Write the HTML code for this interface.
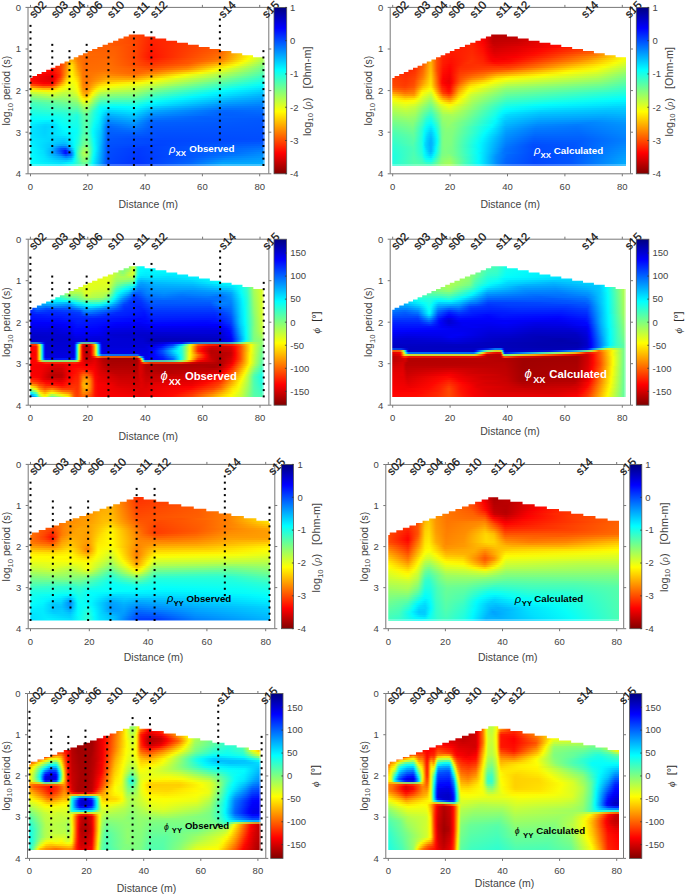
<!DOCTYPE html>
<html><head><meta charset="utf-8"><style>
html,body{margin:0;padding:0;background:#fff;}
body{width:685px;height:895px;position:relative;overflow:hidden;}
i{position:absolute;display:block;}
svg{position:absolute;left:0;top:0;}
.tl{font:9.5px "Liberation Sans",sans-serif;fill:#444;}
.al{font:10.5px "Liberation Sans",sans-serif;fill:#444;}
.cl{font:10.8px "Liberation Sans",sans-serif;fill:#444;}
.st{font:11.6px "Liberation Sans",sans-serif;fill:#111;stroke:#111;stroke-width:0.25px;}
.an{font:bold 10px "Liberation Sans",sans-serif;}
</style></head><body>
<i style="left:129px;top:30px;width:16px;height:2px;background:linear-gradient(90deg,#ff7c40 0px,#ff6840 14px,#ffb39f 15px)"></i>
<i style="left:123px;top:32px;width:33px;height:2px;background:linear-gradient(90deg,#ffbf9f 0px,#ff7f40 1px,#ff7c40 5px,#ff5000 6px,#ff3500 20px,#ff6440 22px,#ff5b40 31px,#ffad9f 32px)"></i>
<i style="left:118px;top:34px;width:48px;height:2px;background:linear-gradient(90deg,#ffc19f 0px,#ff8240 1px,#ff8040 4px,#ff5400 6px,#ff3c00 22px,#ff2400 35px,#ff2500 36px,#ff5c40 38px,#ff5e40 47px)"></i>
<i style="left:113px;top:36px;width:64px;height:2px;background:linear-gradient(90deg,#ff8540 0px,#ff8340 4px,#ff5800 6px,#ff4100 25px,#ff2400 40px,#ff2800 52px,#ff5e40 53px,#ff6040 63px)"></i>
<i style="left:108px;top:38px;width:80px;height:2px;background:linear-gradient(90deg,#ff8840 0px,#ff8640 4px,#ff5d00 5px,#ff4300 29px,#ff2200 45px,#ff2b00 68px,#ff6040 69px,#ff6440 79px)"></i>
<i style="left:102px;top:40px;width:97px;height:2px;background:linear-gradient(90deg,#ffc49f 0px,#ff8840 1px,#ff8840 5px,#ff6100 6px,#ff4200 35px,#ff2000 50px,#ff3100 85px,#ff6540 86px,#ff6e40 96px)"></i>
<i style="left:97px;top:42px;width:113px;height:2px;background:linear-gradient(90deg,#ffd7bf 0px,#ffb080 1px,#ffb080 4px,#ff6100 6px,#ff4500 39px,#ff1e00 55px,#ff3d00 100px,#ff3e00 101px,#ff9f80 102px,#ffa480 111px,#ffd2bf 112px)"></i>
<i style="left:92px;top:44px;width:129px;height:2px;background:linear-gradient(90deg,#ffb080 0px,#ffb080 4px,#ff6100 6px,#ff4c00 41px,#ff1c00 60px,#ff4a00 115px,#ff4b00 116px,#ffa680 118px,#ffab80 127px,#ffd6bf 128px)"></i>
<i style="left:87px;top:46px;width:145px;height:2px;background:linear-gradient(90deg,#ffd7bf 0px,#ffb080 1px,#ffb080 4px,#ff6100 5px,#ff5a00 31px,#ff4100 50px,#ff1b00 65px,#ff5800 132px,#ffb080 134px,#ffc880 143px,#ffe4bf 144px)"></i>
<i style="left:83px;top:48px;width:159px;height:2px;background:linear-gradient(90deg,#ffb080 0px,#ffb080 3px,#ff6100 5px,#ff5d00 33px,#ff4400 53px,#ff1900 69px,#ff5d00 137px,#ff9100 147px,#ffce80 149px,#ffe580 158px)"></i>
<i style="left:78px;top:50px;width:175px;height:2px;background:linear-gradient(90deg,#ffdabf 0px,#ffb480 1px,#ffb180 4px,#ff6200 5px,#ff6000 36px,#ff4300 58px,#ff1700 74px,#ff6100 142px,#ffcd00 163px,#ffe980 164px,#fbff83 174px)"></i>
<i style="left:73px;top:52px;width:191px;height:2px;background:linear-gradient(90deg,#ffe3bf 0px,#ffc480 1px,#ffb780 4px,#ff6800 6px,#ff6000 42px,#ff4300 63px,#ff1500 78px,#ff6600 147px,#fcff03 178px,#f7ff08 179px,#f8ff86 180px,#dfff9f 190px)"></i>
<i style="left:69px;top:54px;width:196px;height:2px;background:linear-gradient(90deg,#ffc380 0px,#ffcc80 3px,#ff8900 5px,#ff6b00 9px,#ff6600 26px,#ff6100 46px,#ff4300 67px,#ff1300 82px,#ff6c00 151px,#faff05 182px,#c0ff3f 194px,#efffd0 195px)"></i>
<i style="left:64px;top:56px;width:201px;height:2px;background:linear-gradient(90deg,#ffebdf 0px,#ffd8bf 1px,#ffdfbf 4px,#ff8900 5px,#ff9b00 8px,#ff6d00 15px,#ff6500 27px,#ff6400 49px,#ff4300 72px,#ff1200 87px,#ff7100 156px,#fcff03 186px,#beff41 199px,#ddffa1 200px)"></i>
<i style="left:60px;top:58px;width:205px;height:2px;background:linear-gradient(90deg,#ffcdbf 0px,#ffd4bf 3px,#ff6400 5px,#ffa700 11px,#ffa100 13px,#ff7600 18px,#ff6600 26px,#ff6700 52px,#ff4500 76px,#ff1900 91px,#ff7700 160px,#fcfe03 188px,#b3ff4c 203px,#d8ffa6 204px)"></i>
<i style="left:55px;top:60px;width:210px;height:2px;background:linear-gradient(90deg,#ffe4df 0px,#ffcabf 1px,#ffccbf 4px,#ff3900 5px,#ff7d00 12px,#ffb800 16px,#ffb100 18px,#ff7c00 23px,#ff6700 30px,#ff6a00 56px,#ff4600 82px,#ff2400 97px,#ff6500 147px,#ff8b00 166px,#fbfe04 190px,#a5ff5a 208px,#d1ffae 209px)"></i>
<i style="left:51px;top:62px;width:214px;height:2px;background:linear-gradient(90deg,#ffc6bf 0px,#ffc8bf 3px,#ff2900 5px,#ff4100 10px,#ff7400 15px,#ffca00 20px,#ffcc00 21px,#ff8300 27px,#ff6800 33px,#ff6b00 60px,#ff4600 88px,#ff2e00 101px,#ff5700 138px,#ffac00 171px,#f9fe06 190px,#96ff69 212px,#c9ffb5 213px)"></i>
<i style="left:46px;top:64px;width:219px;height:2px;background:linear-gradient(90deg,#ffc6bf 0px,#ffc6bf 4px,#ff1a00 5px,#ff4200 15px,#ff7900 20px,#ffdb00 25px,#ffde00 26px,#ff8900 32px,#ff6900 38px,#ff6d00 65px,#ff4000 99px,#ff3a00 108px,#ff6400 142px,#ffd200 178px,#f8fe07 190px,#87ff78 217px,#c2ffbd 218px)"></i>
<i style="left:41px;top:66px;width:224px;height:2px;background:linear-gradient(90deg,#ffe2df 0px,#ffc6bf 1px,#ffc5bf 4px,#ff1900 5px,#ff2100 13px,#ff4000 20px,#ff7e00 25px,#ffe300 30px,#ffe700 31px,#ff8f00 37px,#ff6a00 43px,#ff6f00 70px,#ff4500 112px,#ff7900 147px,#fafc05 187px,#79ff86 222px,#bbffc3 223px)"></i>
<i style="left:41px;top:68px;width:224px;height:2px;background:linear-gradient(90deg,#ff8c80 0px,#ff1900 1px,#ff1600 12px,#ff3300 19px,#ff8300 25px,#ffe700 30px,#ffea00 31px,#ff9600 37px,#ff6b00 43px,#ff7100 69px,#ff5300 110px,#ff8b00 146px,#fafd05 178px,#6dff92 222px,#b5ffc9 223px)"></i>
<i style="left:37px;top:70px;width:228px;height:2px;background:linear-gradient(90deg,#ff1500 0px,#ff0700 15px,#ff2f00 23px,#ff9b00 30px,#ffeb00 34px,#ffee00 35px,#ff8b00 43px,#ff6d00 47px,#ff7600 69px,#ff5f00 101px,#ff6f00 119px,#ffb600 152px,#f9fd06 175px,#60ff9f 226px,#afffcf 227px)"></i>
<i style="left:32px;top:72px;width:233px;height:2px;background:linear-gradient(90deg,#ff8a80 0px,#ff1500 1px,#f90000 20px,#ff2c00 28px,#ffa000 35px,#ffee00 39px,#fff300 40px,#ff7200 51px,#ff7500 62px,#ff8000 72px,#ff6400 104px,#ff8700 124px,#fafb05 168px,#54ffab 231px,#a9ffd6 232px)"></i>
<i style="left:30px;top:74px;width:235px;height:2px;background:linear-gradient(90deg,#ff8980 0px,#ff1200 1px,#f60000 15px,#ed0000 22px,#ff0900 26px,#ff2800 30px,#fff300 41px,#fff700 42px,#ff9b00 50px,#ff7500 53px,#ff7500 61px,#ff8b00 75px,#ff7300 105px,#ffac00 128px,#f8fd07 155px,#92ff6d 203px,#47ffb8 233px,#a2ffdc 234px)"></i>
<i style="left:30px;top:76px;width:235px;height:2px;background:linear-gradient(90deg,#ff8480 0px,#ff0900 1px,#e30000 19px,#e10000 22px,#ff0700 26px,#ff3000 30px,#ffba00 37px,#fff800 41px,#fff500 43px,#ffc200 48px,#ff7800 53px,#ff7400 59px,#ff9a00 77px,#ff8e00 105px,#f8fe07 146px,#abff54 183px,#38ffc7 233px,#9bffe3 234px)"></i>
<i style="left:30px;top:78px;width:235px;height:2px;background:linear-gradient(90deg,#ff8480 0px,#ff0600 1px,#db0000 22px,#fd0200 25px,#ff5500 31px,#ffbc00 36px,#fefd01 41px,#fff400 44px,#ffcd00 48px,#ff7b00 53px,#ff7400 58px,#ffa900 78px,#ffa600 104px,#fef601 130px,#cfff30 152px,#2affd5 233px,#94ffeb 234px)"></i>
<i style="left:30px;top:80px;width:235px;height:2px;background:linear-gradient(90deg,#ff8780 0px,#ff0e00 1px,#f20000 11px,#e60000 22px,#fd0300 24px,#ff6800 31px,#ffcf00 36px,#fefc01 40px,#f5ff0a 42px,#fff000 46px,#ffc600 49px,#ff7e00 53px,#ff7500 58px,#ffbb00 77px,#ffcb00 105px,#f9fd06 121px,#1bffe4 233px,#8dfff2 234px)"></i>
<i style="left:30px;top:82px;width:235px;height:2px;background:linear-gradient(90deg,#ff8f80 0px,#ff1d00 1px,#fa0000 14px,#f60000 22px,#ff1500 24px,#ffad00 33px,#ffed00 37px,#f7ff08 40px,#eeff11 42px,#fffa00 46px,#ffe300 48px,#ff8000 53px,#ff7500 57px,#ffc900 73px,#ffe000 87px,#f6fe09 112px,#68ff97 182px,#0dfff2 233px,#86fff9 234px)"></i>
<i style="left:30px;top:84px;width:235px;height:2px;background:linear-gradient(90deg,#ffa880 0px,#ff4f00 1px,#ff1f00 13px,#ff1e00 22px,#ffc300 32px,#fefc01 37px,#e7ff18 42px,#fffa00 47px,#ff8300 53px,#ff7700 57px,#ffdb00 71px,#fff700 83px,#e9ff16 106px,#4cffb3 185px,#01fcfe 233px,#80fdff 234px)"></i>
<i style="left:30px;top:86px;width:235px;height:2px;background:linear-gradient(90deg,#ffcb80 0px,#ff9400 1px,#ff6600 13px,#ff6800 22px,#ffe300 31px,#f4ff0b 36px,#e0ff1f 42px,#fcfe03 47px,#ffc600 50px,#ff8900 53px,#ff7c00 57px,#ffef00 70px,#f1ff0e 80px,#d1ff2e 107px,#85ff7a 142px,#12ffed 209px,#00f1ff 231px,#00efff 233px,#80f7ff 234px)"></i>
<i style="left:30px;top:88px;width:235px;height:2px;background:linear-gradient(90deg,#fff280 0px,#ffe300 1px,#ffb500 13px,#ffb200 22px,#fcfa03 30px,#d9ff26 40px,#e8ff17 45px,#fff900 48px,#ff9400 53px,#ff8600 57px,#ffef00 67px,#f0ff0f 71px,#d6ff29 82px,#beff41 106px,#86ff79 128px,#09fff6 201px,#00e0ff 233px,#80efff 234px)"></i>
<i style="left:30px;top:90px;width:235px;height:2px;background:linear-gradient(90deg,#f3ff8c 0px,#e8ff17 1px,#fdf202 19px,#f0ff0f 27px,#ceff31 37px,#d6ff29 43px,#edff12 47px,#fbfe04 48px,#ffa000 53px,#ff9000 57px,#fff500 65px,#d9ff26 70px,#beff41 81px,#acff53 105px,#72ff8d 126px,#01fcfe 193px,#00d1ff 233px,#80e8ff 234px)"></i>
<i style="left:30px;top:92px;width:235px;height:2px;background:linear-gradient(90deg,#e0ff9f 0px,#c2ff3d 1px,#e4ff1b 22px,#c1ff3e 33px,#c4ff3b 42px,#e2ff1d 47px,#fef901 49px,#ffac00 53px,#ff9b00 57px,#fef801 63px,#b6ff49 71px,#a4ff5b 83px,#98ff67 105px,#5fffa0 125px,#00f8ff 185px,#00c3ff 233px,#80e1ff 234px)"></i>
<i style="left:30px;top:94px;width:235px;height:2px;background:linear-gradient(90deg,#ceffb0 0px,#9fff60 1px,#c7ff38 23px,#afff50 33px,#bbff44 43px,#d0ff2f 47px,#f3ff0c 49px,#ffe200 51px,#ffbc00 53px,#ffab00 57px,#f9fd06 62px,#9eff61 70px,#8cff73 82px,#84ff7b 105px,#4affb5 125px,#00f9ff 174px,#00b5ff 233px,#80daff 234px)"></i>
<i style="left:30px;top:96px;width:235px;height:2px;background:linear-gradient(90deg,#c2ffbc 0px,#87ff78 1px,#adff52 23px,#9dff62 34px,#b7ff48 46px,#caff35 48px,#fdf902 51px,#ffd000 54px,#ffc900 57px,#fdf802 60px,#acff53 66px,#7eff81 71px,#74ff8b 88px,#6fff90 105px,#35ffca 125px,#00f8ff 162px,#00c0ff 209px,#00aaff 233px,#80d4ff 234px)"></i>
<i style="left:30px;top:98px;width:235px;height:2px;background:linear-gradient(90deg,#b7ffc7 0px,#71ff8e 1px,#90ff6f 24px,#8dff72 36px,#a9ff56 47px,#f9fd06 52px,#ffe700 56px,#f7fe08 59px,#a8ff57 64px,#65ff9a 71px,#5cffa3 86px,#59ffa6 105px,#20ffdf 125px,#00f5ff 152px,#00b7ff 203px,#00a0ff 233px,#80cfff 234px)"></i>
<i style="left:30px;top:100px;width:235px;height:2px;background:linear-gradient(90deg,#acffd2 0px,#5affa5 1px,#75ff8a 28px,#8bff74 41px,#96ff69 47px,#ecff13 53px,#f6fe09 57px,#87ff78 65px,#4effb1 71px,#44ffbb 84px,#43ffbc 105px,#0bfff4 125px,#00e5ff 151px,#00aaff 201px,#0095ff 233px,#80caff 234px)"></i>
<i style="left:30px;top:102px;width:235px;height:2px;background:linear-gradient(90deg,#a2ffdc 0px,#46ffb9 1px,#70ff8f 37px,#80ff7f 45px,#8cff73 48px,#cfff30 53px,#d9ff26 57px,#50ffaf 68px,#36ffc9 71px,#2cffd3 83px,#2dffd2 105px,#01fafe 122px,#009eff 198px,#008bff 233px,#80c5ff 234px)"></i>
<i style="left:30px;top:104px;width:235px;height:2px;background:linear-gradient(90deg,#9dffe2 0px,#3bffc4 1px,#60ff9f 36px,#72ff8d 44px,#79ff86 48px,#b4ff4b 53px,#bdff42 57px,#23ffdc 70px,#13ffec 81px,#18ffe7 105px,#00f3ff 117px,#0092ff 192px,#0081ff 233px,#80c0ff 234px)"></i>
<i style="left:30px;top:106px;width:235px;height:2px;background:linear-gradient(90deg,#99ffe6 0px,#33ffcc 1px,#53ffac 36px,#64ff9b 43px,#62ff9d 47px,#a5ff5a 54px,#a8ff57 57px,#0efff1 70px,#01fbfe 82px,#02fdfd 106px,#00cfff 125px,#0081ff 196px,#0077ff 233px,#80bbff 234px)"></i>
<i style="left:30px;top:108px;width:235px;height:2px;background:linear-gradient(90deg,#95ffea 0px,#2bffd4 1px,#46ffb9 36px,#56ffa9 43px,#51ffae 47px,#93ff6c 54px,#97ff68 57px,#2affd5 66px,#00feff 71px,#00e9ff 80px,#00f6ff 104px,#00beff 123px,#0073ff 195px,#0071ff 233px,#80b8ff 234px)"></i>
<i style="left:30px;top:110px;width:235px;height:2px;background:linear-gradient(90deg,#91ffee 0px,#22ffdd 1px,#38ffc7 36px,#48ffb7 43px,#41ffbe 47px,#81ff7e 54px,#85ff7a 57px,#2cffd3 64px,#01fefe 70px,#00d5ff 79px,#00e8ff 104px,#00aaff 123px,#0066ff 194px,#006cff 233px,#80b6ff 234px)"></i>
<i style="left:30px;top:112px;width:235px;height:2px;background:linear-gradient(90deg,#8cfff2 0px,#1affe5 1px,#2affd5 35px,#3affc5 43px,#31ffce 47px,#70ff8f 54px,#73ff8c 57px,#24ffdb 64px,#00faff 70px,#00c3ff 78px,#00dbff 104px,#009cff 122px,#0061ff 195px,#0067ff 233px,#80b3ff 234px)"></i>
<i style="left:30px;top:114px;width:235px;height:2px;background:linear-gradient(90deg,#88fff6 0px,#12ffed 1px,#1affe5 28px,#26ffd9 38px,#2dffd2 43px,#22ffdd 47px,#5fffa0 54px,#63ff9c 57px,#18ffe7 65px,#00f5ff 70px,#00b1ff 78px,#00cdff 104px,#008eff 122px,#005fff 195px,#0062ff 233px,#80b1ff 234px)"></i>
<i style="left:30px;top:116px;width:235px;height:2px;background:linear-gradient(90deg,#85fffa 0px,#0afff5 1px,#0dfff2 25px,#22ffdd 39px,#26ffd9 43px,#1bffe4 47px,#58ffa7 54px,#5dffa2 57px,#0dfff2 66px,#00f8ff 69px,#00a2ff 78px,#00c0ff 104px,#0080ff 122px,#0062ff 171px,#005dff 233px,#80aeff 234px)"></i>
<i style="left:30px;top:118px;width:235px;height:2px;background:linear-gradient(90deg,#81fffd 0px,#03fffc 1px,#06fff9 26px,#21ffde 43px,#18ffe7 47px,#57ffa8 54px,#5bffa4 57px,#0ffff0 65px,#00f4ff 69px,#0096ff 78px,#00b3ff 104px,#0073ff 122px,#005dff 176px,#0059ff 233px,#80acff 234px)"></i>
<i style="left:30px;top:120px;width:235px;height:2px;background:linear-gradient(90deg,#80feff 0px,#00fbff 1px,#00eeff 21px,#0bfff4 30px,#1dffe2 43px,#15ffea 47px,#56ffa9 54px,#5affa5 57px,#0afff5 65px,#00efff 69px,#0089ff 78px,#00a5ff 104px,#0066ff 122px,#0056ff 233px,#80abff 234px)"></i>
<i style="left:30px;top:122px;width:235px;height:2px;background:linear-gradient(90deg,#80faff 0px,#00f4ff 1px,#00e3ff 17px,#00ecff 24px,#06fff9 30px,#19ffe6 43px,#13ffec 47px,#55ffaa 54px,#58ffa7 57px,#0cfff3 64px,#00f2ff 68px,#00cbff 72px,#007dff 78px,#0099ff 104px,#005fff 122px,#0055ff 233px,#80aaff 234px)"></i>
<i style="left:30px;top:124px;width:235px;height:2px;background:linear-gradient(90deg,#80f7ff 0px,#00edff 1px,#00d7ff 15px,#00ddff 23px,#03fffc 31px,#13ffec 44px,#17ffe8 48px,#53ffac 54px,#57ffa8 57px,#07fff8 64px,#00dfff 70px,#0070ff 78px,#008eff 104px,#005cff 122px,#0054ff 233px,#80aaff 234px)"></i>
<i style="left:30px;top:126px;width:235px;height:2px;background:linear-gradient(90deg,#80f4ff 0px,#00e7ff 1px,#00d2ff 15px,#00d9ff 23px,#00feff 32px,#0ffff0 44px,#15ffea 48px,#4dffb2 53px,#56ffa9 57px,#02fffd 64px,#00dbff 70px,#0066ff 78px,#0084ff 104px,#0058ff 123px,#0053ff 233px,#80a9ff 234px)"></i>
<i style="left:30px;top:128px;width:235px;height:2px;background:linear-gradient(90deg,#80f2ff 0px,#00e4ff 1px,#00d2ff 15px,#00deff 24px,#00fcff 33px,#0bfff4 47px,#51ffae 54px,#54ffab 57px,#05fffa 63px,#00d7ff 70px,#0062ff 78px,#0077ff 105px,#0055ff 123px,#0052ff 233px,#80a9ff 234px)"></i>
<i style="left:30px;top:130px;width:235px;height:2px;background:linear-gradient(90deg,#80f2ff 0px,#00e4ff 1px,#00d3ff 15px,#00e1ff 25px,#01fffe 38px,#08fff7 47px,#50ffaf 54px,#53ffac 57px,#02fefd 63px,#00c7ff 71px,#0060ff 78px,#006bff 106px,#0052ff 124px,#0051ff 233px,#80a8ff 234px)"></i>
<i style="left:30px;top:132px;width:235px;height:2px;background:linear-gradient(90deg,#80f2ff 0px,#00e4ff 1px,#00d3ff 15px,#00f4ff 35px,#08fff7 47px,#51ffae 54px,#55ffaa 57px,#01fdfe 63px,#00c3ff 71px,#005dff 78px,#0061ff 107px,#004fff 126px,#0050ff 233px,#80a8ff 234px)"></i>
<i style="left:30px;top:134px;width:235px;height:2px;background:linear-gradient(90deg,#80f2ff 0px,#00e4ff 1px,#00d5ff 15px,#00f2ff 38px,#06fff9 45px,#13ffec 48px,#51ffae 53px,#5bffa4 57px,#03fffc 63px,#00c0ff 71px,#005bff 78px,#0058ff 109px,#004dff 129px,#004fff 233px,#80a7ff 234px)"></i>
<i style="left:30px;top:136px;width:235px;height:2px;background:linear-gradient(90deg,#80f3ff 0px,#00e5ff 1px,#00d7ff 15px,#00e0ff 36px,#03fffc 44px,#17ffe8 48px,#56ffa9 53px,#61ff9e 57px,#06fff9 63px,#00beff 71px,#0059ff 78px,#0050ff 112px,#004bff 135px,#004eff 233px,#80a7ff 234px)"></i>
<i style="left:30px;top:138px;width:235px;height:2px;background:linear-gradient(90deg,#80f4ff 0px,#00e8ff 1px,#00d8ff 17px,#00d2ff 35px,#02fffd 44px,#1affe5 48px,#5bffa4 53px,#67ff98 57px,#01fdfe 64px,#00bbff 71px,#0056ff 78px,#0048ff 117px,#004dff 233px,#80a6ff 234px)"></i>
<i style="left:30px;top:140px;width:235px;height:2px;background:linear-gradient(90deg,#80f6ff 0px,#00ebff 1px,#00c7ff 34px,#00d8ff 38px,#01fffe 44px,#1effe1 48px,#60ff9f 53px,#6eff91 57px,#02fffd 64px,#00b8ff 71px,#0054ff 78px,#0045ff 131px,#0050ff 233px,#80a7ff 234px)"></i>
<i style="left:30px;top:142px;width:235px;height:2px;background:linear-gradient(90deg,#80f7ff 0px,#00efff 1px,#00c7ff 26px,#00bcff 34px,#00c6ff 37px,#01fefe 44px,#21ffde 48px,#65ff9a 53px,#74ff8b 57px,#05fffa 64px,#00b5ff 71px,#0052ff 78px,#0045ff 131px,#0059ff 233px,#80acff 234px)"></i>
<i style="left:30px;top:144px;width:235px;height:2px;background:linear-gradient(90deg,#80f9ff 0px,#00f2ff 1px,#00c4ff 24px,#00a6ff 32px,#00aaff 36px,#01fefe 44px,#35ffca 49px,#74ff8b 54px,#7cff83 57px,#07fff8 64px,#00ccff 69px,#0050ff 78px,#0042ff 125px,#0062ff 233px,#80b1ff 234px)"></i>
<i style="left:30px;top:146px;width:235px;height:2px;background:linear-gradient(90deg,#80fbff 0px,#00f5ff 1px,#00c8ff 21px,#0079ff 31px,#007aff 36px,#00f0ff 43px,#0bfff4 45px,#7cff83 53px,#8aff75 57px,#0afff5 64px,#00f0ff 66px,#004fff 78px,#003fff 113px,#006cff 233px,#80b6ff 234px)"></i>
<i style="left:30px;top:148px;width:235px;height:2px;background:linear-gradient(90deg,#80fcff 0px,#00f8ff 1px,#00d7ff 15px,#00b8ff 22px,#0051ff 31px,#0041ff 35px,#0045ff 36px,#05fefa 45px,#80ff7f 52px,#98ff67 55px,#98ff67 57px,#0bfff4 64px,#00f0ff 66px,#004dff 78px,#003bff 109px,#0073ff 228px,#0076ff 233px,#80baff 234px)"></i>
<i style="left:30px;top:150px;width:235px;height:2px;background:linear-gradient(90deg,#80fdff 0px,#00faff 1px,#00e1ff 13px,#00b2ff 22px,#002fff 33px,#0014ff 35px,#0013ff 36px,#00a4ff 42px,#02fafd 45px,#4cffb3 48px,#9eff61 53px,#a6ff59 57px,#18ffe7 63px,#00f9ff 65px,#004cff 78px,#0039ff 109px,#0071ff 214px,#007fff 233px,#80bfff 234px)"></i>
<i style="left:30px;top:152px;width:235px;height:2px;background:linear-gradient(90deg,#80fdff 0px,#00fbff 1px,#00deff 14px,#00adff 23px,#0056ff 31px,#0013ff 35px,#000eff 36px,#006aff 41px,#00cfff 44px,#00f4ff 45px,#3dffc2 47px,#9cff63 52px,#b0ff4f 54px,#b0ff4f 57px,#48ffb7 61px,#14ffeb 63px,#04fffb 64px,#004bff 78px,#0038ff 108px,#006dff 201px,#0089ff 233px,#80c4ff 234px)"></i>
<i style="left:30px;top:154px;width:235px;height:2px;background:linear-gradient(90deg,#80feff 0px,#00fcff 1px,#00e2ff 14px,#00a4ff 26px,#007cff 31px,#0043ff 36px,#0074ff 41px,#00adff 43px,#00f4ff 45px,#3bffc4 47px,#95ff6a 52px,#a8ff57 54px,#a6ff59 57px,#0ffff0 63px,#01fdfe 64px,#004aff 78px,#0037ff 108px,#005cff 171px,#0090ff 233px,#80c8ff 234px)"></i>
<i style="left:30px;top:156px;width:235px;height:2px;background:linear-gradient(90deg,#80ffff 0px,#00feff 1px,#00e5ff 14px,#00a4ff 31px,#007cff 36px,#009bff 41px,#00c7ff 43px,#04fcfb 45px,#4dffb2 48px,#96ff69 53px,#98ff67 57px,#0afff5 63px,#00ecff 65px,#0049ff 78px,#0035ff 108px,#0058ff 163px,#0083ff 202px,#0096ff 233px,#80cbff 234px)"></i>
<i style="left:30px;top:158px;width:235px;height:2px;background:linear-gradient(90deg,#80ffff 0px,#00ffff 1px,#00e6ff 15px,#00b2ff 33px,#00aaff 37px,#00c0ff 41px,#00f6ff 44px,#22ffdd 46px,#72ff8d 51px,#8eff71 54px,#8aff75 57px,#05fffa 63px,#0048ff 78px,#0034ff 108px,#005bff 161px,#008bff 196px,#009dff 233px,#80ceff 234px)"></i>
<i style="left:30px;top:160px;width:235px;height:2px;background:linear-gradient(90deg,#80fffe 0px,#01fffe 1px,#00e3ff 18px,#00cbff 36px,#00e6ff 42px,#06fff9 44px,#74ff8b 52px,#81ff7e 55px,#7cff83 57px,#02fcfd 63px,#0047ff 78px,#0033ff 108px,#0060ff 160px,#0096ff 193px,#00a4ff 233px,#80d1ff 234px)"></i>
<i style="left:30px;top:162px;width:235px;height:2px;background:linear-gradient(90deg,#81fffd 0px,#03fffc 1px,#00dfff 31px,#02fbfd 42px,#6cff93 53px,#6aff95 57px,#0cfff3 62px,#00ebff 64px,#0046ff 78px,#0032ff 108px,#0066ff 160px,#00a3ff 192px,#00aaff 233px,#80d5ff 234px)"></i>
<i style="left:30px;top:164px;width:235px;height:2px;background:linear-gradient(90deg,#a1fffd 0px,#42fffc 1px,#40f1ff 31px,#4afff5 41px,#87ffb8 54px,#83ffbc 57px,#44fffb 62px,#4074ff 78px,#4066ff 110px,#4093ff 162px,#40c2ff 193px,#40c4ff 233px,#9fe1ff 234px)"></i>
<i style="left:491px;top:30px;width:16px;height:2px;background:linear-gradient(90deg,#ce4040 0px,#c64040 8px,#c74040 15px)"></i>
<i style="left:486px;top:32px;width:32px;height:2px;background:linear-gradient(90deg,#e94040 0px,#d44040 4px,#be0000 5px,#b30000 9px,#b50000 20px,#c84040 21px,#d14040 31px)"></i>
<i style="left:480px;top:34px;width:49px;height:2px;background:linear-gradient(90deg,#ffa29f 0px,#ff4340 1px,#ef4040 5px,#e20000 6px,#b50000 13px,#bb0000 31px,#c20000 37px,#d24040 38px,#da4040 47px,#ed9f9f 48px)"></i>
<i style="left:475px;top:36px;width:65px;height:2px;background:linear-gradient(90deg,#ffa79f 0px,#ff4e40 1px,#ff4840 4px,#ff0500 6px,#b70000 19px,#bd0000 37px,#ce0000 52px,#dc4040 54px,#e74040 63px,#f49f9f 64px)"></i>
<i style="left:470px;top:38px;width:81px;height:2px;background:linear-gradient(90deg,#ff5a40 0px,#ff5240 4px,#ff1300 6px,#f90000 13px,#bc0000 23px,#c10000 43px,#df0000 68px,#ea4040 70px,#f64040 79px,#fb9f9f 80px)"></i>
<i style="left:465px;top:40px;width:97px;height:2px;background:linear-gradient(90deg,#ff5740 0px,#ff5a40 4px,#ff2300 5px,#fc0000 18px,#c00000 28px,#c70000 51px,#eb0000 79px,#f40000 84px,#f94040 86px,#ff4640 95px,#ffa39f 96px)"></i>
<i style="left:459px;top:42px;width:113px;height:2px;background:linear-gradient(90deg,#ffc6bf 0px,#ff8d80 1px,#ff8f80 5px,#ff2000 6px,#ff1b00 15px,#fa0000 25px,#c40000 34px,#ce0000 58px,#ff0600 99px,#ff0900 101px,#ff8580 103px,#ff8e80 112px)"></i>
<i style="left:454px;top:44px;width:129px;height:2px;background:linear-gradient(90deg,#ffc6bf 0px,#ff8c80 1px,#ff8c80 4px,#ff1b00 6px,#ff2100 18px,#ff0400 29px,#c80000 40px,#d70000 66px,#ff0700 104px,#ff1d00 117px,#ff8f80 118px,#ff9a80 128px)"></i>
<i style="left:450px;top:46px;width:144px;height:2px;background:linear-gradient(90deg,#ff8c80 0px,#ff8c80 3px,#ff1a00 5px,#ff2300 22px,#ff0800 33px,#d70000 41px,#ce0000 47px,#ee0000 85px,#ff0b00 109px,#ff3600 132px,#ff9c80 133px,#ffa680 143px)"></i>
<i style="left:445px;top:48px;width:160px;height:2px;background:linear-gradient(90deg,#ff9080 0px,#ff8d80 4px,#ff1a00 5px,#ff2300 28px,#ff0c00 38px,#f40000 42px,#d40000 49px,#e20000 72px,#ff0800 103px,#ff4d00 148px,#ffa880 149px,#ffc480 159px)"></i>
<i style="left:440px;top:50px;width:176px;height:2px;background:linear-gradient(90deg,#ffccbf 0px,#ff9680 1px,#ff9080 4px,#ff2000 5px,#ff1e00 20px,#ff2700 32px,#ff0f00 43px,#f30000 48px,#da0000 54px,#e70000 76px,#ff0800 101px,#ff5400 154px,#ff8b00 164px,#ffc880 165px,#ffe180 174px,#fff1bf 175px)"></i>
<i style="left:436px;top:52px;width:190px;height:2px;background:linear-gradient(90deg,#ffac80 0px,#ff9d80 3px,#ff2e00 5px,#ff1700 14px,#ff2800 36px,#ff1300 47px,#f80000 52px,#e00000 58px,#ed0000 79px,#ff0900 100px,#ff6400 158px,#ffc800 178px,#ffe980 180px,#fffe80 189px)"></i>
<i style="left:431px;top:54px;width:195px;height:2px;background:linear-gradient(90deg,#ffeabf 0px,#ffcf80 1px,#ffb580 4px,#ff5900 5px,#ff2600 11px,#ff1700 21px,#ff2a00 41px,#ff1700 52px,#f80000 58px,#e60000 64px,#f30000 84px,#ff0e00 103px,#ff7b00 164px,#fffe00 194px)"></i>
<i style="left:427px;top:56px;width:199px;height:2px;background:linear-gradient(90deg,#ffe1bf 0px,#ffe9bf 3px,#ffa000 5px,#ff4b00 10px,#ff2000 16px,#ff1500 25px,#ff2c00 45px,#ff1b00 56px,#f90000 63px,#ec0000 69px,#fc0000 89px,#ff2f00 120px,#ff9200 169px,#feff01 198px)"></i>
<i style="left:422px;top:58px;width:204px;height:2px;background:linear-gradient(90deg,#ffd2bf 0px,#ffdfbf 4px,#ff8900 5px,#ffad00 9px,#ff4b00 15px,#ff1e00 21px,#ff1100 29px,#ff2e00 50px,#ff1e00 61px,#fa0000 69px,#f30000 82px,#ff1000 100px,#ff8f00 166px,#faff05 201px,#f4ff0b 203px)"></i>
<i style="left:417px;top:60px;width:209px;height:2px;background:linear-gradient(90deg,#ffe6df 0px,#ffcdbf 1px,#ffd1bf 4px,#ff4c00 5px,#ffad00 13px,#ffb000 14px,#ff4b00 20px,#ff1c00 26px,#ff0f00 34px,#ff3100 54px,#ff2200 66px,#fa0000 76px,#ff0800 94px,#ff8a00 161px,#ffd500 188px,#f7ff08 203px,#e8ff17 208px)"></i>
<i style="left:413px;top:62px;width:213px;height:2px;background:linear-gradient(90deg,#ffc8bf 0px,#ffcbbf 3px,#ff3800 5px,#ff5700 10px,#ffb000 17px,#ffb300 18px,#ff4b00 24px,#ff1b00 30px,#ff0d00 38px,#ff3100 55px,#ff2700 70px,#ff0a00 82px,#ff1300 96px,#ffc100 180px,#f9ff06 202px,#dbff24 212px)"></i>
<i style="left:408px;top:64px;width:218px;height:2px;background:linear-gradient(90deg,#ffe4df 0px,#ffc8bf 1px,#ffc8bf 4px,#ff2400 5px,#ff5000 14px,#ffb300 22px,#ffb600 23px,#ff4b00 29px,#ff1900 35px,#ff0800 42px,#ff2c00 56px,#ff3100 70px,#ff1d00 91px,#ff3300 108px,#ffee00 194px,#f0ff0f 205px,#ceff31 217px)"></i>
<i style="left:404px;top:66px;width:222px;height:2px;background:linear-gradient(90deg,#ffc8bf 0px,#ffc8bf 3px,#ff2400 5px,#ff2b00 11px,#ff6000 19px,#ffb600 26px,#ffb900 27px,#ff4b00 33px,#ff1600 39px,#ff0500 46px,#ff2b00 57px,#ff3400 73px,#ff3700 104px,#ff7400 135px,#ffc600 169px,#f8ff07 200px,#c0ff3f 221px)"></i>
<i style="left:404px;top:68px;width:222px;height:2px;background:linear-gradient(90deg,#ff2400 0px,#ff2e00 11px,#ff6500 19px,#ffba00 26px,#ffbd00 27px,#ff4b00 33px,#ff1200 39px,#ff0200 46px,#ff2e00 56px,#ff4f00 105px,#ffa800 144px,#ffdd00 168px,#f8ff07 193px,#b1ff4e 221px)"></i>
<i style="left:399px;top:70px;width:227px;height:2px;background:linear-gradient(90deg,#ff2c00 0px,#ff2800 10px,#ff3300 16px,#ff6a00 24px,#ffbe00 31px,#ffc100 32px,#ff4d00 38px,#ff0f00 44px,#fe0000 51px,#ff3300 61px,#ff5000 87px,#ff6300 101px,#ffb500 141px,#fff400 171px,#ebff14 196px,#a3ff5c 226px)"></i>
<i style="left:394px;top:72px;width:232px;height:2px;background:linear-gradient(90deg,#ff9a80 0px,#ff3400 1px,#ff2900 13px,#ff3700 21px,#ff6f00 29px,#ffc200 36px,#ffc600 37px,#ff4400 44px,#ff0b00 49px,#fb0000 56px,#ff3a00 66px,#ff5400 82px,#ff6500 91px,#ff8600 104px,#f9ff06 171px,#d4ff2b 204px,#94ff6b 231px)"></i>
<i style="left:392px;top:74px;width:234px;height:2px;background:linear-gradient(90deg,#ff9b80 0px,#ff3700 1px,#ff2c00 15px,#ff3c00 23px,#ff7500 31px,#ffc800 38px,#ffcb00 39px,#ff4700 46px,#ff0700 51px,#f70000 58px,#ff2000 63px,#ff4000 68px,#ff6300 82px,#ff7800 92px,#ffa800 105px,#fef801 152px,#c4ff3b 206px,#87ff78 233px)"></i>
<i style="left:392px;top:76px;width:234px;height:2px;background:linear-gradient(90deg,#ff9c80 0px,#ff3900 1px,#ff2e00 14px,#ff4100 23px,#ff7c00 31px,#ffcd00 38px,#ffd000 39px,#ff3a00 47px,#ff0400 51px,#f40000 58px,#ff1000 61px,#ff4700 68px,#ff7200 81px,#ff8900 91px,#ffc800 104px,#ffea00 118px,#f2ff0d 146px,#b5ff4a 206px,#7cff83 233px)"></i>
<i style="left:392px;top:78px;width:234px;height:2px;background:linear-gradient(90deg,#ff9e80 0px,#ff3d00 1px,#ff3100 14px,#ff4600 23px,#ff8500 31px,#ffd300 38px,#ffd500 39px,#ff2a00 48px,#fe0100 51px,#f10000 58px,#ff0f00 61px,#ff4e00 68px,#ff8600 80px,#ffa500 91px,#ffe800 104px,#f9fe06 114px,#a3ff5c 207px,#70ff8f 233px)"></i>
<i style="left:392px;top:80px;width:234px;height:2px;background:linear-gradient(90deg,#ffa080 0px,#ff4100 1px,#ff3400 14px,#ff4400 22px,#ffa900 33px,#ffd900 38px,#ffda00 39px,#ff0700 50px,#eb0000 57px,#ff0400 60px,#ff5600 68px,#ffa000 79px,#ffd100 93px,#fdfc02 103px,#e0ff1f 118px,#94ff6b 207px,#65ff9a 233px)"></i>
<i style="left:392px;top:82px;width:234px;height:2px;background:linear-gradient(90deg,#ffa280 0px,#ff4400 1px,#ff3700 14px,#ff4900 22px,#ffde00 38px,#ffdf00 39px,#ff0900 50px,#f70000 53px,#ef0000 58px,#ff0700 60px,#ff6400 68px,#ffbc00 79px,#f8fe07 99px,#cdff32 115px,#83ff7c 208px,#5affa5 233px)"></i>
<i style="left:392px;top:84px;width:234px;height:2px;background:linear-gradient(90deg,#ffa480 0px,#ff4800 1px,#ff3900 13px,#ff4e00 22px,#ffbe00 33px,#ffe400 38px,#ffe400 39px,#ff1400 50px,#fd0000 54px,#f80000 58px,#ff2000 61px,#ff7800 68px,#ffd700 79px,#fafe05 91px,#b7ff48 115px,#72ff8d 209px,#4fffb0 233px)"></i>
<i style="left:392px;top:86px;width:234px;height:2px;background:linear-gradient(90deg,#ffa980 0px,#ff5100 1px,#ff4000 13px,#ff5600 22px,#ffbf00 31px,#ffef00 38px,#ffee00 39px,#ff2000 50px,#fe0100 56px,#fe0200 58px,#ff8200 67px,#ffea00 78px,#f3ff0c 88px,#a2ff5d 115px,#62ff9d 210px,#43ffbc 233px)"></i>
<i style="left:392px;top:88px;width:234px;height:2px;background:linear-gradient(90deg,#ffb280 0px,#ff6400 1px,#ff4f00 13px,#ff6500 22px,#ffd600 31px,#fbfe04 38px,#fff300 40px,#ff2c00 50px,#ff0800 56px,#ff0a00 58px,#ff9600 67px,#fefb01 78px,#90ff6f 114px,#52ffad 211px,#38ffc7 233px)"></i>
<i style="left:392px;top:90px;width:234px;height:2px;background:linear-gradient(90deg,#ffbf80 0px,#ff7c00 1px,#ff6000 13px,#ff7400 22px,#ffe800 30px,#f6ff09 36px,#e9ff16 39px,#fff400 41px,#ff3900 50px,#ff1600 55px,#ff0d00 57px,#ff2200 59px,#ffa900 67px,#fefc01 76px,#82ff7d 113px,#3fffc0 215px,#2dffd2 233px)"></i>
<i style="left:392px;top:92px;width:234px;height:2px;background:linear-gradient(90deg,#ffd180 0px,#ffa100 1px,#ff7400 13px,#ff8300 22px,#fdfc02 30px,#e3ff1c 36px,#d5ff2a 39px,#fef701 42px,#ff7900 48px,#ff3f00 51px,#ff1d00 57px,#ff3200 59px,#ffbd00 67px,#f8ff07 75px,#daff25 80px,#73ff8c 114px,#24ffdb 230px,#22ffdd 233px)"></i>
<i style="left:392px;top:94px;width:234px;height:2px;background:linear-gradient(90deg,#ffe480 0px,#ffc500 1px,#ff9200 13px,#ff9800 22px,#fcfd03 29px,#e6ff19 32px,#c2ff3d 39px,#fefa01 43px,#ff6300 51px,#ff3e00 57px,#ff5100 59px,#ffd000 67px,#f9ff06 73px,#cdff32 79px,#64ff9b 115px,#17ffe8 233px)"></i>
<i style="left:392px;top:96px;width:234px;height:2px;background:linear-gradient(90deg,#fff380 0px,#ffe400 1px,#ffb500 13px,#ffbd00 22px,#f8fe07 28px,#dbff24 31px,#b3ff4c 39px,#fcfc03 44px,#ff8a00 51px,#ff6200 57px,#ff7200 59px,#ffe300 67px,#fbfe04 71px,#c2ff3d 79px,#56ffa9 115px,#0bfff4 233px)"></i>
<i style="left:392px;top:98px;width:234px;height:2px;background:linear-gradient(90deg,#fdfe81 0px,#fcfc03 1px,#ffd600 13px,#ffe300 22px,#f6fe09 26px,#c8ff37 32px,#a3ff5c 39px,#f8fe07 45px,#ffaf00 51px,#ff8700 57px,#ff9400 59px,#fff600 67px,#ddff22 73px,#b6ff49 80px,#48ffb7 115px,#0efff1 206px,#01fefe 233px)"></i>
<i style="left:392px;top:100px;width:234px;height:2px;background:linear-gradient(90deg,#f5ff89 0px,#edff12 1px,#fff300 13px,#f8ff07 23px,#9bff64 37px,#94ff6b 39px,#fafd05 47px,#ffc500 53px,#ffae00 58px,#fcfd03 66px,#acff53 80px,#3affc5 115px,#19ffe6 163px,#00f8ff 223px,#00f4ff 233px)"></i>
<i style="left:392px;top:102px;width:234px;height:2px;background:linear-gradient(90deg,#eeff91 0px,#deff21 1px,#f4ff0b 14px,#edff12 22px,#86ff79 38px,#8eff71 40px,#f8fe07 49px,#ffd400 58px,#fbfd04 64px,#a2ff5d 80px,#2dffd2 114px,#0cfff3 159px,#00ecff 222px,#00e9ff 233px)"></i>
<i style="left:392px;top:104px;width:234px;height:2px;background:linear-gradient(90deg,#e6ff98 0px,#cfff30 1px,#e5ff1a 14px,#d4ff2b 23px,#77ff88 38px,#7eff81 40px,#d5ff2a 48px,#f9fd06 54px,#fdf902 59px,#91ff6e 82px,#1fffe0 114px,#02fdfd 151px,#00deff 233px)"></i>
<i style="left:392px;top:106px;width:234px;height:2px;background:linear-gradient(90deg,#dfff9f 0px,#c1ff3e 1px,#d8ff27 13px,#c4ff3b 23px,#8dff72 32px,#68ff97 39px,#ccff33 49px,#f1ff0e 57px,#b3ff4c 72px,#7aff85 86px,#12ffed 114px,#00f5ff 142px,#00d4ff 224px,#00d3ff 233px)"></i>
<i style="left:392px;top:108px;width:234px;height:2px;background:linear-gradient(90deg,#daffa5 0px,#b6ff49 1px,#caff35 14px,#b9ff46 23px,#80ff7f 32px,#5affa5 39px,#cdff32 51px,#e0ff1f 58px,#49ffb6 97px,#05fffa 114px,#00deff 161px,#00caff 217px,#00cbff 233px)"></i>
<i style="left:392px;top:110px;width:234px;height:2px;background:linear-gradient(90deg,#d5ffaa 0px,#acff53 1px,#beff41 14px,#b0ff4f 23px,#74ff8b 32px,#4dffb2 39px,#beff41 51px,#ccff33 59px,#1effe1 105px,#00faff 112px,#00d5ff 148px,#00c0ff 214px,#00c3ff 233px)"></i>
<i style="left:392px;top:112px;width:234px;height:2px;background:linear-gradient(90deg,#d0ffaf 0px,#a2ff5d 1px,#b3ff4c 15px,#a7ff58 23px,#67ff98 32px,#41ffbe 38px,#46ffb9 40px,#b0ff4f 51px,#bcff43 59px,#91ff6e 73px,#1affe5 104px,#00f8ff 110px,#00e3ff 119px,#00c7ff 148px,#00b8ff 214px,#00bcff 233px)"></i>
<i style="left:392px;top:114px;width:234px;height:2px;background:linear-gradient(90deg,#cbffb3 0px,#98ff67 1px,#aaff55 15px,#9fff60 23px,#5bffa4 32px,#34ffcb 38px,#39ffc6 40px,#a3ff5c 51px,#aaff55 61px,#91ff6e 71px,#18ffe7 103px,#00f8ff 108px,#00ddff 114px,#00bcff 148px,#00aeff 213px,#00b4ff 233px)"></i>
<i style="left:392px;top:116px;width:234px;height:2px;background:linear-gradient(90deg,#c6ffb8 0px,#8eff71 1px,#a0ff5f 16px,#96ff69 23px,#5bffa4 31px,#36ffc9 35px,#25ffda 39px,#8bff74 49px,#9eff61 52px,#a1ff5e 62px,#86ff79 72px,#10ffef 103px,#00f6ff 107px,#00d4ff 114px,#00b2ff 148px,#00a5ff 211px,#00adff 233px)"></i>
<i style="left:392px;top:118px;width:234px;height:2px;background:linear-gradient(90deg,#c1ffbd 0px,#85ff7a 1px,#97ff68 17px,#8eff71 23px,#51ffae 31px,#2fffd0 34px,#18ffe7 39px,#6bff94 47px,#98ff67 51px,#9eff61 60px,#7eff81 72px,#08fff7 103px,#00dcff 110px,#00c8ff 117px,#00a7ff 148px,#009bff 209px,#00a5ff 233px)"></i>
<i style="left:392px;top:120px;width:234px;height:2px;background:linear-gradient(90deg,#bdffc2 0px,#7cff83 1px,#8fff70 19px,#86ff79 23px,#47ffb8 31px,#24ffdb 34px,#0cfff3 39px,#55ffaa 46px,#94ff6b 51px,#99ff66 60px,#5cffa3 79px,#00faff 104px,#00c6ff 113px,#009eff 146px,#008fff 203px,#009eff 233px)"></i>
<i style="left:392px;top:122px;width:234px;height:2px;background:linear-gradient(90deg,#b9ffc6 0px,#73ff8c 1px,#88ff77 21px,#3dffc2 31px,#19ffe6 34px,#02fefd 39px,#3cffc3 45px,#88ff77 50px,#99ff66 57px,#59ffa6 78px,#00f9ff 103px,#00bfff 113px,#0094ff 146px,#0084ff 198px,#0097ff 233px)"></i>
<i style="left:392px;top:124px;width:234px;height:2px;background:linear-gradient(90deg,#b5ffca 0px,#6bff94 1px,#82ff7d 21px,#3fffc0 30px,#0ffff0 34px,#00f5ff 39px,#10ffef 42px,#41ffbe 46px,#84ff7b 50px,#95ff6a 56px,#70ff8f 70px,#03fffc 100px,#00b6ff 114px,#008aff 145px,#007cff 186px,#0092ff 233px)"></i>
<i style="left:392px;top:126px;width:234px;height:2px;background:linear-gradient(90deg,#b1ffce 0px,#63ff9c 1px,#7bff84 21px,#35ffca 30px,#05fffa 34px,#00e9ff 39px,#05fffa 42px,#38ffc7 46px,#7fff80 50px,#90ff6f 55px,#87ff78 62px,#27ffd8 87px,#00faff 100px,#00b0ff 113px,#0082ff 144px,#0076ff 184px,#008fff 233px)"></i>
<i style="left:392px;top:128px;width:234px;height:2px;background:linear-gradient(90deg,#adffd2 0px,#5bffa4 1px,#75ff8a 21px,#2effd1 30px,#05fffa 33px,#00deff 39px,#05fffa 43px,#30ffcf 46px,#7bff84 50px,#8aff75 54px,#86ff79 61px,#2fffd0 84px,#00fdff 97px,#00d0ff 106px,#00a7ff 114px,#007bff 143px,#0072ff 185px,#008dff 233px)"></i>
<i style="left:392px;top:130px;width:234px;height:2px;background:linear-gradient(90deg,#a8ffd6 0px,#53ffac 1px,#6eff91 20px,#65ff9a 23px,#1dffe2 31px,#00fbff 33px,#00d3ff 39px,#00fbff 43px,#2affd5 46px,#77ff88 50px,#87ff78 54px,#83ff7c 61px,#30ffcf 83px,#00fdff 95px,#00d5ff 104px,#009fff 114px,#0075ff 143px,#006eff 186px,#008aff 233px)"></i>
<i style="left:392px;top:132px;width:234px;height:2px;background:linear-gradient(90deg,#a5ffd9 0px,#4cffb3 1px,#69ff96 21px,#27ffd8 30px,#06fff9 32px,#00cbff 38px,#00d1ff 40px,#03fefc 44px,#75ff8a 50px,#83ff7c 53px,#83ff7c 60px,#3affc5 80px,#01fefe 93px,#00ceff 104px,#0099ff 114px,#006fff 143px,#006aff 187px,#0088ff 233px)"></i>
<i style="left:392px;top:134px;width:234px;height:2px;background:linear-gradient(90deg,#a3ffdc 0px,#47ffb8 1px,#63ff9c 22px,#24ffdb 30px,#03fdfc 32px,#00d3ff 36px,#00c2ff 39px,#00faff 44px,#1fffe0 46px,#74ff8b 50px,#83ff7c 53px,#81ff7e 60px,#2cffd3 82px,#00fcff 92px,#00c1ff 105px,#0094ff 114px,#0069ff 143px,#0067ff 189px,#0085ff 233px)"></i>
<i style="left:392px;top:136px;width:234px;height:2px;background:linear-gradient(90deg,#a0ffde 0px,#42ffbd 1px,#5fffa0 22px,#20ffdf 30px,#01fbfe 32px,#00d5ff 35px,#00bbff 39px,#05fffa 45px,#74ff8b 50px,#81ff7e 52px,#83ff7c 59px,#27ffd8 82px,#00fbff 91px,#00b0ff 107px,#008fff 114px,#0063ff 142px,#0063ff 190px,#0083ff 233px)"></i>
<i style="left:392px;top:138px;width:234px;height:2px;background:linear-gradient(90deg,#9effe1 0px,#3dffc2 1px,#5bffa4 22px,#1dffe2 30px,#00f8ff 32px,#00d0ff 35px,#00b4ff 39px,#02fcfd 45px,#73ff8c 50px,#81ff7e 52px,#82ff7d 59px,#19ffe6 84px,#00faff 90px,#008aff 114px,#005dff 142px,#0060ff 191px,#0080ff 233px)"></i>
<i style="left:392px;top:140px;width:234px;height:2px;background:linear-gradient(90deg,#9bffe3 0px,#39ffc6 1px,#58ffa7 22px,#1bffe4 30px,#00f5ff 32px,#00cbff 35px,#00afff 39px,#01fbfe 45px,#73ff8c 50px,#81ff7e 52px,#80ff7f 59px,#0ffff0 85px,#00f5ff 90px,#0085ff 114px,#0057ff 142px,#005cff 189px,#0080ff 233px)"></i>
<i style="left:392px;top:142px;width:234px;height:2px;background:linear-gradient(90deg,#99ffe6 0px,#34ffcb 1px,#56ffa9 21px,#1cffe3 30px,#0bfff4 31px,#00ddff 33px,#00b0ff 38px,#00b7ff 40px,#03fdfc 45px,#73ff8c 50px,#81ff7e 52px,#7fff80 59px,#0bfff4 85px,#00f0ff 90px,#0080ff 114px,#0052ff 141px,#0058ff 184px,#0083ff 233px)"></i>
<i style="left:392px;top:144px;width:234px;height:2px;background:linear-gradient(90deg,#97ffe8 0px,#2fffd0 1px,#52ffad 21px,#1dffe2 30px,#0bfff4 31px,#00dbff 33px,#00b0ff 38px,#00b8ff 40px,#07fff8 45px,#74ff8b 50px,#80ff7f 52px,#7eff81 59px,#00fcff 87px,#007bff 114px,#004dff 141px,#0055ff 182px,#0087ff 233px)"></i>
<i style="left:392px;top:146px;width:234px;height:2px;background:linear-gradient(90deg,#95ffea 0px,#2cffd3 1px,#4dffb2 22px,#1effe1 30px,#00f6ff 32px,#00d2ff 34px,#00afff 39px,#00faff 44px,#4cffb3 48px,#74ff8b 50px,#81ff7e 53px,#79ff86 60px,#00fbff 87px,#0076ff 114px,#004bff 141px,#0054ff 181px,#008bff 233px)"></i>
<i style="left:392px;top:148px;width:234px;height:2px;background:linear-gradient(90deg,#93ffeb 0px,#29ffd6 1px,#4bffb4 22px,#20ffdf 30px,#00faff 32px,#00ceff 35px,#00b0ff 39px,#03fdfc 44px,#75ff8a 50px,#80ff7f 53px,#79ff86 60px,#12ffed 83px,#00f6ff 88px,#0074ff 113px,#004bff 142px,#0055ff 181px,#008fff 233px)"></i>
<i style="left:392px;top:150px;width:234px;height:2px;background:linear-gradient(90deg,#92ffed 0px,#25ffda 1px,#4bffb4 22px,#22ffdd 30px,#02fcfd 32px,#00bfff 37px,#00b3ff 39px,#07fff8 44px,#76ff89 50px,#80ff7f 53px,#75ff8a 61px,#17ffe8 82px,#00fbff 87px,#0071ff 113px,#004aff 142px,#0055ff 181px,#0093ff 233px)"></i>
<i style="left:392px;top:152px;width:234px;height:2px;background:linear-gradient(90deg,#90ffef 0px,#22ffdd 1px,#4dffb2 22px,#25ffda 30px,#05fffa 32px,#00c2ff 38px,#00c0ff 39px,#02fcfd 43px,#77ff88 50px,#81ff7e 54px,#73ff8c 62px,#07fff8 85px,#00deff 92px,#0076ff 111px,#0049ff 141px,#0055ff 180px,#0097ff 233px)"></i>
<i style="left:392px;top:154px;width:234px;height:2px;background:linear-gradient(90deg,#8efff0 0px,#1fffe0 1px,#4effb1 22px,#2bffd4 30px,#00f9ff 33px,#00d1ff 38px,#00dcff 40px,#01fbfe 42px,#7cff83 50px,#87ff78 57px,#36ffc9 76px,#00fbff 87px,#008fff 105px,#0069ff 115px,#0048ff 142px,#0055ff 180px,#009bff 233px)"></i>
<i style="left:392px;top:156px;width:234px;height:2px;background:linear-gradient(90deg,#8dfff1 0px,#1dffe2 1px,#50ffaf 22px,#33ffcc 30px,#03fefc 33px,#00e1ff 39px,#02fbfd 41px,#82ff7d 50px,#8dff72 58px,#00fbff 87px,#0090ff 104px,#0067ff 115px,#0047ff 142px,#0055ff 180px,#009fff 233px)"></i>
<i style="left:392px;top:158px;width:234px;height:2px;background:linear-gradient(90deg,#8efff1 0px,#1effe1 1px,#51ffae 22px,#3bffc4 30px,#0afff5 34px,#01f8fe 39px,#23ffdc 42px,#88ff77 50px,#95ff6a 58px,#00fbff 87px,#008fff 104px,#0066ff 114px,#0046ff 142px,#0055ff 179px,#00a3ff 233px)"></i>
<i style="left:392px;top:160px;width:234px;height:2px;background:linear-gradient(90deg,#8ffff0 0px,#21ffde 1px,#53ffac 22px,#44ffbb 30px,#1fffe0 34px,#15ffea 39px,#85ff7a 49px,#98ff67 53px,#9dff62 58px,#02fffd 86px,#0089ff 105px,#0064ff 114px,#0045ff 142px,#0055ff 179px,#00a7ff 233px)"></i>
<i style="left:392px;top:162px;width:234px;height:2px;background:linear-gradient(90deg,#90ffee 0px,#23ffdc 1px,#54ffab 23px,#47ffb8 31px,#31ffce 35px,#2fffd0 39px,#85ff7a 48px,#9eff61 53px,#a4ff5b 58px,#4cffb3 72px,#00fbff 87px,#0088ff 105px,#0062ff 114px,#0045ff 142px,#0055ff 179px,#00abff 233px)"></i>
<i style="left:392px;top:164px;width:234px;height:2px;background:linear-gradient(90deg,#adfff2 0px,#5bffe3 1px,#80ffbf 25px,#73ffcb 39px,#b3ff8c 50px,#c0ff7f 58px,#79ffc6 72px,#40f8ff 88px,#4095ff 109px,#4082ff 120px,#4073ff 146px,#4083ff 182px,#40c3ff 233px)"></i>
<i style="left:129px;top:262px;width:16px;height:2px;background:linear-gradient(90deg,#86ff79 0px,#d4ff2b 4px,#c9ff36 5px,#48ffb7 8px,#2affd5 9px,#04fffb 12px,#00feff 14px,#80feff 15px)"></i>
<i style="left:123px;top:264px;width:33px;height:2px;background:linear-gradient(90deg,#c0ffbf 0px,#80ff7f 1px,#86ff79 6px,#d4ff2b 10px,#c9ff36 11px,#48ffb7 14px,#2affd5 15px,#04fffb 18px,#02fffd 31px,#80fffe 32px)"></i>
<i style="left:118px;top:266px;width:49px;height:2px;background:linear-gradient(90deg,#d1ffae 0px,#9dff62 1px,#80ff7f 6px,#87ff78 11px,#d4ff2b 15px,#c9ff36 16px,#47ffb8 19px,#28ffd7 20px,#03fffc 23px,#00f7ff 47px,#80fbff 48px)"></i>
<i style="left:113px;top:268px;width:64px;height:2px;background:linear-gradient(90deg,#c6ff39 0px,#81ff7e 11px,#90ff6f 16px,#d6ff29 20px,#c8ff37 21px,#43ffbc 24px,#23ffdc 25px,#05fffa 27px,#00fbff 34px,#00f5ff 54px,#00f0ff 63px)"></i>
<i style="left:108px;top:270px;width:80px;height:2px;background:linear-gradient(90deg,#ebff54 0px,#d9ff66 4px,#c6ff39 5px,#83ff7c 15px,#a7ff58 21px,#d9ff26 25px,#c8ff37 26px,#3effc1 29px,#1effe1 30px,#01fdfe 32px,#00f5ff 38px,#00fbff 50px,#00f0ff 68px,#40f4ff 69px,#40f4ff 79px)"></i>
<i style="left:102px;top:272px;width:97px;height:2px;background:linear-gradient(90deg,#f5ffa9 0px,#ecff53 1px,#ecff53 5px,#e4ff1b 6px,#89ff76 21px,#daff25 31px,#c6ff39 32px,#3affc5 35px,#19ffe6 36px,#00f8ff 38px,#00f0ff 44px,#00f5ff 55px,#00f0ff 85px,#40f4ff 86px,#40f4ff 96px)"></i>
<i style="left:97px;top:274px;width:113px;height:2px;background:linear-gradient(90deg,#f5ffa9 0px,#ecff53 1px,#ecff53 4px,#e6ff19 6px,#dfff20 12px,#9eff61 24px,#9cff63 27px,#caff35 33px,#cfff30 36px,#b8ff47 37px,#2effd1 40px,#0efff1 41px,#00f1ff 43px,#00ebff 49px,#00eeff 58px,#00eaff 77px,#00f0ff 101px,#40f4ff 102px,#40faff 112px)"></i>
<i style="left:92px;top:276px;width:129px;height:2px;background:linear-gradient(90deg,#ecff53 0px,#ecff53 4px,#e5ff1a 6px,#deff21 17px,#aeff51 25px,#aaff55 34px,#bbff44 41px,#a4ff5b 42px,#16ffe9 45px,#01f6fe 46px,#00e0ff 49px,#00e6ff 62px,#00deff 77px,#00f9ff 117px,#40fbff 118px,#43fffc 127px,#a1fffd 128px)"></i>
<i style="left:87px;top:278px;width:145px;height:2px;background:linear-gradient(90deg,#f5ffa9 0px,#ecff53 1px,#ecff53 4px,#e6ff19 5px,#e3ff1c 21px,#a6ff59 29px,#a2ff5d 38px,#9aff65 43px,#a2ff5d 46px,#8bff74 47px,#04f7fb 50px,#00deff 51px,#00caff 54px,#00d7ff 67px,#00d6ff 89px,#04fffb 132px,#41fffd 134px,#40f5ff 143px,#9ffaff 144px)"></i>
<i style="left:83px;top:280px;width:160px;height:2px;background:linear-gradient(90deg,#ebff54 0px,#ecff53 3px,#e5ff1a 5px,#e3ff1c 25px,#96ff69 34px,#7dff82 48px,#7bff84 50px,#65ff9a 51px,#0efef1 53px,#00e1ff 54px,#00c6ff 55px,#00b4ff 58px,#00c8ff 71px,#00d3ff 107px,#04fffb 137px,#00f1ff 147px,#40f6ff 149px,#4afff4 158px,#a6fff8 159px)"></i>
<i style="left:78px;top:282px;width:176px;height:2px;background:linear-gradient(90deg,#f4ffcb 0px,#e8ff96 1px,#f0ff8f 4px,#e5ff1a 5px,#e0ff1f 30px,#87ff78 39px,#59ffa6 52px,#52ffad 55px,#3effc1 56px,#19ffe6 57px,#01f0fe 58px,#00cbff 59px,#00b3ff 60px,#00a0ff 63px,#00baff 77px,#00c8ff 115px,#00fcff 143px,#00f5ff 155px,#09fff6 162px,#0efff1 163px,#8cfff2 165px,#a3ffdc 170px,#c5ffba 174px,#e5ffd9 175px)"></i>
<i style="left:73px;top:284px;width:191px;height:2px;background:linear-gradient(90deg,#f0ffce 0px,#e2ff9c 1px,#e7ff97 4px,#d1ff2e 6px,#e5ff1a 12px,#dbff24 35px,#75ff8a 44px,#45ffba 52px,#27ffd8 60px,#02f3fd 62px,#00b5ff 64px,#0099ff 66px,#0096ff 70px,#00b0ff 82px,#00b9ff 120px,#00e9ff 152px,#00faff 163px,#14ffeb 169px,#36ffc9 174px,#8aff75 179px,#d4ffab 181px,#edff92 189px,#f7ffc7 190px)"></i>
<i style="left:69px;top:286px;width:195px;height:2px;background:linear-gradient(90deg,#d8ffa7 0px,#deffa0 3px,#c5ff3a 5px,#e0ff1f 13px,#dfff20 27px,#d6ff29 39px,#5cffa3 48px,#26ffd9 56px,#04f7fb 63px,#00e1ff 65px,#009eff 68px,#008bff 70px,#0091ff 75px,#00a8ff 87px,#00acff 124px,#00e0ff 163px,#08fff7 171px,#36ffc9 178px,#a8ff57 185px,#daff25 193px,#efff90 194px)"></i>
<i style="left:64px;top:288px;width:200px;height:2px;background:linear-gradient(90deg,#dcffe2 0px,#beffc1 1px,#d2ffac 4px,#b0ff4f 5px,#cfff30 14px,#e3ff1c 23px,#d4ff2b 41px,#d1ff2e 44px,#4cffb3 52px,#0cfff3 60px,#00f3ff 65px,#0080ff 74px,#0081ff 78px,#009eff 90px,#009fff 105px,#00a1ff 131px,#00c4ff 165px,#00f5ff 174px,#16ffe9 179px,#34ffcb 183px,#a7ff58 190px,#daff25 198px,#efff90 199px)"></i>
<i style="left:60px;top:290px;width:204px;height:2px;background:linear-gradient(90deg,#a0ffde 0px,#b0ffce 3px,#7dff82 5px,#b0ff4f 9px,#c3ff3c 17px,#c3ff3c 21px,#e2ff1d 26px,#cfff30 34px,#c8ff37 48px,#33ffcc 56px,#02fafd 62px,#00d2ff 69px,#0088ff 74px,#006eff 79px,#0093ff 91px,#0098ff 106px,#0090ff 130px,#00a2ff 155px,#00abff 166px,#00bdff 172px,#04fffb 181px,#31ffce 187px,#a5ff5a 194px,#daff25 202px,#efff90 203px)"></i>
<i style="left:55px;top:292px;width:209px;height:2px;background:linear-gradient(90deg,#c7fff8 0px,#91ffed 1px,#9cffe2 4px,#41ffbe 5px,#98ff67 12px,#afff50 14px,#b0ff4f 26px,#e0ff1f 31px,#c7ff38 37px,#b9ff46 52px,#a3ff5c 54px,#1effe1 61px,#02fbfd 64px,#00b1ff 74px,#0064ff 79px,#0062ff 85px,#0084ff 92px,#0091ff 109px,#0084ff 127px,#0092ff 159px,#0090ff 167px,#00a4ff 176px,#01fefe 186px,#2effd1 192px,#a3ff5c 199px,#d9ff26 207px,#efff90 208px)"></i>
<i style="left:50px;top:294px;width:214px;height:2px;background:linear-gradient(90deg,#c0fffe 0px,#81fffd 1px,#8afff5 4px,#23ffdc 6px,#69ff96 14px,#9cff63 19px,#91ff6e 26px,#a4ff5b 32px,#daff25 36px,#bdff42 42px,#b5ff4a 53px,#99ff66 58px,#0afff5 66px,#00ddff 70px,#00a4ff 77px,#0083ff 80px,#004cff 83px,#0045ff 85px,#0061ff 92px,#0079ff 97px,#0086ff 114px,#0078ff 132px,#0087ff 159px,#007cff 171px,#009aff 181px,#02fffd 192px,#2bffd4 197px,#a0ff5f 204px,#d9ff26 212px,#eeff90 213px)"></i>
<i style="left:46px;top:296px;width:218px;height:2px;background:linear-gradient(90deg,#bffeff 0px,#bfffff 3px,#04fffb 5px,#69ff96 22px,#7eff81 32px,#9aff65 37px,#bdff42 40px,#b0ff4f 50px,#acff53 56px,#7fff80 62px,#06fef9 69px,#0095ff 79px,#0069ff 84px,#0037ff 88px,#004eff 95px,#006eff 101px,#007bff 117px,#006dff 136px,#0078ff 161px,#0071ff 169px,#006dff 175px,#0093ff 185px,#00fcff 196px,#28ffd7 201px,#9eff61 208px,#d9ff26 216px,#eeff90 217px)"></i>
<i style="left:41px;top:298px;width:223px;height:2px;background:linear-gradient(90deg,#dffcff 0px,#bffaff 1px,#bffdff 4px,#00faff 5px,#11ffee 15px,#54ffab 34px,#97ff68 46px,#86ff79 61px,#5affa5 67px,#02f8fd 73px,#008cff 82px,#0032ff 93px,#0042ff 100px,#0066ff 107px,#006eff 123px,#0064ff 149px,#0073ff 181px,#008cff 190px,#01fefe 202px,#25ffda 206px,#9cff63 213px,#d8ff27 221px,#eeff90 222px)"></i>
<i style="left:37px;top:300px;width:227px;height:2px;background:linear-gradient(90deg,#bfedff 0px,#bff5ff 3px,#00e4ff 5px,#01f2fe 20px,#0efcf1 34px,#5fffa0 48px,#61ff9e 62px,#31ffce 71px,#02f7fd 75px,#0088ff 84px,#003cff 93px,#002fff 99px,#0036ff 104px,#005eff 112px,#005eff 133px,#0063ff 173px,#007dff 188px,#0085ff 194px,#00fbff 206px,#23ffdc 210px,#9aff65 217px,#d8ff27 225px,#eeff91 226px)"></i>
<i style="left:32px;top:302px;width:232px;height:2px;background:linear-gradient(90deg,#dfeaff 0px,#bfd8ff 1px,#bfe8ff 4px,#00b2ff 5px,#00c5ff 10px,#00c1ff 15px,#00cdff 22px,#00b8ff 37px,#03f4fc 43px,#27ffd8 53px,#39ffc6 61px,#2fffd0 68px,#03f5fc 77px,#0053ff 92px,#002fff 99px,#002eff 109px,#005aff 119px,#0059ff 178px,#0083ff 188px,#007fff 199px,#00f9ff 211px,#21ffde 215px,#97ff68 222px,#d7ff28 230px,#eeff91 231px)"></i>
<i style="left:30px;top:304px;width:234px;height:2px;background:linear-gradient(90deg,#dfe5ff 0px,#bfcdff 1px,#005dff 3px,#0093ff 6px,#00a0ff 9px,#009bff 14px,#00a0ff 19px,#00a4ff 25px,#008dff 39px,#00d4ff 47px,#0afdf5 59px,#04f5fb 70px,#00beff 80px,#003eff 94px,#0027ff 105px,#002cff 112px,#0051ff 122px,#0052ff 181px,#007aff 190px,#0079ff 201px,#00f7ff 213px,#13ffec 216px,#95ff6a 224px,#d7ff28 232px,#eeff91 233px)"></i>
<i style="left:30px;top:306px;width:234px;height:2px;background:linear-gradient(90deg,#8095ff 0px,#0033ff 1px,#007aff 6px,#0080ff 12px,#0070ff 16px,#007cff 24px,#006eff 39px,#00a9ff 48px,#00dcff 60px,#00c1ff 70px,#0075ff 85px,#0033ff 94px,#0021ff 110px,#0049ff 123px,#0047ff 181px,#0069ff 192px,#0073ff 201px,#00edff 212px,#09fff6 215px,#40ffbf 219px,#93ff6c 224px,#d6ff29 232px,#eeff91 233px)"></i>
<i style="left:30px;top:308px;width:234px;height:2px;background:linear-gradient(90deg,#8092ff 0px,#002cff 1px,#0064ff 7px,#0058ff 13px,#0049ff 16px,#0051ff 36px,#0056ff 40px,#007aff 48px,#008aff 51px,#00abff 56px,#00a9ff 62px,#007fff 75px,#0068ff 82px,#002bff 95px,#001eff 112px,#0040ff 123px,#003fff 182px,#006dff 201px,#00ebff 212px,#07fff8 215px,#3fffc0 219px,#91ff6e 224px,#d6ff29 232px,#edff91 233px)"></i>
<i style="left:30px;top:310px;width:234px;height:2px;background:linear-gradient(90deg,#808fff 0px,#0025ff 1px,#0048ff 7px,#0030ff 21px,#003dff 34px,#003fff 41px,#0053ff 50px,#0082ff 54px,#008cff 59px,#005fff 76px,#0027ff 94px,#0019ff 114px,#0037ff 122px,#0038ff 184px,#0067ff 201px,#00e1ff 211px,#06fff9 215px,#3dffc2 219px,#8eff71 224px,#d6ff29 232px,#edff91 233px)"></i>
<i style="left:30px;top:312px;width:234px;height:2px;background:linear-gradient(90deg,#808dff 0px,#001dff 1px,#002fff 7px,#0027ff 26px,#003bff 50px,#0067ff 54px,#006cff 61px,#0028ff 87px,#0013ff 114px,#0030ff 122px,#002eff 185px,#004fff 197px,#0061ff 201px,#00dfff 211px,#05fffa 215px,#3cffc3 219px,#8cff73 224px,#d5ff2a 232px,#edff91 233px)"></i>
<i style="left:30px;top:314px;width:234px;height:2px;background:linear-gradient(90deg,#808aff 0px,#0017ff 1px,#0020ff 18px,#0024ff 38px,#0033ff 50px,#004fff 55px,#0046ff 66px,#002aff 77px,#0010ff 115px,#002aff 122px,#0026ff 185px,#0047ff 197px,#0059ff 201px,#00ddff 211px,#04fffb 215px,#4bffb4 220px,#94ff6b 225px,#d4ff2b 232px,#ecff92 233px)"></i>
<i style="left:30px;top:316px;width:234px;height:2px;background:linear-gradient(90deg,#8088ff 0px,#0012ff 1px,#0018ff 18px,#0019ff 31px,#0026ff 43px,#0032ff 63px,#001dff 80px,#000bff 115px,#0023ff 122px,#001fff 185px,#003fff 197px,#0051ff 201px,#00dbff 211px,#03fffc 215px,#49ffb6 220px,#91ff6e 225px,#d1ff2e 232px,#ebff93 233px)"></i>
<i style="left:30px;top:318px;width:234px;height:2px;background:linear-gradient(90deg,#8085ff 0px,#000cff 1px,#0010ff 18px,#000fff 28px,#001dff 42px,#0023ff 52px,#001bff 67px,#0004ff 110px,#000dff 117px,#001cff 123px,#0017ff 185px,#0037ff 197px,#004aff 201px,#00cfff 210px,#02fffd 215px,#47ffb8 220px,#8fff70 225px,#cfff30 232px,#eaff95 233px)"></i>
<i style="left:30px;top:320px;width:234px;height:2px;background:linear-gradient(90deg,#8081ff 0px,#0004ff 1px,#0008ff 18px,#0007ff 27px,#0012ff 41px,#001fff 48px,#0016ff 67px,#0008ff 101px,#0003ff 116px,#0014ff 123px,#000cff 178px,#001aff 191px,#0042ff 201px,#00cdff 210px,#01fefe 215px,#46ffb9 220px,#8cff73 225px,#ccff33 232px,#e9ff96 233px)"></i>
<i style="left:30px;top:322px;width:234px;height:2px;background:linear-gradient(90deg,#8080fd 0px,#0000fb 1px,#0000fa 20px,#0007ff 40px,#001aff 47px,#0011ff 67px,#0002ff 86px,#0000f9 110px,#0009ff 120px,#0005ff 176px,#000dff 190px,#003aff 201px,#00caff 210px,#01fdfe 215px,#45ffba 220px,#8bff74 225px,#caff35 232px,#e8ff97 233px)"></i>
<i style="left:30px;top:324px;width:234px;height:2px;background:linear-gradient(90deg,#8080f9 0px,#0000f3 1px,#0000f6 18px,#0000f0 24px,#0000fc 35px,#0009ff 42px,#0014ff 48px,#000cff 67px,#0000f9 86px,#0000f2 110px,#0000f6 117px,#0002ff 129px,#0000fc 188px,#0028ff 200px,#0050ff 203px,#00c4ff 210px,#00fbff 215px,#34ffcb 219px,#8aff75 225px,#c8ff37 232px,#e6ff98 233px)"></i>
<i style="left:30px;top:326px;width:234px;height:2px;background:linear-gradient(90deg,#8080f5 0px,#0000eb 1px,#0000f0 17px,#0000e7 24px,#0000f5 34px,#0000f6 40px,#000fff 47px,#0007ff 67px,#0000f6 76px,#0000e9 112px,#0000f3 119px,#0000f0 176px,#0000f4 190px,#0011ff 197px,#0026ff 201px,#00beff 210px,#06fff9 216px,#80ff7f 224px,#c6ff39 232px,#e5ff99 233px)"></i>
<i style="left:30px;top:328px;width:234px;height:2px;background:linear-gradient(90deg,#8080f1 0px,#0000e3 1px,#0000e7 17px,#0000db 23px,#0000ed 34px,#0000ef 40px,#0006ff 44px,#0002ff 67px,#0000f3 75px,#0000e8 84px,#0000e2 112px,#0000ea 119px,#0000e6 176px,#0000e8 190px,#0006ff 197px,#001dff 201px,#00c5ff 211px,#05fffa 216px,#80ff7f 224px,#c4ff3b 232px,#e4ff9a 233px)"></i>
<i style="left:30px;top:330px;width:234px;height:2px;background:linear-gradient(90deg,#8080ee 0px,#0000dc 1px,#0000de 17px,#0000d6 24px,#0000e5 34px,#0000e7 40px,#0003ff 45px,#0000f8 71px,#0000e0 80px,#0000d9 113px,#0000e3 132px,#0000db 178px,#0000dd 190px,#0006ff 199px,#0013ff 201px,#00bfff 211px,#03fffc 216px,#80ff7f 224px,#bfff40 232px,#e2ff9d 233px)"></i>
<i style="left:30px;top:332px;width:234px;height:2px;background:linear-gradient(90deg,#8080ea 0px,#0000d5 1px,#0000d3 19px,#0000d9 28px,#0000df 40px,#0000f9 45px,#0000f2 68px,#0000e4 75px,#0000d8 82px,#0000d1 113px,#0000d8 170px,#0000d7 190px,#0003ff 200px,#002eff 203px,#00baff 211px,#02fefd 216px,#80ff7f 224px,#b6ff49 232px,#ddffa2 233px)"></i>
<i style="left:30px;top:334px;width:234px;height:2px;background:linear-gradient(90deg,#8080e6 0px,#0000cd 1px,#0000d2 28px,#0000d8 40px,#0000f1 45px,#0000e9 72px,#0000d2 80px,#0000cc 113px,#0000ce 189px,#0004ff 201px,#00c3ff 212px,#02fdfd 216px,#7fff80 224px,#adff52 232px,#d8ffa7 233px)"></i>
<i style="left:30px;top:336px;width:234px;height:2px;background:linear-gradient(90deg,#8080e3 0px,#0000c8 1px,#0000d2 39px,#0000e8 46px,#0000de 74px,#0000d3 84px,#0000cd 113px,#0000c4 127px,#0000c8 189px,#0000fb 201px,#01fcfe 216px,#7fff80 224px,#a3ff5c 232px,#d2ffac 233px)"></i>
<i style="left:30px;top:338px;width:234px;height:2px;background:linear-gradient(90deg,#8080e3 0px,#0000c7 1px,#0000cd 14px,#0000cf 37px,#0000df 47px,#0000d0 113px,#0000bb 123px,#0000c0 187px,#0000ea 200px,#0004fe 202px,#00fbff 216px,#7eff81 224px,#99ff66 232px,#cdffb1 233px)"></i>
<i style="left:30px;top:340px;width:234px;height:2px;background:linear-gradient(90deg,#8080e3 0px,#0000c8 1px,#0000d2 10px,#0000d7 13px,#0000ca 18px,#0000d4 41px,#0000e3 60px,#0000d7 84px,#0000d2 113px,#0000b7 122px,#0000be 151px,#0000c5 188px,#0002f6 201px,#001cff 203px,#01dffe 213px,#20fedf 216px,#88ff77 224px,#91ff6e 232px,#c8ffb6 233px)"></i>
<i style="left:30px;top:342px;width:234px;height:2px;background:linear-gradient(90deg,#97c0e4 0px,#2f82c9 1px,#277cd1 7px,#0364f5 10px,#001cf5 13px,#0005ec 14px,#0000cd 16px,#0000d8 44px,#0004ee 45px,#004ffe 47px,#027efd 48px,#15a0ea 49px,#50beaf 51px,#69b996 53px,#64bb9b 61px,#47bab8 64px,#18a4e7 66px,#058afa 67px,#001af9 70px,#0002ec 71px,#0000d8 72px,#0000d4 113px,#0000c7 122px,#0000e6 136px,#000ff5 146px,#001ef3 152px,#0569f3 159px,#2b85cf 170px,#3c9cc3 197px,#44afbb 202px,#6af595 210px,#cbfa34 217px,#8eff71 232px,#c5ffb9 233px)"></i>
<i style="left:30px;top:344px;width:234px;height:2px;background:linear-gradient(90deg,#fe9480 0px,#fe2900 1px,#ff3600 6px,#ff5b00 7px,#f3e00c 9px,#b9ff46 10px,#56ffa9 11px,#08e9f7 12px,#0037ff 14px,#0000ec 15px,#0000d1 16px,#0000d4 43px,#0000df 44px,#001aff 45px,#02e0fd 47px,#52ffad 48px,#c4ff3b 49px,#fdce02 50px,#fd2600 52px,#e40a00 53px,#cf0400 56px,#e00900 60px,#f71200 61px,#ff6400 63px,#ff9200 64px,#fdd002 65px,#d2ff2d 66px,#15fbea 68px,#00b7ff 69px,#0012fe 71px,#0000df 72px,#0000d7 74px,#0000d6 113px,#0000dc 123px,#0004fb 133px,#0046ff 143px,#02cbfd 151px,#16e9e9 153px,#63ff9c 156px,#dffe20 160px,#f9cd06 163px,#ff5d00 168px,#f82300 178px,#e61700 191px,#f71d00 202px,#ff4f00 209px,#fbfe04 221px,#c4ff3b 225px,#88ff77 232px,#c1ffbe 233px)"></i>
<i style="left:30px;top:346px;width:234px;height:2px;background:linear-gradient(90deg,#fd8080 0px,#fb0000 1px,#ff0a00 6px,#ff3200 7px,#ffcc00 9px,#d4ff2b 10px,#6bff94 11px,#0ef3f1 12px,#009dff 13px,#003dff 14px,#0000ef 15px,#0000d3 16px,#0000d6 43px,#0000e2 44px,#001eff 45px,#04e8fb 47px,#60ff9f 48px,#d8ff27 49px,#ffb900 50px,#ff5e00 51px,#fc1000 52px,#d50000 53px,#bb0000 55px,#bc0000 58px,#ce0000 60px,#ef0000 61px,#ff1d00 62px,#ff7c00 64px,#ffbe00 65px,#e3ff1c 66px,#1cffe3 68px,#00c0ff 69px,#0016ff 71px,#0000e3 72px,#0000da 74px,#0000d7 114px,#0000f2 124px,#0011ff 131px,#007bff 143px,#04fdfb 150px,#60ff9f 154px,#fcfc03 160px,#ff2e00 168px,#f90000 175px,#d00000 182px,#cd0000 193px,#dd0000 201px,#ff0800 205px,#ff4300 210px,#fcfe03 221px,#c2ff3d 225px,#7eff81 232px,#bbffc3 233px)"></i>
<i style="left:30px;top:348px;width:234px;height:2px;background:linear-gradient(90deg,#fd8080 0px,#fb0000 1px,#ff0a00 6px,#ff3200 7px,#ffcc00 9px,#d4ff2b 10px,#0ef3f1 12px,#009dff 13px,#003eff 14px,#0000f1 15px,#0000d5 16px,#0000d9 43px,#0000e4 44px,#0020ff 45px,#04e8fb 47px,#62ff9d 48px,#dbff24 49px,#ffb500 50px,#fd1000 52px,#d80000 53px,#bd0000 55px,#b70000 57px,#ce0000 60px,#ef0000 61px,#ff1d00 62px,#ff7c00 64px,#ffbe00 65px,#e3ff1c 66px,#1cffe3 68px,#00c0ff 69px,#0019ff 71px,#0000e6 72px,#0000dd 74px,#0000df 117px,#0005ff 125px,#003bff 133px,#00d3ff 146px,#02fcfd 149px,#2cffd3 152px,#fdfa02 160px,#ff2500 168px,#fb0000 173px,#c40000 181px,#ca0000 196px,#d40000 201px,#ff0400 205px,#ff5400 211px,#fbff04 221px,#c0ff3f 225px,#79ff86 232px,#b8ffc6 233px)"></i>
<i style="left:30px;top:350px;width:234px;height:2px;background:linear-gradient(90deg,#fd8080 0px,#fb0000 1px,#ff0900 6px,#ff3100 7px,#ffcb00 9px,#d4ff2b 10px,#0ef3f1 12px,#009eff 13px,#003fff 14px,#0000f2 15px,#0000d7 16px,#0000db 43px,#0000e7 44px,#0022ff 45px,#05e8fa 47px,#63ff9c 48px,#dfff20 49px,#ffb100 50px,#fe1100 52px,#dc0000 53px,#be0000 55px,#b70000 57px,#ce0000 60px,#ef0000 61px,#ff1d00 62px,#ff7c00 64px,#ffbe00 65px,#e3ff1c 66px,#1cffe3 68px,#00c1ff 69px,#001cff 71px,#0000e9 72px,#0000e0 74px,#0000e1 117px,#0008ff 124px,#0052ff 133px,#00e5ff 145px,#0bfff4 149px,#2bffd4 152px,#fef901 160px,#ff2200 168px,#fd0100 172px,#b80000 181px,#cc0000 201px,#fd0100 205px,#ff5500 211px,#f9ff06 221px,#bdff42 225px,#74ff8b 232px,#b6ffc8 233px)"></i>
<i style="left:30px;top:352px;width:234px;height:2px;background:linear-gradient(90deg,#fd8080 0px,#fb0000 1px,#ff0100 5px,#ff0900 6px,#ff3100 7px,#ffcb00 9px,#d4ff2b 10px,#0ef3f1 12px,#009eff 13px,#0041ff 14px,#0001f3 15px,#0000d9 16px,#0000de 43px,#0000e9 44px,#0024ff 45px,#05e8fa 47px,#65ff9a 48px,#e1fe1e 49px,#ffad00 50px,#ff1200 52px,#df0000 53px,#c00000 55px,#b70000 57px,#ce0000 60px,#ef0000 61px,#ff1d00 62px,#ff7c00 64px,#ffbe00 65px,#e3ff1c 66px,#1dffe2 68px,#00c2ff 69px,#001fff 71px,#0000ed 72px,#0000e3 74px,#0000e4 117px,#0008ff 124px,#004aff 133px,#00f8ff 148px,#28ffd7 152px,#eaff15 159px,#fefa01 160px,#ff4400 168px,#fc0400 174px,#b90000 181px,#bb0000 196px,#c50000 201px,#fa0000 205px,#ff4300 210px,#fff600 220px,#e6ff19 222px,#a5ff5a 227px,#70ff8f 232px,#b4ffcb 233px)"></i>
<i style="left:30px;top:354px;width:234px;height:2px;background:linear-gradient(90deg,#fd8080 0px,#fb0000 1px,#ff0000 5px,#ff0800 6px,#ff3000 7px,#ffcb00 9px,#d4ff2b 10px,#0ef3f1 12px,#009fff 13px,#0042ff 14px,#0002f4 15px,#0000db 16px,#0000e0 43px,#0000eb 44px,#0026ff 45px,#05e9fa 47px,#67ff98 48px,#e3fc1c 49px,#ffaa00 50px,#ff5900 51px,#ff1400 52px,#e20000 53px,#c10000 55px,#b70000 57px,#cd0000 60px,#ec0000 61px,#ff1800 62px,#ff7200 64px,#ffaf00 65px,#eff510 66px,#45ffba 68px,#1be7e4 69px,#108bef 71px,#0d70f1 72px,#0c6cf0 107px,#025ff9 108px,#000ff4 110px,#0001ec 111px,#0000e3 116px,#0004ff 124px,#0037ff 133px,#00bdff 145px,#05fffa 150px,#25ffda 152px,#ecff13 159px,#fefb01 160px,#ff5e00 169px,#fc0100 176px,#bf0000 181px,#b50000 192px,#c80000 201px,#fc0000 205px,#ff4300 210px,#fff800 220px,#a2ff5d 227px,#6cff93 232px,#b1ffcd 233px)"></i>
<i style="left:30px;top:356px;width:234px;height:2px;background:linear-gradient(90deg,#fd8080 0px,#fb0000 1px,#ff0700 6px,#ff3000 7px,#ffcb00 9px,#d4ff2b 10px,#0ef3f1 12px,#009fff 13px,#0043ff 14px,#0003f5 15px,#0000dd 16px,#0000e3 43px,#0000ee 44px,#0028ff 45px,#06e9f9 47px,#68ff97 48px,#e4fa1b 49px,#ffa600 50px,#ff5700 51px,#ff1500 52px,#e60000 53px,#b90000 56px,#ca0000 60px,#ee0100 62px,#fc1e00 64px,#ff7400 67px,#f88507 68px,#eb5a04 72px,#e35601 105px,#e65904 107px,#e48317 108px,#aed151 109px,#62d79d 110px,#26b1d9 111px,#068bf9 112px,#0017fa 114px,#0000eb 115px,#0000ed 118px,#000aff 127px,#0023ff 133px,#0090ff 144px,#00f9ff 150px,#21ffde 152px,#eeff11 159px,#fff800 160px,#ff5d00 168px,#fb0100 176px,#c40000 181px,#b10000 190px,#cf0000 201px,#fe0200 205px,#ff4400 210px,#fffa00 220px,#abff54 226px,#67ff98 232px,#afffcf 233px)"></i>
<i style="left:30px;top:358px;width:234px;height:2px;background:linear-gradient(90deg,#fd8080 0px,#fb0000 1px,#ff0700 6px,#ff2f00 7px,#ffc900 9px,#d6ff29 10px,#10f7ef 12px,#00aeff 13px,#005eff 14px,#0022fb 15px,#0015f1 16px,#001efa 44px,#0049ff 45px,#09eff6 47px,#6fff90 48px,#e8f517 49px,#ff9c00 50px,#ff5200 51px,#ff1600 52px,#ea0000 53px,#c20000 56px,#e60000 65px,#b00000 74px,#a20000 82px,#a70000 107px,#c50000 108px,#ed1100 109px,#fd4900 110px,#f8b707 111px,#a2fe5d 112px,#16e9e9 113px,#0063ff 114px,#0006f9 115px,#0000ee 116px,#0008ff 128px,#0015ff 133px,#0066ff 143px,#00f3ff 150px,#09fff6 151px,#98ff67 156px,#f3ff0c 159px,#fff100 160px,#ff3600 168px,#f90000 175px,#c50000 182px,#b00000 190px,#d70000 201px,#ff0500 205px,#ff4500 210px,#fefb01 220px,#a8ff57 226px,#63ff9c 232px,#adffd2 233px)"></i>
<i style="left:30px;top:360px;width:234px;height:2px;background:linear-gradient(90deg,#fd8080 0px,#fb0000 1px,#ff0300 6px,#ff1b00 7px,#fba804 10px,#ddc722 11px,#b6da49 12px,#9ce463 13px,#88e177 16px,#90e76f 45px,#95ec6a 46px,#aaea55 47px,#dad825 48px,#fe9f01 49px,#ff5300 50px,#ff2600 51px,#fd0700 52px,#d60000 55px,#d20000 58px,#e60000 65px,#b80000 73px,#a60000 81px,#a70000 107px,#c80000 109px,#ea0000 110px,#ff4200 111px,#f8bc07 112px,#a8f457 113px,#4fe2b0 114px,#2eb3d1 115px,#36b0c9 117px,#51beae 121px,#52c7ad 135px,#58e2a7 144px,#83fb7c 150px,#adf452 153px,#f1d50e 157px,#ff9d00 160px,#fb1400 167px,#f10200 171px,#af0000 190px,#df0000 201px,#fe0400 204px,#ff6100 211px,#fdfd02 220px,#a5ff5a 226px,#5effa1 232px,#abffd4 233px)"></i>
<i style="left:30px;top:362px;width:234px;height:2px;background:linear-gradient(90deg,#fd8080 0px,#fb0000 1px,#fc0900 11px,#fd2800 16px,#f61d00 31px,#ff2500 45px,#fb0100 51px,#dc0000 57px,#ea0000 65px,#bd0000 73px,#a90000 80px,#ab0000 107px,#c80000 109px,#f20400 111px,#f74d00 114px,#f65900 115px,#e52d00 121px,#e52a00 151px,#d10000 163px,#bd0000 170px,#ba0000 183px,#ae0000 190px,#e70000 201px,#fe0300 203px,#ff8e00 213px,#fcfe03 220px,#a2ff5d 226px,#5affa5 232px,#a8ffd6 233px)"></i>
<i style="left:30px;top:364px;width:234px;height:2px;background:linear-gradient(90deg,#fd8080 0px,#fb0000 1px,#f10000 16px,#dd0000 25px,#e30000 33px,#fd0000 42px,#f80000 52px,#e90000 57px,#f00000 64px,#b90000 75px,#ad0000 82px,#ae0000 107px,#da0000 110px,#d40000 112px,#b50000 116px,#ab0000 129px,#ae0000 190px,#fe0500 202px,#ffc900 216px,#fefa01 219px,#97ff68 226px,#51ffae 232px,#a4ffdb 233px)"></i>
<i style="left:30px;top:366px;width:234px;height:2px;background:linear-gradient(90deg,#fd8080 0px,#fa0000 1px,#f20000 13px,#d60000 24px,#dd0000 33px,#ff0100 42px,#ff0600 51px,#f90000 58px,#f50000 64px,#c20000 74px,#b10000 80px,#b20000 107px,#db0000 110px,#d40000 112px,#b50000 116px,#ad0000 134px,#b20000 172px,#ab0000 184px,#b70000 190px,#fd0300 200px,#ff9000 211px,#fefa01 218px,#92ff6d 225px,#46ffb9 232px,#9fffe0 233px)"></i>
<i style="left:30px;top:368px;width:234px;height:2px;background:linear-gradient(90deg,#fd8080 0px,#fa0000 1px,#f50000 11px,#ce0000 24px,#d20000 32px,#ff0100 41px,#ff1200 49px,#fa0000 64px,#d40000 71px,#b70000 80px,#b50000 107px,#dc0000 110px,#d50000 112px,#b80000 116px,#af0000 131px,#ba0000 174px,#bb0000 185px,#c70000 190px,#ff0600 198px,#ff3700 203px,#fef901 217px,#81ff7e 225px,#3affc5 232px,#99ffe5 233px)"></i>
<i style="left:30px;top:370px;width:234px;height:2px;background:linear-gradient(90deg,#fd8080 0px,#fa0000 1px,#f30000 11px,#c60000 24px,#cb0000 32px,#fe0000 40px,#ff1200 48px,#ff2900 53px,#ff2500 58px,#f80000 65px,#d90000 71px,#be0000 81px,#b90000 107px,#dc0000 110px,#d70000 112px,#bb0000 116px,#b10000 130px,#ba0000 149px,#c30000 178px,#d70000 190px,#ff0800 196px,#ff4a00 203px,#fefa01 216px,#9aff65 222px,#70ff8f 225px,#2fffd0 232px,#94ffeb 233px)"></i>
<i style="left:30px;top:372px;width:234px;height:2px;background:linear-gradient(90deg,#fc8080 0px,#fa0000 1px,#f20000 11px,#bf0000 23px,#c30000 32px,#fe0000 40px,#ff1000 46px,#ff2100 49px,#ff4600 53px,#ff4700 57px,#ff1e00 62px,#fc0000 65px,#e00000 70px,#c00000 85px,#bd0000 107px,#dd0000 110px,#d80000 112px,#bf0000 116px,#b70000 139px,#d80000 185px,#e70000 190px,#ff0900 194px,#ff5100 202px,#fefb01 215px,#adff52 220px,#68ff97 224px,#24ffdb 232px,#8efff0 233px)"></i>
<i style="left:30px;top:374px;width:234px;height:2px;background:linear-gradient(90deg,#fd8080 0px,#fa0000 1px,#f60000 10px,#b70000 23px,#bd0000 32px,#ff0100 40px,#ff1600 45px,#ff1c00 48px,#ff6300 53px,#ff6400 57px,#ff3d00 61px,#fe0200 65px,#e40000 70px,#c40000 89px,#c60000 108px,#de0000 110px,#d10000 113px,#c20000 117px,#c50000 148px,#e70000 185px,#fd0200 191px,#ff6400 202px,#fcfd03 214px,#aeff51 219px,#57ffa8 224px,#19ffe6 232px,#89fff5 233px)"></i>
<i style="left:30px;top:376px;width:234px;height:2px;background:linear-gradient(90deg,#ff8380 0px,#ff0700 1px,#f60000 10px,#c70000 19px,#bb0000 29px,#c00000 32px,#fd0100 39px,#ff1b00 45px,#ff2000 48px,#ff5400 51px,#ff7a00 53px,#ff8700 56px,#ff6300 60px,#ff0400 65px,#e70000 71px,#c90000 90px,#c90000 108px,#de0000 110px,#d30000 113px,#c70000 117px,#cf0000 151px,#e40000 174px,#fe0300 189px,#ff7800 202px,#fcfe03 213px,#b5ff4a 218px,#4dffb2 224px,#14ffeb 232px,#87fff7 233px)"></i>
<i style="left:30px;top:378px;width:234px;height:2px;background:linear-gradient(90deg,#ff8f80 0px,#ff1f00 1px,#ff0d00 8px,#eb0000 13px,#d70000 18px,#d10000 32px,#fe0200 38px,#ff1f00 45px,#ff2400 48px,#ff4200 50px,#ff8900 53px,#ff9d00 56px,#ff7900 60px,#ff0800 65px,#ef0000 69px,#ce0000 90px,#cc0000 108px,#e00000 111px,#cb0000 116px,#dc0000 163px,#ff0600 185px,#ff1900 190px,#ff9700 203px,#fcfe03 212px,#b0ff4f 218px,#4effb1 224px,#18ffe7 232px,#89fff5 233px)"></i>
<i style="left:30px;top:380px;width:234px;height:2px;background:linear-gradient(90deg,#ff9c80 0px,#ff3800 1px,#ff2000 8px,#fa0200 14px,#df0000 30px,#ef0000 34px,#ff0c00 38px,#ff2400 45px,#ff2700 48px,#ff4600 50px,#ff9700 53px,#ffa800 56px,#ff8700 60px,#ff0c00 65px,#f50000 68px,#df0000 82px,#d30000 91px,#cf0000 108px,#e10000 111px,#cf0000 116px,#d70000 138px,#e30000 163px,#ff0700 181px,#ff2900 190px,#ffcb00 206px,#fcff03 211px,#acff53 218px,#4fffb0 224px,#1cffe3 232px,#8bfff3 233px)"></i>
<i style="left:30px;top:382px;width:234px;height:2px;background:linear-gradient(90deg,#ffb280 0px,#ff6200 1px,#ff4400 7px,#ff2a00 10px,#ff2000 13px,#ff0900 16px,#f30000 32px,#ff1100 37px,#ff2800 45px,#ff2a00 48px,#ff4900 50px,#ff8c00 52px,#ffa500 53px,#ffb200 56px,#ff8900 60px,#ff0f00 65px,#f90000 68px,#e90000 81px,#d80000 89px,#d10000 106px,#d90000 109px,#de0000 112px,#d40000 116px,#e00000 126px,#e80000 162px,#ff0800 176px,#ff3a00 190px,#fdfe02 210px,#a7ff58 218px,#50ffaf 224px,#20ffdf 232px,#8efff1 233px)"></i>
<i style="left:30px;top:384px;width:234px;height:2px;background:linear-gradient(90deg,#ffd680 0px,#ffa700 1px,#ff7200 7px,#ff4e00 9px,#ff3a00 13px,#ff2200 16px,#ff1200 26px,#ff0500 32px,#ff2c00 42px,#ff2d00 48px,#ff4c00 50px,#ff9200 52px,#ffab00 53px,#ffbb00 56px,#ff8a00 60px,#ff1100 65px,#fc0000 68px,#f20000 80px,#dd0000 88px,#d80000 105px,#d50000 108px,#e20000 111px,#d80000 116px,#e60000 124px,#ee0000 161px,#ff0d00 173px,#ff3e00 188px,#ff9100 197px,#fefd01 209px,#a3ff5c 218px,#51ffae 224px,#25ffda 232px,#90ffee 233px)"></i>
<i style="left:30px;top:386px;width:234px;height:2px;background:linear-gradient(90deg,#fcf882 0px,#fcec03 1px,#ffb600 6px,#ff7600 9px,#ff3f00 15px,#ff4800 23px,#ff1d00 32px,#ff3300 44px,#ff3000 48px,#ff4d00 50px,#ffa500 53px,#ffbb00 56px,#ff8a00 60px,#ff1100 65px,#fc0000 68px,#f10000 81px,#e20000 90px,#dc0000 105px,#d80000 108px,#e30000 111px,#db0000 116px,#ea0000 124px,#fd0100 162px,#ff3c00 184px,#ff5b00 190px,#ffdb00 203px,#f8ff07 209px,#9eff61 218px,#52ffad 224px,#2cffd3 232px,#94ffea 233px)"></i>
<i style="left:30px;top:388px;width:234px;height:2px;background:linear-gradient(90deg,#d5ffaa 0px,#b5ff4a 1px,#f0f90f 5px,#ffdd00 7px,#ffa100 9px,#ff8700 11px,#ff5d00 15px,#ff8100 22px,#ff4100 32px,#ff3900 44px,#ff2e00 47px,#ff3d00 49px,#ff6800 51px,#ff9a00 53px,#ffab00 56px,#ff8400 60px,#ff1100 65px,#fc0000 68px,#f00000 82px,#e60000 94px,#e10000 105px,#df0000 109px,#e10000 117px,#ed0000 125px,#ff0700 160px,#ff4e00 184px,#ff7900 191px,#ffe400 202px,#f7ff08 208px,#9aff65 218px,#53ffac 224px,#33ffcc 232px,#98ffe7 233px)"></i>
<i style="left:30px;top:390px;width:234px;height:2px;background:linear-gradient(90deg,#a0ffde 0px,#4effb1 1px,#b4ff4b 6px,#f6f509 8px,#ffbd00 10px,#ff8800 15px,#ffc300 22px,#ff7000 32px,#ff5f00 40px,#ff3200 47px,#ff4e00 50px,#ff9000 53px,#ff9800 56px,#ff7700 60px,#ff1000 65px,#fc0000 68px,#ef0000 84px,#e50000 105px,#e00000 109px,#e40000 117px,#f00000 125px,#ff0800 153px,#ff2600 165px,#ff6200 183px,#ff9b00 192px,#fff300 203px,#efff10 208px,#8aff75 219px,#54ffab 224px,#3affc5 232px,#9bffe3 233px)"></i>
<i style="left:30px;top:392px;width:234px;height:2px;background:linear-gradient(90deg,#80f2fe 0px,#05effa 1px,#32ffcd 4px,#5effa1 6px,#83ff7c 7px,#e5fe1a 9px,#faf305 10px,#ffb500 15px,#ffd700 18px,#f5f70a 21px,#f6f409 24px,#ffaf00 33px,#ff9000 39px,#ff4000 45px,#ff3900 48px,#ff6200 51px,#ff8300 53px,#ff8100 57px,#ff5900 61px,#ff1000 65px,#fa0000 69px,#ea0000 105px,#e20000 109px,#e80000 117px,#f40000 125px,#ff0800 147px,#ff2e00 163px,#ff7c00 183px,#fcff03 204px,#c8ff37 212px,#55ffaa 224px,#41ffbe 232px,#9fffdf 233px)"></i>
<i style="left:30px;top:394px;width:234px;height:2px;background:linear-gradient(90deg,#80cdff 0px,#00a7ff 1px,#04ebfb 5px,#0ef7f1 6px,#2effd1 7px,#a2ff5d 9px,#c9ff36 10px,#f3fd0c 12px,#ffe300 15px,#f8f807 17px,#a4ff5b 22px,#cfff30 27px,#f6f509 32px,#ffd200 38px,#ffb200 40px,#ff5300 44px,#ff3900 47px,#ff4e00 50px,#ff7200 53px,#ff6e00 57px,#ff4d00 61px,#ff0f00 65px,#fa0000 69px,#f20000 104px,#e40000 109px,#eb0000 117px,#f70000 125px,#ff0900 143px,#ff3800 162px,#ff9600 183px,#fffc00 201px,#caff35 211px,#56ffa9 224px,#48ffb7 232px,#a3ffdc 233px)"></i>
<i style="left:30px;top:396px;width:234px;height:1px;background:linear-gradient(90deg,#80b4ff 0px,#0074ff 1px,#00c9ff 6px,#02f1fd 7px,#35ffca 8px,#74ff8b 9px,#a0ff5f 10px,#e8ff17 13px,#fcfe03 15px,#daff25 17px,#7dff82 21px,#6eff91 22px,#84ff7b 25px,#f9ff06 37px,#ffec00 39px,#ff5a00 44px,#ff4000 46px,#ff3e00 48px,#ff6500 53px,#ff5d00 58px,#ff4500 61px,#ff0800 66px,#fa0000 73px,#f60000 104px,#e50000 110px,#ed0000 117px,#f90000 125px,#ff0900 141px,#ff4100 162px,#ffa700 183px,#ffde00 192px,#fcff03 201px,#c6ff39 211px,#57ffa8 224px,#4cffb3 232px,#a5ffd9 233px)"></i>
<i style="left:491px;top:262px;width:16px;height:2px;background:linear-gradient(90deg,#4cffb3 0px,#45ffba 6px,#17ffe8 15px)"></i>
<i style="left:486px;top:264px;width:32px;height:2px;background:linear-gradient(90deg,#50ffaf 0px,#45ffba 11px,#17ffe8 20px,#07fff8 31px)"></i>
<i style="left:480px;top:266px;width:49px;height:2px;background:linear-gradient(90deg,#b3ffcc 0px,#64ff9b 1px,#4cffb3 9px,#42ffbd 17px,#17ffe8 26px,#00ffff 47px,#80ffff 48px)"></i>
<i style="left:475px;top:268px;width:65px;height:2px;background:linear-gradient(90deg,#bdffc2 0px,#77ff88 1px,#49ffb6 14px,#3effc1 22px,#14ffeb 31px,#00fbff 58px,#00f7ff 63px,#80fbff 64px)"></i>
<i style="left:470px;top:270px;width:81px;height:2px;background:linear-gradient(90deg,#adff91 0px,#9fff9f 4px,#76ff89 6px,#42ffbd 18px,#39ffc6 27px,#0ffff0 36px,#00faff 61px,#00f6ff 68px,#40f7ff 70px,#40f4ff 79px,#9ff9ff 80px)"></i>
<i style="left:465px;top:272px;width:97px;height:2px;background:linear-gradient(90deg,#b5ff8a 0px,#afff8f 4px,#92ff6d 5px,#3bffc4 23px,#34ffcb 32px,#0bfff4 41px,#00f8ff 65px,#00f0ff 84px,#40f3ff 86px,#40eeff 95px,#9ff6ff 96px)"></i>
<i style="left:459px;top:274px;width:113px;height:2px;background:linear-gradient(90deg,#deffc1 0px,#bcff83 1px,#b6ff89 5px,#9cff63 6px,#87ff78 13px,#34ffcb 29px,#2dffd2 38px,#06fff9 47px,#00e8ff 101px,#40ecff 103px,#40e7ff 112px)"></i>
<i style="left:454px;top:276px;width:129px;height:2px;background:linear-gradient(90deg,#e0ffbe 0px,#c0ff7e 1px,#beff81 4px,#a5ff5a 6px,#88ff77 17px,#2dffd2 33px,#21ffde 43px,#01fefe 52px,#00deff 117px,#40e6ff 118px,#40e4ff 128px)"></i>
<i style="left:450px;top:278px;width:144px;height:2px;background:linear-gradient(90deg,#c4ff7a 0px,#c2ff7d 3px,#acff53 5px,#8aff75 20px,#56ffa9 27px,#21ffde 38px,#16ffe9 47px,#00f6ff 54px,#00d9ff 109px,#00dbff 132px,#40e4ff 133px,#40ddff 143px)"></i>
<i style="left:445px;top:280px;width:160px;height:2px;background:linear-gradient(90deg,#c1ff7e 0px,#c5ff7a 4px,#b0ff4f 5px,#8aff75 24px,#50ffaf 31px,#17ffe8 43px,#06fff9 53px,#00e4ff 64px,#00c7ff 109px,#00d8ff 144px,#00d1ff 148px,#40dbff 149px,#40dbff 155px,#40f0ff 159px)"></i>
<i style="left:440px;top:282px;width:176px;height:2px;background:linear-gradient(90deg,#e8ffd6 0px,#d1ffad 1px,#d4ffaa 4px,#acff53 5px,#abff54 12px,#7fff80 30px,#4bffb4 35px,#0bfff4 49px,#00f5ff 59px,#00d9ff 67px,#00b5ff 113px,#00d4ff 150px,#00caff 159px,#00ecff 164px,#80f9ff 165px,#94ffeb 171px,#a3ffdc 174px,#d3ffec 175px)"></i>
<i style="left:436px;top:284px;width:190px;height:2px;background:linear-gradient(90deg,#cbffb4 0px,#cfffaf 3px,#a3ff5c 5px,#acff53 14px,#75ff8a 34px,#3fffc0 39px,#02fcfd 52px,#00d5ff 67px,#00b4ff 90px,#00a9ff 119px,#00caff 156px,#00c9ff 163px,#02fffd 171px,#46ffb9 178px,#adffd1 180px,#d8ffa7 188px,#edffd1 189px)"></i>
<i style="left:431px;top:286px;width:195px;height:2px;background:linear-gradient(90deg,#e0ffde 0px,#c3ffbc 1px,#c7ffb8 4px,#94ff6b 5px,#a6ff59 18px,#5fffa0 39px,#27ffd8 46px,#01fafe 53px,#00e2ff 60px,#00a8ff 88px,#009cff 124px,#00c7ff 168px,#02fffd 176px,#b0ff4f 193px,#dbffa3 194px)"></i>
<i style="left:427px;top:288px;width:199px;height:2px;background:linear-gradient(90deg,#b9ffc5 0px,#bfffc0 3px,#82ff7d 5px,#9cff63 22px,#4cffb3 42px,#01f9fe 54px,#00d0ff 61px,#0098ff 97px,#0090ff 129px,#00b0ff 160px,#00cbff 173px,#01fefe 180px,#b0ff4f 197px,#dbffa3 198px)"></i>
<i style="left:422px;top:290px;width:204px;height:2px;background:linear-gradient(90deg,#abffd3 0px,#b1ffcd 4px,#6aff95 5px,#86ff79 22px,#8fff70 27px,#15ffea 52px,#00f1ff 57px,#00b8ff 66px,#008aff 104px,#0085ff 135px,#00a4ff 166px,#00c8ff 178px,#01fdfe 185px,#afff50 202px,#dbffa4 203px)"></i>
<i style="left:417px;top:292px;width:209px;height:2px;background:linear-gradient(90deg,#d1ffee 0px,#a5ffda 1px,#a7ffd7 4px,#52ffad 5px,#72ff8d 28px,#73ff8c 33px,#02fafd 57px,#00a2ff 70px,#007dff 113px,#007cff 142px,#0098ff 171px,#00c6ff 183px,#07fff8 191px,#adff52 207px,#daffa5 208px)"></i>
<i style="left:413px;top:294px;width:213px;height:2px;background:linear-gradient(90deg,#8efff1 0px,#9bffe4 3px,#47ffb8 5px,#52ffad 28px,#5cffa3 36px,#01f9fe 58px,#008dff 74px,#0070ff 121px,#0075ff 151px,#0090ff 176px,#00cbff 188px,#05fffa 195px,#acff53 211px,#d9ffa6 212px)"></i>
<i style="left:408px;top:296px;width:218px;height:2px;background:linear-gradient(90deg,#dffdff 0px,#bffdff 1px,#c2fffd 4px,#14ffeb 5px,#38ffc7 11px,#36ffc9 33px,#42ffbd 41px,#02f9fd 57px,#0098ff 74px,#0078ff 80px,#0063ff 133px,#007bff 177px,#009fff 186px,#00d9ff 195px,#04fffb 200px,#aaff55 216px,#d8ffa6 217px)"></i>
<i style="left:404px;top:298px;width:222px;height:2px;background:linear-gradient(90deg,#bff0ff 0px,#bff7ff 3px,#00f3ff 5px,#12ffed 11px,#23ffdc 17px,#25ffda 27px,#12ffed 35px,#27ffd8 45px,#02f9fd 55px,#0082ff 78px,#0065ff 84px,#005aff 149px,#0072ff 183px,#00cfff 198px,#03fffc 204px,#a9ff56 220px,#d7ffa7 221px)"></i>
<i style="left:399px;top:300px;width:227px;height:2px;background:linear-gradient(90deg,#bfebff 0px,#bfeeff 4px,#00c2ff 5px,#00f3ff 14px,#13ffec 23px,#21ffde 31px,#00f6ff 38px,#04f9fb 52px,#00d1ff 62px,#009bff 72px,#0088ff 78px,#0051ff 89px,#0056ff 168px,#006bff 189px,#00deff 205px,#02fefd 209px,#a7ff58 225px,#d7ffa8 226px)"></i>
<i style="left:394px;top:302px;width:232px;height:2px;background:linear-gradient(90deg,#dff3ff 0px,#bfe7ff 1px,#bfeaff 4px,#00aeff 5px,#05fffa 29px,#1affe5 36px,#00f6ff 40px,#00d1ff 45px,#00d4ff 57px,#00b9ff 66px,#007eff 76px,#0073ff 82px,#003fff 94px,#0046ff 147px,#0059ff 191px,#006fff 196px,#01fefe 214px,#a5ff5a 230px,#d6ffa9 231px)"></i>
<i style="left:392px;top:304px;width:234px;height:2px;background:linear-gradient(90deg,#dff2ff 0px,#bfe5ff 1px,#009cff 3px,#00abff 13px,#00e0ff 28px,#06fff9 34px,#16ffe9 37px,#01fcfe 40px,#00b8ff 46px,#00a2ff 67px,#0060ff 78px,#0051ff 86px,#0034ff 96px,#003eff 116px,#0042ff 176px,#0056ff 196px,#01fdfe 216px,#a4ff5b 232px,#d5ffa9 233px)"></i>
<i style="left:392px;top:306px;width:234px;height:2px;background:linear-gradient(90deg,#80c9ff 0px,#0093ff 1px,#009dff 16px,#00c1ff 27px,#03fefc 35px,#10ffef 37px,#02fefd 39px,#00a0ff 46px,#0084ff 58px,#0086ff 67px,#0044ff 78px,#002cff 97px,#0037ff 119px,#0038ff 174px,#004dff 196px,#00fdff 216px,#a2ff5d 232px,#d4ffaa 233px)"></i>
<i style="left:392px;top:308px;width:234px;height:2px;background:linear-gradient(90deg,#80c4ff 0px,#0088ff 1px,#0084ff 15px,#00a8ff 27px,#03fefc 36px,#07fff8 38px,#00e8ff 40px,#0088ff 46px,#005dff 57px,#006cff 67px,#0032ff 79px,#0026ff 98px,#002fff 127px,#002dff 171px,#003fff 195px,#00fcff 216px,#a1ff5e 232px,#d3ffab 233px)"></i>
<i style="left:392px;top:310px;width:234px;height:2px;background:linear-gradient(90deg,#80bcff 0px,#0077ff 1px,#006aff 13px,#0089ff 26px,#04fffb 37px,#02fefd 38px,#0070ff 46px,#0037ff 57px,#0052ff 67px,#0028ff 79px,#001dff 98px,#0027ff 126px,#0022ff 170px,#0037ff 195px,#00fbff 216px,#9fff60 232px,#d3ffac 233px)"></i>
<i style="left:392px;top:312px;width:234px;height:2px;background:linear-gradient(90deg,#80b3ff 0px,#0067ff 1px,#005aff 13px,#006dff 22px,#0073ff 26px,#00fcff 37px,#00f8ff 38px,#005bff 46px,#001bff 57px,#0038ff 67px,#001eff 81px,#0015ff 98px,#001eff 121px,#0019ff 169px,#002fff 195px,#00faff 216px,#9eff61 232px,#d2ffad 233px)"></i>
<i style="left:392px;top:314px;width:234px;height:2px;background:linear-gradient(90deg,#80acff 0px,#0058ff 1px,#0050ff 14px,#005dff 26px,#00e3ff 37px,#00dfff 38px,#0047ff 46px,#0008ff 57px,#0025ff 67px,#0008ff 95px,#0016ff 111px,#000fff 167px,#0027ff 195px,#00d4ff 212px,#04fffb 217px,#9bff64 232px,#d0ffae 233px)"></i>
<i style="left:392px;top:316px;width:234px;height:2px;background:linear-gradient(90deg,#80a4ff 0px,#0049ff 1px,#0047ff 15px,#0047ff 26px,#00baff 37px,#00a8ff 39px,#0032ff 46px,#0000f9 55px,#0001fa 59px,#0015ff 68px,#0003ff 97px,#0010ff 110px,#0005ff 167px,#001fff 195px,#00c9ff 211px,#03fffc 217px,#97ff68 232px,#cfffb0 233px)"></i>
<i style="left:392px;top:318px;width:234px;height:2px;background:linear-gradient(90deg,#809dff 0px,#003bff 1px,#0036ff 26px,#0091ff 37px,#0082ff 39px,#0016ff 47px,#0000f7 52px,#0000e1 57px,#0007ff 66px,#0000fe 98px,#0009ff 113px,#0000fb 166px,#0014ff 194px,#002aff 197px,#00b5ff 209px,#02fffd 217px,#94ff6b 232px,#cdffb2 233px)"></i>
<i style="left:392px;top:320px;width:234px;height:2px;background:linear-gradient(90deg,#8096ff 0px,#002cff 1px,#0030ff 27px,#006dff 37px,#0055ff 40px,#0009ff 47px,#0000e3 53px,#0000d0 57px,#0000fa 68px,#0000f8 89px,#0000fa 99px,#0000f9 123px,#0000f1 164px,#0009ff 192px,#0016ff 196px,#00b4ff 209px,#02fefd 217px,#90ff6f 232px,#cbffb4 233px)"></i>
<i style="left:392px;top:322px;width:234px;height:2px;background:linear-gradient(90deg,#8090ff 0px,#0021ff 1px,#0024ff 27px,#004bff 38px,#0000fe 48px,#0000d3 57px,#0000f4 70px,#0000f6 87px,#0000f3 98px,#0000fc 113px,#0000e8 144px,#0000ec 170px,#0006ff 195px,#00b1ff 209px,#01fefe 217px,#8dff72 232px,#c9ffb6 233px)"></i>
<i style="left:392px;top:324px;width:234px;height:2px;background:linear-gradient(90deg,#808cff 0px,#0019ff 1px,#001aff 28px,#002dff 38px,#0000f9 49px,#0000de 57px,#0000f5 72px,#0000ee 90px,#0000ef 99px,#0000f3 115px,#0000e0 146px,#0000e6 174px,#0006ff 196px,#00adff 209px,#00fdff 217px,#89ff76 232px,#c7ffb7 233px)"></i>
<i style="left:392px;top:326px;width:234px;height:2px;background:linear-gradient(90deg,#8089ff 0px,#0012ff 1px,#0012ff 32px,#0011ff 40px,#0000f7 50px,#0000eb 59px,#0000f3 82px,#0000e8 98px,#0000ee 114px,#0000da 142px,#0000dc 171px,#0000f2 194px,#0001fc 196px,#00a9ff 209px,#00fcff 217px,#86ff79 232px,#c5ffb9 233px)"></i>
<i style="left:392px;top:328px;width:234px;height:2px;background:linear-gradient(90deg,#8085ff 0px,#000bff 1px,#0007ff 31px,#0007ff 41px,#0000f3 62px,#0000e7 89px,#0000e4 99px,#0000e5 116px,#0000d1 145px,#0000d5 177px,#0000ed 195px,#0004ff 197px,#00a5ff 209px,#05fffa 218px,#7aff85 231px,#82ff7d 232px,#c3ffbb 233px)"></i>
<i style="left:392px;top:330px;width:234px;height:2px;background:linear-gradient(90deg,#8081ff 0px,#0003ff 1px,#0000fc 31px,#0000ee 76px,#0000de 98px,#0000df 116px,#0000cb 143px,#0000cd 178px,#0000e2 194px,#0000fb 197px,#00acff 210px,#04fffb 218px,#5fffa0 228px,#7fff80 232px,#c2ffbd 233px)"></i>
<i style="left:392px;top:332px;width:234px;height:2px;background:linear-gradient(90deg,#8080fb 0px,#0000f8 1px,#0000f2 15px,#0000f2 44px,#0000f3 70px,#0000d8 98px,#0000d8 116px,#0000c5 141px,#0000c6 183px,#0000e0 195px,#0006ff 198px,#00a8ff 210px,#03fffc 218px,#55ffaa 227px,#7bff84 232px,#c0ffbf 233px)"></i>
<i style="left:392px;top:334px;width:234px;height:2px;background:linear-gradient(90deg,#8080f6 0px,#0000ee 1px,#0000e8 15px,#0000ee 50px,#0000f7 66px,#0000d3 98px,#0000d0 117px,#0000bf 140px,#0000c0 184px,#0000db 195px,#0002fe 198px,#00b0ff 211px,#02fefd 218px,#4cffb3 226px,#78ff87 232px,#beffc1 233px)"></i>
<i style="left:392px;top:336px;width:234px;height:2px;background:linear-gradient(90deg,#8080f2 0px,#0000e4 1px,#0000de 15px,#0000e6 49px,#0000f5 59px,#0000ce 99px,#0000c9 118px,#0000b7 149px,#0000bf 186px,#0000d6 195px,#0000fb 198px,#00deff 215px,#01fefe 218px,#4affb5 226px,#74ff8b 232px,#bcffc2 233px)"></i>
<i style="left:392px;top:338px;width:234px;height:2px;background:linear-gradient(90deg,#8080ed 0px,#0000da 1px,#0000d5 15px,#0000dd 49px,#0000e9 60px,#0000c8 100px,#0000bf 124px,#0000b0 169px,#0000bc 187px,#0000d1 195px,#0005ff 199px,#00dcff 215px,#01fdfe 218px,#41ffbe 225px,#70ff8f 232px,#baffc5 233px)"></i>
<i style="left:392px;top:340px;width:234px;height:2px;background:linear-gradient(90deg,#8080e8 0px,#0000d2 1px,#0000cc 15px,#0000d5 50px,#0000dd 62px,#0000c3 102px,#0000ac 170px,#0000b6 187px,#0000cc 195px,#0002fe 199px,#00e6ff 216px,#08fff7 219px,#3fffc0 225px,#6aff95 232px,#b7ffc8 233px)"></i>
<i style="left:392px;top:342px;width:234px;height:2px;background:linear-gradient(90deg,#8080e6 0px,#0000cc 1px,#0000ca 48px,#0000d1 66px,#0000c0 93px,#0000b1 146px,#0000ad 185px,#0000c9 195px,#0000fc 199px,#00fbff 218px,#3dffc2 225px,#64ff9b 232px,#b4ffcb 233px)"></i>
<i style="left:392px;top:344px;width:234px;height:2px;background:linear-gradient(90deg,#8080e3 0px,#0000c7 1px,#0000c1 90px,#0000af 152px,#0000b1 186px,#0000ca 195px,#0000fc 199px,#00faff 218px,#36ffc9 224px,#5effa1 232px,#b0ffce 233px)"></i>
<i style="left:392px;top:346px;width:234px;height:2px;background:linear-gradient(90deg,#8080e1 0px,#0000c3 1px,#0000be 93px,#0000b1 152px,#0000b4 186px,#0000d6 196px,#0001fc 199px,#007cff 208px,#03d9fc 213px,#1dfbe2 217px,#4bffb4 224px,#5dffa2 232px,#afffd0 233px)"></i>
<i style="left:392px;top:348px;width:234px;height:2px;background:linear-gradient(90deg,#80a1f3 0px,#0043e6 1px,#003ae5 9px,#0003d7 14px,#0000c0 17px,#0000c6 83px,#000cdf 91px,#0024e9 96px,#0375f7 103px,#0275f8 109px,#0050f8 110px,#0019f0 111px,#0000d3 112px,#0000be 113px,#0000b5 167px,#0000c2 185px,#000be5 195px,#0024f8 197px,#0485fb 201px,#34c0cb 205px,#5ce3a3 208px,#83fa7c 211px,#d6f129 215px,#dafa25 218px,#a4ff5b 226px,#71ff8e 232px,#b5ffc9 233px)"></i>
<i style="left:392px;top:350px;width:234px;height:2px;background:linear-gradient(90deg,#f9ad84 0px,#f25d09 1px,#f3640c 7px,#f16d0e 8px,#ea8c15 9px,#cbe834 11px,#8afd75 12px,#30e9cf 13px,#00a6ff 14px,#0036fe 15px,#0000de 16px,#0000c3 17px,#0000c2 81px,#0000ca 82px,#000bf8 84px,#01a8fe 89px,#2eded1 92px,#76f389 95px,#b5ea4a 100px,#d8cf27 104px,#d8cf27 108px,#ccde33 109px,#6efc91 110px,#03a4fc 111px,#0010f1 112px,#0000c2 113px,#0000c5 131px,#0011d9 157px,#0038f3 166px,#067ff9 177px,#20addf 185px,#61d89e 193px,#88e177 197px,#aee651 199px,#f3be0c 203px,#ff7900 206px,#ff6a00 207px,#ffbf00 215px,#f8ff07 221px,#77ff88 232px,#b7ffc7 233px)"></i>
<i style="left:392px;top:352px;width:234px;height:2px;background:linear-gradient(90deg,#f08080 0px,#e20000 1px,#fb0300 8px,#ff2b00 9px,#ffb600 11px,#e7fb18 12px,#7cff83 13px,#1ff5e0 14px,#07b3f8 15px,#0179fd 16px,#006af8 17px,#006af8 81px,#0171fa 82px,#13acec 84px,#39e3c6 86px,#7afe85 88px,#c3ec3c 90px,#f1bd0e 92px,#ff6f00 94px,#fc4e00 95px,#ed1b00 101px,#e40c00 105px,#e50d00 108px,#f52100 109px,#f3bd0c 110px,#3eeec1 111px,#004ffd 112px,#0016e7 113px,#005ef7 125px,#119cee 136px,#3dd7c2 149px,#82f37d 162px,#bee441 172px,#eeb211 183px,#ff7900 188px,#f32400 194px,#f21900 197px,#ff2b00 202px,#ff4c00 207px,#fff900 220px,#76ff89 232px,#b7ffc8 233px)"></i>
<i style="left:392px;top:354px;width:234px;height:2px;background:linear-gradient(90deg,#e68080 0px,#ce0000 1px,#dd0000 7px,#e80000 8px,#fe1400 9px,#fec701 12px,#e7e318 13px,#d0e92f 14px,#cada35 18px,#ced831 82px,#f3b50c 85px,#ff5800 89px,#f71200 92px,#d50000 94px,#c20000 95px,#b60000 108px,#ce0000 109px,#fe4000 110px,#e6ce19 111px,#8bf674 112px,#6def92 113px,#a2f05d 121px,#cfd630 128px,#f4a30b 142px,#ff6300 154px,#e81800 173px,#cb0000 186px,#cb0000 195px,#ff0700 201px,#ff6400 209px,#fff800 220px,#c9ff36 225px,#75ff8a 232px,#b6ffc8 233px)"></i>
<i style="left:392px;top:356px;width:234px;height:2px;background:linear-gradient(90deg,#dd8080 0px,#bb0000 1px,#d10000 8px,#f30c00 10px,#fb2b00 12px,#fb2800 14px,#e81400 17px,#e70f00 83px,#cb0000 91px,#b60000 96px,#b70000 108px,#be0000 109px,#df0200 110px,#f62100 111px,#fb4700 112px,#fc5200 113px,#e11100 127px,#bb0000 151px,#a80000 165px,#a40000 185px,#d20000 196px,#ff0600 201px,#ff6100 209px,#faff05 221px,#74ff8b 232px,#b5ffc9 233px)"></i>
<i style="left:392px;top:358px;width:234px;height:2px;background:linear-gradient(90deg,#dc8080 0px,#ba0000 1px,#df0000 13px,#db0000 14px,#b90000 16px,#b90000 109px,#b90000 115px,#a00000 130px,#a60000 185px,#d40000 196px,#ff0600 201px,#ff5e00 209px,#fbff04 221px,#73ff8c 232px,#b5ffca 233px)"></i>
<i style="left:392px;top:360px;width:234px;height:2px;background:linear-gradient(90deg,#df8080 0px,#c00000 1px,#d10000 13px,#b30000 17px,#ba0000 91px,#b40000 113px,#a00000 132px,#a70000 185px,#d60000 196px,#ff0600 201px,#ff4d00 208px,#fcff03 221px,#72ff8d 232px,#b4ffca 233px)"></i>
<i style="left:392px;top:362px;width:234px;height:2px;background:linear-gradient(90deg,#e38080 0px,#c70000 1px,#d60000 11px,#b60000 15px,#b80000 80px,#b90000 112px,#a10000 131px,#a90000 185px,#d80000 196px,#ff0500 201px,#ff4a00 208px,#fcff03 221px,#71ff8e 232px,#b4ffcb 233px)"></i>
<i style="left:392px;top:364px;width:234px;height:2px;background:linear-gradient(90deg,#e68080 0px,#ce0000 1px,#d90000 11px,#b80000 14px,#bc0000 80px,#bb0000 112px,#a10000 131px,#ab0000 185px,#da0000 196px,#ff0800 201px,#ff4c00 208px,#fbff04 221px,#70ff8f 232px,#b3ffcb 233px)"></i>
<i style="left:392px;top:366px;width:234px;height:2px;background:linear-gradient(90deg,#ea8080 0px,#d50000 1px,#dc0000 11px,#bd0000 14px,#c30000 63px,#bc0000 113px,#a20000 130px,#ac0000 185px,#dd0000 196px,#ff0300 200px,#ff5200 208px,#fff800 220px,#acff53 227px,#6fff90 232px,#b3ffcc 233px)"></i>
<i style="left:392px;top:368px;width:234px;height:2px;background:linear-gradient(90deg,#ed8080 0px,#db0000 1px,#df0000 11px,#c10000 14px,#d10000 60px,#c40000 96px,#bd0000 114px,#a30000 130px,#ae0000 185px,#df0000 196px,#ff0600 200px,#ff6500 209px,#fffb00 220px,#6eff91 232px,#b3ffcc 233px)"></i>
<i style="left:392px;top:370px;width:234px;height:2px;background:linear-gradient(90deg,#f08080 0px,#e20000 1px,#e20000 11px,#c50000 15px,#de0000 59px,#c90000 87px,#bf0000 114px,#a40000 130px,#b00000 185px,#e20000 196px,#fe0100 199px,#ff6b00 209px,#fefd01 220px,#6dff92 232px,#b2ffcc 233px)"></i>
<i style="left:392px;top:372px;width:234px;height:2px;background:linear-gradient(90deg,#f38080 0px,#e70000 1px,#e50000 11px,#c90000 15px,#ec0000 58px,#cf0000 81px,#c10000 114px,#a50000 130px,#ae0000 184px,#e40000 196px,#ff0400 199px,#ff7d00 210px,#fcfe03 220px,#6dff92 232px,#b2ffcd 233px)"></i>
<i style="left:392px;top:374px;width:234px;height:2px;background:linear-gradient(90deg,#f48080 0px,#e90000 1px,#e80000 11px,#ce0000 15px,#f90000 58px,#dc0000 75px,#cc0000 104px,#bf0000 116px,#a60000 130px,#b00000 184px,#e70000 196px,#ff0700 199px,#ff8f00 211px,#faff05 220px,#6cff93 232px,#b1ffcd 233px)"></i>
<i style="left:392px;top:376px;width:234px;height:2px;background:linear-gradient(90deg,#f58080 0px,#ec0000 1px,#e50000 12px,#d30000 15px,#ff0700 55px,#f10000 65px,#cf0000 92px,#c60000 114px,#a70000 129px,#b10000 184px,#e90000 196px,#ff0a00 199px,#ffae00 213px,#fffa00 219px,#6bff94 232px,#b1ffce 233px)"></i>
<i style="left:392px;top:378px;width:234px;height:2px;background:linear-gradient(90deg,#f78080 0px,#ee0000 1px,#e80000 12px,#d80000 15px,#ff0700 50px,#ff1100 58px,#f50000 67px,#d30000 91px,#c90000 114px,#a80000 129px,#b30000 184px,#ec0000 196px,#ff0300 198px,#ffd800 216px,#fefd01 219px,#6aff95 232px,#b0ffce 233px)"></i>
<i style="left:392px;top:380px;width:234px;height:2px;background:linear-gradient(90deg,#f88080 0px,#f10000 1px,#eb0000 12px,#dd0000 16px,#ff0700 46px,#ff1f00 57px,#fc0000 68px,#e10000 81px,#d30000 104px,#c60000 116px,#ab0000 129px,#b60000 183px,#f10000 196px,#ff1300 199px,#fdfe02 219px,#69ff96 232px,#b0ffce 233px)"></i>
<i style="left:392px;top:382px;width:234px;height:2px;background:linear-gradient(90deg,#f98080 0px,#f30000 1px,#ee0000 12px,#e20000 16px,#ff0700 43px,#ff2a00 57px,#fe0200 71px,#ea0000 80px,#d60000 94px,#cc0000 115px,#b20000 130px,#be0000 183px,#ff0600 197px,#faff05 219px,#68ff97 232px,#b0ffcf 233px)"></i>
<i style="left:392px;top:384px;width:234px;height:2px;background:linear-gradient(90deg,#fa8080 0px,#f50000 1px,#f10000 12px,#e80000 17px,#ff0700 40px,#ff2300 51px,#ff3500 57px,#ff0900 70px,#f30000 79px,#e00000 86px,#ce0000 116px,#ba0000 131px,#c40000 179px,#d10000 186px,#ff0500 196px,#fffb00 218px,#67ff98 232px,#afffcf 233px)"></i>
<i style="left:392px;top:386px;width:234px;height:2px;background:linear-gradient(90deg,#fb8080 0px,#f80000 1px,#f40000 12px,#ee0000 18px,#ff0800 38px,#ff2200 49px,#ff4000 57px,#ff0e00 69px,#fa0000 78px,#e50000 85px,#da0000 107px,#c10000 133px,#cc0000 177px,#d90000 186px,#ff0600 195px,#fdfe02 218px,#66ff99 232px,#afffd0 233px)"></i>
<i style="left:392px;top:388px;width:234px;height:2px;background:linear-gradient(90deg,#fd8080 0px,#fa0000 1px,#f40000 13px,#ff0900 36px,#ff2300 48px,#ff4800 57px,#ff1300 68px,#f80000 79px,#e10000 91px,#d10000 120px,#c80000 145px,#d90000 184px,#ff0600 193px,#ff2d00 198px,#fffb00 217px,#65ff9a 232px,#aeffd0 233px)"></i>
<i style="left:392px;top:390px;width:234px;height:2px;background:linear-gradient(90deg,#fe8080 0px,#fd0000 1px,#fb0000 21px,#ff1d00 45px,#ff4900 57px,#ff1400 69px,#fa0000 79px,#de0000 96px,#d30000 123px,#d60000 168px,#e60000 185px,#ff0500 191px,#ff2d00 197px,#fdfe02 217px,#64ff9b 232px,#aeffd1 233px)"></i>
<i style="left:392px;top:392px;width:234px;height:2px;background:linear-gradient(90deg,#ff8080 0px,#ff0000 1px,#ff0900 29px,#ff2c00 48px,#ff4900 57px,#ff1400 70px,#f90000 80px,#e10000 99px,#d80000 160px,#ef0000 185px,#ff0900 190px,#ff3600 197px,#fffc00 216px,#63ff9c 232px,#aeffd1 233px)"></i>
<i style="left:392px;top:394px;width:234px;height:2px;background:linear-gradient(90deg,#ff8180 0px,#ff0300 1px,#ff0900 24px,#ff2700 45px,#ff4900 57px,#ff1400 71px,#f70000 82px,#e30000 101px,#e40000 166px,#f80000 185px,#ff2e00 195px,#fbff04 216px,#62ff9d 232px,#adffd1 233px)"></i>
<i style="left:392px;top:396px;width:234px;height:1px;background:linear-gradient(90deg,#ff8280 0px,#ff0400 1px,#ff0d00 25px,#ff2800 44px,#ff4a00 57px,#ff1100 73px,#f70000 83px,#e50000 101px,#ea0000 166px,#ff0400 186px,#ff3c00 196px,#fefd01 215px,#61ff9e 232px,#adffd2 233px)"></i>
<i style="left:133px;top:492px;width:11px;height:2px;background:linear-gradient(90deg,#ffd0bf 0px,#ff9e80 1px,#ff9980 9px,#ffccbf 10px)"></i>
<i style="left:126px;top:494px;width:30px;height:2px;background:linear-gradient(90deg,#ffecdf 0px,#ffd7bf 1px,#ffd1bf 6px,#ff3e00 8px,#ff3000 13px,#ff3400 16px,#ffcdbf 18px,#ffd0bf 29px)"></i>
<i style="left:120px;top:496px;width:49px;height:2px;background:linear-gradient(90deg,#ffe0bf 0px,#ffdabf 5px,#ff6000 7px,#ff2f00 18px,#ff4300 35px,#ffd0bf 36px,#ffd1bf 47px,#ffe8df 48px)"></i>
<i style="left:120px;top:498px;width:49px;height:2px;background:linear-gradient(90deg,#ff8300 0px,#ff3100 18px,#ff4600 47px,#ffa380 48px)"></i>
<i style="left:113px;top:500px;width:68px;height:2px;background:linear-gradient(90deg,#ffa700 0px,#ff3400 25px,#ff4a00 65px,#ff4a00 67px)"></i>
<i style="left:106px;top:502px;width:88px;height:2px;background:linear-gradient(90deg,#ffe19f 0px,#ffc340 1px,#ffc140 6px,#ffa800 7px,#ff3700 32px,#ff4a00 74px,#ff7840 75px,#ff7d40 87px)"></i>
<i style="left:99px;top:504px;width:108px;height:2px;background:linear-gradient(90deg,#ffeabf 0px,#ffd580 1px,#ffd780 6px,#ffb000 8px,#ffa900 14px,#ff3a00 39px,#ff5200 94px,#ffa980 95px,#ffaf80 106px,#ffd7bf 107px)"></i>
<i style="left:93px;top:506px;width:126px;height:2px;background:linear-gradient(90deg,#ffcd80 0px,#ffd480 5px,#ffaa00 7px,#ffae00 19px,#ff3d00 45px,#ff5800 105px,#ff6000 112px,#ffb180 114px,#ffb780 125px)"></i>
<i style="left:86px;top:508px;width:146px;height:2px;background:linear-gradient(90deg,#ffe2bf 0px,#ffe5bf 6px,#ff9a00 7px,#ffb200 21px,#ffad00 27px,#ff4000 52px,#ff5900 112px,#ff6f00 132px,#ffdbbf 133px,#ffe1bf 144px,#fff0df 145px)"></i>
<i style="left:86px;top:510px;width:146px;height:2px;background:linear-gradient(90deg,#ff8c00 0px,#ffb100 18px,#ffb400 26px,#ff4300 52px,#ff5b00 112px,#ff8000 142px,#ff8500 144px,#ffc380 145px)"></i>
<i style="left:79px;top:512px;width:165px;height:2px;background:linear-gradient(90deg,#ffc980 0px,#ff9200 1px,#ff8f00 10px,#ffb000 22px,#ffb600 33px,#ff4600 59px,#ff5c00 119px,#ff8000 149px,#ffa800 164px)"></i>
<i style="left:72px;top:514px;width:185px;height:2px;background:linear-gradient(90deg,#ffc680 0px,#ff8d00 1px,#ff8e00 13px,#ff9800 19px,#ffb400 30px,#ffb900 40px,#ff4900 66px,#ff5e00 127px,#ff8000 156px,#ffc800 183px,#ffe580 184px)"></i>
<i style="left:66px;top:516px;width:203px;height:2px;background:linear-gradient(90deg,#ffa440 0px,#ffa840 5px,#ff8e00 7px,#ff9100 19px,#ff9e00 26px,#ffb800 37px,#ffbc00 46px,#ff4c00 72px,#ff5f00 133px,#ff8000 162px,#ffc800 189px,#ffda40 191px,#fff040 202px)"></i>
<i style="left:59px;top:518px;width:211px;height:2px;background:linear-gradient(90deg,#ffbc80 0px,#ffc280 6px,#ff8500 7px,#ff9600 23px,#ff9a00 31px,#ffb900 43px,#ffbf00 53px,#ff6100 75px,#ff5000 81px,#ff5400 123px,#ff7d00 168px,#ffeb00 209px,#fff680 210px)"></i>
<i style="left:52px;top:520px;width:218px;height:2px;background:linear-gradient(90deg,#ffebdf 0px,#ffd8bf 1px,#ffddbf 6px,#ff7900 7px,#ff9a00 29px,#ff9e00 38px,#ffbd00 51px,#ffc200 60px,#ff7a00 78px,#ff5600 87px,#ff4b00 109px,#ff6400 154px,#ff8000 176px,#ffe900 217px)"></i>
<i style="left:45px;top:522px;width:225px;height:2px;background:linear-gradient(90deg,#ffebdf 0px,#ffd7bf 1px,#ffd7bf 6px,#ff6300 8px,#ff8b00 23px,#ff9c00 37px,#ffa100 45px,#ffc600 61px,#ffca00 67px,#ff7700 87px,#ff5a00 95px,#ff4700 113px,#ff6200 159px,#ff8300 185px,#ffda00 224px)"></i>
<i style="left:45px;top:524px;width:225px;height:2px;background:linear-gradient(90deg,#ffb080 0px,#ff6000 1px,#ff6500 9px,#ff9900 29px,#ff9d00 41px,#ffd800 66px,#ff5f00 95px,#ff4400 112px,#ff6100 159px,#ff8a00 190px,#ffc900 224px)"></i>
<i style="left:38px;top:526px;width:232px;height:2px;background:linear-gradient(90deg,#ffb380 0px,#ff6600 1px,#ff5700 15px,#ff8c00 29px,#ffa200 43px,#ffa200 51px,#ffe400 73px,#ff6400 102px,#ff4100 118px,#ff5e00 163px,#ffb800 231px)"></i>
<i style="left:32px;top:528px;width:238px;height:2px;background:linear-gradient(90deg,#ff9540 0px,#ff8e40 5px,#ff6400 7px,#ff4900 21px,#ff8400 32px,#ffa600 47px,#ffa200 57px,#fff000 79px,#ff6600 109px,#ff3e00 124px,#ff5a00 165px,#ff9500 216px,#ffa700 237px)"></i>
<i style="left:30px;top:530px;width:240px;height:2px;background:linear-gradient(90deg,#ffcb9f 0px,#ff9640 1px,#ff7100 2px,#ff3800 22px,#ff8000 33px,#ffa400 46px,#ffa100 59px,#fff800 81px,#ff6600 112px,#ff3b00 125px,#ff5700 165px,#ff8a00 201px,#ff9e00 239px)"></i>
<i style="left:30px;top:532px;width:240px;height:2px;background:linear-gradient(90deg,#ffba80 0px,#ff7300 1px,#ff4400 16px,#ff2a00 22px,#ff7b00 32px,#ffa100 43px,#ffa600 51px,#ff9d00 58px,#ffe400 74px,#fff900 81px,#ff6100 114px,#ff3c00 125px,#ff5e00 166px,#ff8e00 199px,#ff9e00 239px)"></i>
<i style="left:30px;top:534px;width:240px;height:2px;background:linear-gradient(90deg,#ffba80 0px,#ff7200 1px,#ff4700 14px,#ff1c00 22px,#ff6400 29px,#ff8300 33px,#ffa500 43px,#ffa400 52px,#ff9c00 58px,#ffde00 71px,#fffb00 81px,#ff7200 111px,#ff4b00 126px,#ff6800 166px,#ff9400 199px,#ff9e00 239px)"></i>
<i style="left:30px;top:536px;width:240px;height:2px;background:linear-gradient(90deg,#ffba80 0px,#ff7200 1px,#ff4100 14px,#ff1000 22px,#ff3100 25px,#ff8200 31px,#ffaa00 41px,#ffa400 52px,#ff9b00 58px,#ffdf00 70px,#fffc00 81px,#ff7b00 110px,#ff5c00 127px,#ff7300 166px,#ff9a00 199px,#ff9e00 239px)"></i>
<i style="left:30px;top:538px;width:240px;height:2px;background:linear-gradient(90deg,#ffba80 0px,#ff7200 1px,#ff4100 15px,#ff1d00 22px,#ff4b00 26px,#ff8c00 31px,#ffb100 41px,#ffa200 53px,#ff9a00 58px,#ffe100 69px,#fffd00 81px,#ff8200 109px,#ff6d00 129px,#ff7e00 166px,#ffa200 200px,#ffa600 239px)"></i>
<i style="left:30px;top:540px;width:240px;height:2px;background:linear-gradient(90deg,#ffba80 0px,#ff7400 1px,#ff5200 15px,#ff3600 22px,#ff9b00 32px,#ffb900 41px,#ff9900 58px,#ffe500 69px,#ffff00 81px,#ff8600 109px,#ff7f00 144px,#ff8c00 168px,#ffae00 203px,#ffb800 239px)"></i>
<i style="left:30px;top:542px;width:240px;height:2px;background:linear-gradient(90deg,#ffbd80 0px,#ff7b00 1px,#ff6200 16px,#ff5000 22px,#ffa500 32px,#ffc000 41px,#ff9600 58px,#ffe700 68px,#fffd00 82px,#ff8900 108px,#ff9700 166px,#ffbe00 211px,#ffcc00 239px)"></i>
<i style="left:30px;top:544px;width:240px;height:2px;background:linear-gradient(90deg,#ffc780 0px,#ff8d00 1px,#ff6e00 23px,#ffaf00 32px,#ffc800 41px,#ff8f00 58px,#ffec00 68px,#fffe00 82px,#ff8700 108px,#ffa000 129px,#ffa700 167px,#ffe000 239px)"></i>
<i style="left:30px;top:546px;width:240px;height:2px;background:linear-gradient(90deg,#ffd080 0px,#ffa100 1px,#ff8a00 23px,#ffc100 34px,#ffd000 41px,#ff9c00 53px,#ff8700 58px,#fff000 68px,#fcff03 82px,#ffa500 101px,#ff8400 108px,#ffb100 126px,#ffba00 171px,#fff000 239px)"></i>
<i style="left:30px;top:548px;width:240px;height:2px;background:linear-gradient(90deg,#ffdb80 0px,#ffb700 1px,#ffa700 23px,#ffda00 38px,#ffd400 43px,#ffac00 51px,#ff8000 57px,#ff8b00 59px,#fff500 68px,#f3ff0c 82px,#ffee00 88px,#ff8200 107px,#ffc300 126px,#ffcc00 178px,#fffb00 239px)"></i>
<i style="left:30px;top:550px;width:240px;height:2px;background:linear-gradient(90deg,#ffe780 0px,#ffcf00 1px,#ffc400 23px,#ffe900 40px,#ffbd00 50px,#ff8900 57px,#ff9400 59px,#fffb00 68px,#e6ff19 81px,#fffa00 87px,#ff7f00 107px,#ffd400 125px,#ffde00 184px,#f9ff06 239px)"></i>
<i style="left:30px;top:552px;width:240px;height:2px;background:linear-gradient(90deg,#fff380 0px,#ffe700 1px,#ffde00 24px,#fff200 41px,#ffb100 54px,#ffa000 58px,#feff01 68px,#dcff23 81px,#fffb00 88px,#ff7c00 107px,#ffe400 125px,#fff100 193px,#efff10 238px,#efff10 239px)"></i>
<i style="left:30px;top:554px;width:240px;height:2px;background:linear-gradient(90deg,#fffa80 0px,#fff500 1px,#ffef00 26px,#fff900 41px,#ffb600 58px,#fdfe02 67px,#d3ff2c 81px,#fffc00 89px,#ff7c00 107px,#fff500 125px,#f5ff0a 209px,#e4ff1b 239px)"></i>
<i style="left:30px;top:556px;width:240px;height:2px;background:linear-gradient(90deg,#fffe80 0px,#fffd00 1px,#fffe00 36px,#fff500 44px,#ffcc00 58px,#fcff03 66px,#c9ff36 81px,#fffc00 90px,#ff8200 107px,#faff05 124px,#e8ff17 204px,#d8ff27 239px)"></i>
<i style="left:30px;top:558px;width:240px;height:2px;background:linear-gradient(90deg,#fbff83 0px,#f8ff07 1px,#fff900 45px,#ffe000 58px,#f8ff07 65px,#beff41 81px,#fefc01 91px,#ff8a00 107px,#f9ff06 122px,#e7ff18 125px,#dcff23 187px,#cbff34 239px)"></i>
<i style="left:30px;top:560px;width:240px;height:2px;background:linear-gradient(90deg,#f7ff88 0px,#efff10 1px,#fbff04 44px,#fff300 58px,#edff12 65px,#b0ff4f 81px,#fdfd02 93px,#ff9300 107px,#ffe700 117px,#fbfe04 120px,#d6ff29 125px,#ccff33 181px,#bfff40 239px)"></i>
<i style="left:30px;top:562px;width:240px;height:2px;background:linear-gradient(90deg,#f1ff8e 0px,#e3ff1c 1px,#edff12 36px,#f8ff07 59px,#a1ff5e 81px,#fdfd02 95px,#ff9b00 107px,#ffce00 113px,#fdfd02 118px,#c4ff3b 125px,#bbff44 177px,#b2ff4d 228px,#b2ff4d 239px)"></i>
<i style="left:30px;top:564px;width:240px;height:2px;background:linear-gradient(90deg,#ebff94 0px,#d7ff28 1px,#e6ff19 26px,#dfff20 42px,#f8ff07 58px,#92ff6d 81px,#eeff11 95px,#fff500 98px,#ffa700 107px,#ffd100 112px,#f9fe06 117px,#b5ff4a 124px,#a7ff58 175px,#9eff61 205px,#a6ff59 239px)"></i>
<i style="left:30px;top:566px;width:240px;height:2px;background:linear-gradient(90deg,#e5ff9a 0px,#cbff34 1px,#e0ff1f 24px,#caff35 41px,#f7ff08 58px,#8dff72 78px,#87ff78 82px,#e3ff1c 96px,#fef801 100px,#ffc000 107px,#fcfb03 114px,#9fff60 124px,#92ff6d 173px,#87ff78 201px,#99ff66 239px)"></i>
<i style="left:30px;top:568px;width:240px;height:2px;background:linear-gradient(90deg,#deffa0 0px,#beff41 1px,#d2ff2d 24px,#b8ff47 41px,#f2ff0d 58px,#9fff60 70px,#6fff90 81px,#ccff33 96px,#fdf902 103px,#ffde00 107px,#f7fe08 112px,#87ff78 124px,#7bff84 174px,#72ff8d 200px,#8dff72 239px)"></i>
<i style="left:30px;top:570px;width:240px;height:2px;background:linear-gradient(90deg,#d7ffa7 0px,#b0ff4f 1px,#c2ff3d 24px,#acff53 41px,#daff25 58px,#86ff79 71px,#5bffa4 81px,#bbff44 97px,#fcfa03 107px,#e5ff1a 111px,#71ff8e 124px,#62ff9d 180px,#61ff9e 201px,#80ff7f 239px)"></i>
<i style="left:30px;top:572px;width:240px;height:2px;background:linear-gradient(90deg,#d0ffaf 0px,#a1ff5e 1px,#b0ff4f 25px,#a3ff5c 42px,#bdff42 58px,#60ff9f 75px,#48ffb7 81px,#d3ff2c 105px,#dcff23 108px,#5cffa3 124px,#4dffb2 187px,#56ffa9 207px,#73ff8c 239px)"></i>
<i style="left:30px;top:574px;width:240px;height:2px;background:linear-gradient(90deg,#c8ffb6 0px,#92ff6d 1px,#a0ff5f 26px,#99ff66 43px,#a0ff5f 58px,#35ffca 81px,#b9ff46 107px,#47ffb8 125px,#3bffc4 187px,#44ffbb 206px,#66ff99 239px)"></i>
<i style="left:30px;top:576px;width:240px;height:2px;background:linear-gradient(90deg,#c1ffbe 0px,#83ff7c 1px,#90ff6f 28px,#8aff75 54px,#6eff91 63px,#28ffd7 81px,#93ff6c 107px,#33ffcc 125px,#2dffd2 199px,#58ffa7 239px)"></i>
<i style="left:30px;top:578px;width:240px;height:2px;background:linear-gradient(90deg,#baffc5 0px,#75ff8a 1px,#81ff7e 35px,#7bff84 52px,#51ffae 65px,#1dffe2 81px,#71ff8e 108px,#23ffdc 125px,#25ffda 200px,#4bffb4 239px)"></i>
<i style="left:30px;top:580px;width:240px;height:2px;background:linear-gradient(90deg,#b3ffcb 0px,#68ff97 1px,#6cff93 38px,#6cff93 51px,#14ffeb 80px,#56ffa9 108px,#1affe5 126px,#20ffdf 202px,#3effc1 239px)"></i>
<i style="left:30px;top:582px;width:240px;height:2px;background:linear-gradient(90deg,#acffd2 0px,#5affa5 1px,#55ffaa 36px,#58ffa7 44px,#5cffa3 50px,#09fff6 81px,#3bffc4 108px,#13ffec 127px,#1bffe4 205px,#31ffce 239px)"></i>
<i style="left:30px;top:584px;width:240px;height:2px;background:linear-gradient(90deg,#a5ffd9 0px,#4bffb4 1px,#42ffbd 34px,#3cffc3 42px,#4dffb2 49px,#05fffa 82px,#20ffdf 109px,#0cfff3 129px,#16ffe9 207px,#29ffd6 239px)"></i>
<i style="left:30px;top:586px;width:240px;height:2px;background:linear-gradient(90deg,#9effe1 0px,#3dffc2 1px,#2bffd4 37px,#2fffd0 43px,#3affc5 50px,#1affe5 66px,#03fffc 83px,#11ffee 111px,#05fffa 132px,#11ffee 209px,#22ffdd 239px)"></i>
<i style="left:30px;top:588px;width:240px;height:2px;background:linear-gradient(90deg,#96ffe8 0px,#2effd1 1px,#28ffd7 21px,#22ffdd 42px,#2effd1 50px,#14ffeb 62px,#01fffe 86px,#0afff5 111px,#00fdff 137px,#0bfff4 209px,#1bffe4 239px)"></i>
<i style="left:30px;top:590px;width:240px;height:2px;background:linear-gradient(90deg,#8fffef 0px,#20ffdf 1px,#21ffde 18px,#16ffe9 41px,#29ffd6 49px,#0afff5 60px,#02fefd 98px,#00f5ff 122px,#07fff8 214px,#15ffea 239px)"></i>
<i style="left:30px;top:592px;width:240px;height:2px;background:linear-gradient(90deg,#8bfff3 0px,#18ffe7 1px,#16ffe9 19px,#0cfff3 41px,#22ffdd 49px,#04fffb 60px,#00f1ff 89px,#00f1ff 114px,#00ebff 134px,#08fff7 227px,#0efff1 239px)"></i>
<i style="left:30px;top:594px;width:240px;height:2px;background:linear-gradient(90deg,#8afff5 0px,#14ffeb 1px,#03fffc 28px,#00f6ff 41px,#1bffe4 49px,#00fdff 64px,#00dfff 83px,#00e3ff 109px,#00e2ff 138px,#00f8ff 214px,#07fff8 239px)"></i>
<i style="left:30px;top:596px;width:240px;height:2px;background:linear-gradient(90deg,#88fff7 0px,#10ffef 1px,#00f5ff 30px,#00d6ff 40px,#04fffb 46px,#16ffe9 49px,#00f7ff 65px,#00ceff 82px,#00d8ff 97px,#00d2ff 128px,#00f1ff 216px,#01fefe 239px)"></i>
<i style="left:30px;top:598px;width:240px;height:2px;background:linear-gradient(90deg,#86fff8 0px,#0dfff2 1px,#00f7ff 18px,#00e3ff 32px,#00b9ff 40px,#04fffb 47px,#12ffed 50px,#00f7ff 63px,#00bdff 82px,#00cdff 95px,#00beff 112px,#00d9ff 184px,#00f7ff 239px)"></i>
<i style="left:30px;top:600px;width:240px;height:2px;background:linear-gradient(90deg,#84fffa 0px,#09fff6 1px,#00faff 14px,#00deff 24px,#00ddff 31px,#009cff 40px,#00faff 47px,#0ffff0 50px,#00faff 61px,#00adff 82px,#00c2ff 94px,#00aeff 110px,#00cfff 177px,#00eeff 239px)"></i>
<i style="left:30px;top:602px;width:240px;height:2px;background:linear-gradient(90deg,#83fffc 0px,#06fff9 1px,#00f7ff 13px,#00d0ff 23px,#00d3ff 31px,#008bff 40px,#04fffb 48px,#0bfff4 51px,#00f8ff 61px,#00a0ff 81px,#00b6ff 94px,#00a0ff 110px,#00c5ff 175px,#00e6ff 239px)"></i>
<i style="left:30px;top:604px;width:240px;height:2px;background:linear-gradient(90deg,#80fffe 0px,#01fefe 1px,#00f2ff 13px,#00c8ff 23px,#00caff 31px,#008fff 40px,#02fefd 48px,#0afff5 55px,#00f5ff 62px,#009cff 81px,#00aeff 94px,#0093ff 110px,#00bbff 172px,#00d9ff 231px,#00deff 239px)"></i>
<i style="left:30px;top:606px;width:240px;height:2px;background:linear-gradient(90deg,#80fcff 0px,#00f9ff 1px,#00eeff 13px,#00c7ff 24px,#00c2ff 32px,#0095ff 40px,#01fdfe 48px,#11ffee 58px,#00f6ff 63px,#009aff 81px,#00a9ff 94px,#0085ff 109px,#00b2ff 170px,#00ccff 225px,#00d5ff 239px)"></i>
<i style="left:30px;top:608px;width:240px;height:2px;background:linear-gradient(90deg,#80f8ff 0px,#00f2ff 1px,#00ebff 13px,#00c8ff 24px,#00c7ff 32px,#00a0ff 40px,#00fdff 48px,#1affe5 58px,#00fbff 63px,#0097ff 81px,#00a4ff 94px,#0077ff 109px,#0096ff 144px,#00aaff 171px,#00cdff 237px,#00cfff 239px)"></i>
<i style="left:30px;top:610px;width:240px;height:2px;background:linear-gradient(90deg,#80f5ff 0px,#00ebff 1px,#00ebff 13px,#00c8ff 23px,#00cdff 32px,#00afff 40px,#01fdfe 48px,#24ffdb 58px,#00f9ff 64px,#009cff 81px,#00a0ff 94px,#006aff 108px,#007dff 134px,#00a2ff 167px,#00caff 239px)"></i>
<i style="left:30px;top:612px;width:240px;height:2px;background:linear-gradient(90deg,#80f2ff 0px,#00e6ff 1px,#00ebff 13px,#00ceff 24px,#00d0ff 33px,#00bfff 40px,#01fefe 48px,#2affd5 58px,#00fdff 64px,#00d3ff 71px,#00a9ff 83px,#009bff 94px,#005eff 108px,#006cff 131px,#0099ff 166px,#00c5ff 239px)"></i>
<i style="left:30px;top:614px;width:240px;height:2px;background:linear-gradient(90deg,#80f1ff 0px,#00e3ff 1px,#00ebff 14px,#00d9ff 26px,#00cbff 40px,#01fffe 48px,#2dffd2 58px,#01fefe 64px,#00dbff 70px,#0092ff 95px,#0054ff 108px,#005cff 129px,#0091ff 165px,#00c0ff 239px)"></i>
<i style="left:30px;top:616px;width:240px;height:2px;background:linear-gradient(90deg,#80f0ff 0px,#00e1ff 1px,#00ecff 15px,#00d2ff 40px,#08fff7 49px,#2fffd0 58px,#00f8ff 65px,#00deff 70px,#00b4ff 86px,#0067ff 102px,#0049ff 109px,#004dff 128px,#0089ff 165px,#00bbff 239px)"></i>
<i style="left:30px;top:618px;width:240px;height:2px;background:linear-gradient(90deg,#80eeff 0px,#00dfff 1px,#00f0ff 18px,#00dcff 41px,#08fff7 49px,#32ffcd 58px,#00faff 65px,#00e0ff 70px,#00c3ff 83px,#0059ff 103px,#003fff 109px,#003eff 127px,#0081ff 165px,#00b6ff 239px)"></i>
<i style="left:30px;top:620px;width:240px;height:1px;background:linear-gradient(90deg,#bff6ff 0px,#80eeff 1px,#80f7ff 26px,#80f1ff 42px,#89fff6 51px,#99ffe6 58px,#80f9ff 66px,#80d8ff 87px,#809cff 110px,#809fff 131px,#80c2ff 175px,#80d9ff 239px)"></i>
<i style="left:488px;top:493px;width:10px;height:2px;background:linear-gradient(90deg,#cf0000 0px,#a90000 6px,#ab0000 9px)"></i>
<i style="left:481px;top:495px;width:30px;height:2px;background:linear-gradient(90deg,#ffa09f 0px,#fb4040 1px,#e14040 6px,#cf0000 7px,#a90000 13px,#ac0000 16px,#c14040 17px,#cb4040 28px,#e69f9f 29px)"></i>
<i style="left:475px;top:497px;width:48px;height:2px;background:linear-gradient(90deg,#ff9680 0px,#ff8580 5px,#fc0000 7px,#ab0000 19px,#ba0000 34px,#de8080 36px,#e78080 46px,#f3bfbf 47px)"></i>
<i style="left:468px;top:499px;width:67px;height:2px;background:linear-gradient(90deg,#ffd2bf 0px,#ffa480 1px,#ff9a80 6px,#ff2f00 7px,#fa0000 15px,#ae0000 26px,#bf0000 44px,#cf0000 53px,#e98080 55px,#f68080 65px,#fbbfbf 66px)"></i>
<i style="left:462px;top:501px;width:85px;height:2px;background:linear-gradient(90deg,#ffd7bf 0px,#ffd4bf 5px,#ff4b00 7px,#ff2000 16px,#fa0000 22px,#b20000 32px,#bc0000 48px,#ec0000 71px,#fcbfbf 73px,#ffc3bf 84px)"></i>
<i style="left:462px;top:503px;width:85px;height:2px;background:linear-gradient(90deg,#ff6100 0px,#ff3900 13px,#fa0000 23px,#b50000 32px,#ba0000 47px,#ff0400 80px,#ff0e00 84px)"></i>
<i style="left:455px;top:505px;width:104px;height:2px;background:linear-gradient(90deg,#ffb580 0px,#ff6a00 1px,#ff4a00 18px,#f80000 31px,#b90000 39px,#b70000 52px,#ff0500 86px,#ff2b00 103px)"></i>
<i style="left:449px;top:507px;width:122px;height:2px;background:linear-gradient(90deg,#ff7200 0px,#ff5800 20px,#ff4000 27px,#fe0100 37px,#bc0000 45px,#b80000 58px,#ff0500 91px,#ff3300 116px,#ff3700 121px)"></i>
<i style="left:442px;top:509px;width:142px;height:2px;background:linear-gradient(90deg,#ffce9f 0px,#ff9c40 1px,#ff9640 6px,#ff7300 7px,#ff5a00 29px,#ff3600 37px,#fd0100 45px,#c00000 52px,#b60000 64px,#fb0000 92px,#ff3400 125px,#ff3700 128px,#ff6a40 129px,#ff7040 140px,#ffb89f 141px)"></i>
<i style="left:435px;top:511px;width:161px;height:2px;background:linear-gradient(90deg,#ffe4bf 0px,#ffc880 1px,#ffc080 6px,#ff7b00 8px,#ff5c00 38px,#ff2400 50px,#f60000 54px,#c40000 59px,#b60000 71px,#f40000 93px,#ff0f00 107px,#ff3500 133px,#ff4100 147px,#ffa180 149px,#ffa580 159px,#ffd2bf 160px)"></i>
<i style="left:429px;top:513px;width:179px;height:2px;background:linear-gradient(90deg,#fff0bf 0px,#ffe6bf 5px,#ff9100 7px,#ff7400 19px,#ff6200 44px,#ff3700 56px,#f80000 61px,#cc0000 65px,#ba0000 77px,#f70000 98px,#ff2600 125px,#ff4b00 165px,#ffd3bf 167px,#ffd5bf 177px,#ffeadf 178px)"></i>
<i style="left:422px;top:515px;width:197px;height:2px;background:linear-gradient(90deg,#fff1df 0px,#ffe5bf 1px,#fff0bf 6px,#ffc400 7px,#ff8f00 15px,#ff7500 26px,#ff6500 53px,#ff4b00 63px,#fd0500 69px,#df0000 73px,#c70000 84px,#fe0000 106px,#ff3900 148px,#ff5500 184px,#ffd5bf 186px,#ffd7bf 196px)"></i>
<i style="left:422px;top:517px;width:197px;height:2px;background:linear-gradient(90deg,#ffc680 0px,#ff9800 1px,#ffb900 4px,#ffc700 7px,#ff9000 15px,#ff7500 25px,#ff6900 57px,#ff5f00 63px,#fe0600 71px,#d50000 84px,#ff0300 105px,#ff3b00 150px,#ff5f00 196px)"></i>
<i style="left:416px;top:519px;width:203px;height:2px;background:linear-gradient(90deg,#ff4700 0px,#ff5f00 3px,#ffb600 9px,#ffc900 13px,#ff9400 20px,#ff7600 31px,#ff7200 69px,#ff1600 78px,#f30000 85px,#e30000 90px,#ff0700 107px,#ff4300 165px,#ff5f00 202px)"></i>
<i style="left:409px;top:521px;width:210px;height:2px;background:linear-gradient(90deg,#ffb29f 0px,#ff6740 1px,#ff7340 6px,#ff4700 7px,#ff6000 10px,#ffbb00 16px,#ffcc00 20px,#ff9500 27px,#ff7600 38px,#ff8700 74px,#ff7d00 77px,#ff2900 86px,#fa0000 94px,#f40000 98px,#ff1200 116px,#ff6000 209px)"></i>
<i style="left:403px;top:523px;width:216px;height:2px;background:linear-gradient(90deg,#ff6640 0px,#ff6340 5px,#ff3500 7px,#ff5200 15px,#ffbf00 22px,#ffcf00 26px,#ff9600 33px,#ff7800 44px,#ff8b00 75px,#ff9400 82px,#ff2700 96px,#fe0300 102px,#ff2c00 145px,#ff6200 215px)"></i>
<i style="left:396px;top:525px;width:223px;height:2px;background:linear-gradient(90deg,#ffcebf 0px,#ff9c80 1px,#ff9880 6px,#ff3100 7px,#ff3200 14px,#ff5200 22px,#ffc400 29px,#ffd200 33px,#ff9800 40px,#ff7900 51px,#ff8d00 79px,#ffa100 89px,#ff1100 109px,#ff3000 151px,#ff6300 222px)"></i>
<i style="left:389px;top:527px;width:230px;height:2px;background:linear-gradient(90deg,#ffe8df 0px,#ffd1bf 1px,#ffcfbf 6px,#ff3a00 8px,#ff2900 20px,#ff5300 29px,#ffc900 36px,#ffd500 40px,#ff9900 47px,#ff7b00 58px,#ff8d00 82px,#ffaf00 96px,#ff5f00 108px,#ff2000 116px,#ff3600 166px,#ff6400 229px)"></i>
<i style="left:389px;top:529px;width:230px;height:2px;background:linear-gradient(90deg,#ffa480 0px,#ff4800 1px,#ff1f00 19px,#ff5300 29px,#ffcd00 36px,#ffd800 40px,#ff9b00 47px,#ff7d00 58px,#ff8d00 79px,#ffbd00 96px,#ff8600 106px,#ff2f00 116px,#ff4300 183px,#ff6600 229px)"></i>
<i style="left:388px;top:531px;width:231px;height:2px;background:linear-gradient(90deg,#ffa580 0px,#ff4900 1px,#ff1800 20px,#ff5300 30px,#ffd100 37px,#ffdc00 41px,#ff9d00 48px,#ff7e00 59px,#ff8d00 78px,#ffb400 91px,#ffca00 97px,#ffa600 106px,#ff4000 117px,#ff4b00 184px,#ff6800 230px)"></i>
<i style="left:388px;top:533px;width:231px;height:2px;background:linear-gradient(90deg,#ffa580 0px,#ff4900 1px,#ff1200 20px,#ff5400 30px,#ffd400 37px,#ffdf00 41px,#ffa000 48px,#ff8000 58px,#ff8e00 77px,#ffb900 90px,#ffd500 98px,#ffbb00 106px,#ff5100 117px,#ff5500 184px,#ff6c00 230px)"></i>
<i style="left:388px;top:535px;width:231px;height:2px;background:linear-gradient(90deg,#ffa580 0px,#ff4800 1px,#ff0b00 20px,#ff5b00 30px,#ffd700 37px,#ffe200 41px,#ffa400 48px,#ff8100 58px,#ff9100 77px,#ffd900 98px,#ffc500 106px,#ff6200 117px,#ff5a00 172px,#ff7d00 230px)"></i>
<i style="left:388px;top:537px;width:231px;height:2px;background:linear-gradient(90deg,#ffa580 0px,#ff4800 1px,#ff0500 20px,#ff6400 30px,#ffdb00 37px,#ffe600 41px,#ffa700 48px,#ff8300 58px,#ff9100 76px,#ffda00 98px,#ffcb00 106px,#ff7300 117px,#ff6500 147px,#ff6f00 183px,#ff9300 230px)"></i>
<i style="left:388px;top:539px;width:231px;height:2px;background:linear-gradient(90deg,#ffa580 0px,#ff4900 1px,#ff0300 20px,#ff6e00 30px,#ffde00 37px,#ffe900 41px,#ffaa00 48px,#ff8500 58px,#ff9300 76px,#ffda00 98px,#ffd100 106px,#ff8100 118px,#ff7100 144px,#ff7800 179px,#ffa800 230px)"></i>
<i style="left:388px;top:541px;width:231px;height:2px;background:linear-gradient(90deg,#ffa680 0px,#ff4b00 1px,#ff2200 14px,#ff0d00 20px,#ff8600 31px,#ffe200 37px,#ffec00 41px,#ffae00 48px,#ff8700 58px,#ff9500 76px,#ffda00 98px,#ffd500 106px,#ff9100 118px,#ff7d00 141px,#ff8500 178px,#ffbe00 230px)"></i>
<i style="left:388px;top:543px;width:231px;height:2px;background:linear-gradient(90deg,#ffad80 0px,#ff5800 1px,#ff2400 16px,#ff1800 20px,#ff8f00 31px,#ffe700 37px,#fff100 41px,#ffb100 49px,#ff8800 58px,#ff9a00 77px,#ffd000 101px,#ffcd00 107px,#ffa000 119px,#ff9100 143px,#ff9900 178px,#ffcf00 230px)"></i>
<i style="left:388px;top:545px;width:231px;height:2px;background:linear-gradient(90deg,#ffb680 0px,#ff6b00 1px,#ff2300 20px,#ff9900 31px,#ffec00 37px,#fff600 41px,#ff9000 56px,#ff9900 76px,#ffb400 89px,#ffc700 107px,#ffad00 124px,#ffab00 173px,#ffdf00 230px)"></i>
<i style="left:388px;top:547px;width:231px;height:2px;background:linear-gradient(90deg,#ffbe80 0px,#ff7b00 1px,#ff2e00 20px,#ffb100 32px,#fff100 37px,#fff700 42px,#ff9400 57px,#ffa300 78px,#ffaf00 88px,#ffa800 98px,#ffc000 108px,#ffc700 179px,#ffee00 230px)"></i>
<i style="left:388px;top:549px;width:231px;height:2px;background:linear-gradient(90deg,#ffc680 0px,#ff8a00 1px,#ff3900 20px,#ffe100 35px,#fffb00 38px,#fffd00 42px,#ffa000 57px,#ffae00 87px,#ff9300 97px,#ffc500 112px,#ffd200 124px,#ffe400 189px,#fefc01 230px)"></i>
<i style="left:388px;top:551px;width:231px;height:2px;background:linear-gradient(90deg,#ffcd80 0px,#ff9900 1px,#ff4600 20px,#fdfe02 37px,#f7ff08 42px,#ffe400 48px,#ffac00 58px,#ffad00 86px,#ff8300 97px,#ffe000 118px,#f6ff09 227px,#f5ff0a 230px)"></i>
<i style="left:388px;top:553px;width:231px;height:2px;background:linear-gradient(90deg,#ffd580 0px,#ffa800 1px,#ff5400 20px,#faff05 36px,#e7ff18 41px,#fff900 47px,#ffb800 58px,#ffb100 80px,#ff9e00 88px,#ff7400 97px,#ffbe00 110px,#ffef00 118px,#f2ff0d 204px,#eaff15 230px)"></i>
<i style="left:388px;top:555px;width:231px;height:2px;background:linear-gradient(90deg,#ffdc80 0px,#ffb700 1px,#ff6200 20px,#f9ff06 35px,#e1ff1e 38px,#ddff22 42px,#fefb01 49px,#ffc700 58px,#ffc000 76px,#ff9600 88px,#ff6500 97px,#ffa000 107px,#fefb01 117px,#e0ff1f 230px)"></i>
<i style="left:388px;top:557px;width:231px;height:2px;background:linear-gradient(90deg,#ffe480 0px,#ffc600 1px,#ff8000 16px,#ff7000 20px,#fffa00 33px,#d4ff2b 38px,#d0ff2f 42px,#fff800 52px,#ffd800 58px,#ffd000 75px,#ff8900 89px,#ff5800 97px,#ff8d00 106px,#fcfe03 116px,#f1ff0e 122px,#d6ff29 230px)"></i>
<i style="left:388px;top:559px;width:231px;height:2px;background:linear-gradient(90deg,#ffeb80 0px,#ffd500 1px,#ff9500 15px,#ff7e00 20px,#fefb01 32px,#c6ff39 38px,#c1ff3e 42px,#fefb01 54px,#ffe900 59px,#ffde00 75px,#ff8100 91px,#ff5b00 97px,#ff9700 106px,#fcfe03 115px,#e7ff18 118px,#cfff30 203px,#ccff33 230px)"></i>
<i style="left:388px;top:561px;width:231px;height:2px;background:linear-gradient(90deg,#fff380 0px,#ffe400 1px,#ffa500 15px,#ff8f00 20px,#fefc01 31px,#baff45 37px,#afff50 42px,#fefb01 57px,#ffed00 75px,#ff8c00 92px,#ff6f00 97px,#ffc800 108px,#f8ff07 114px,#dbff24 118px,#c3ff3c 192px,#c2ff3d 230px)"></i>
<i style="left:388px;top:563px;width:231px;height:2px;background:linear-gradient(90deg,#fff980 0px,#fff000 1px,#ffb700 15px,#ffa200 20px,#fefc01 30px,#aaff55 37px,#9eff61 42px,#f3ff0c 58px,#fff800 76px,#ff8400 97px,#f9fe06 112px,#cfff30 118px,#b8ff47 190px,#b8ff47 230px)"></i>
<i style="left:388px;top:565px;width:231px;height:2px;background:linear-gradient(90deg,#fffe80 0px,#fffb00 1px,#ffc300 16px,#ffb500 20px,#fdfd02 29px,#9bff64 37px,#8dff72 42px,#e4ff1b 58px,#efff10 75px,#ffef00 82px,#ffa400 97px,#fafd05 109px,#c3ff3c 118px,#aeff51 192px,#aeff51 230px)"></i>
<i style="left:388px;top:567px;width:231px;height:2px;background:linear-gradient(90deg,#fbff83 0px,#f9ff06 1px,#ffdc00 14px,#ffc900 20px,#faff05 28px,#c0ff3f 33px,#8bff74 37px,#78ff87 41px,#d5ff2a 58px,#e0ff1f 76px,#fef601 87px,#ffd100 97px,#f9fd06 105px,#b6ff49 118px,#a4ff5b 198px,#a4ff5b 230px)"></i>
<i style="left:388px;top:569px;width:231px;height:2px;background:linear-gradient(90deg,#f6ff88 0px,#efff10 1px,#fff500 11px,#ffdc00 20px,#fbff04 26px,#d0ff2f 31px,#7cff83 37px,#69ff96 41px,#c6ff39 58px,#cfff30 77px,#faf905 97px,#c3ff3c 111px,#a7ff58 118px,#9aff65 216px,#9aff65 230px)"></i>
<i style="left:388px;top:571px;width:231px;height:2px;background:linear-gradient(90deg,#f1ff8d 0px,#e5ff1a 1px,#fff700 15px,#ffed00 20px,#f4ff0b 25px,#d3ff2c 30px,#6eff91 37px,#5dffa2 41px,#b7ff48 58px,#c3ff3c 80px,#d9ff26 98px,#98ff67 118px,#90ff6f 230px)"></i>
<i style="left:388px;top:573px;width:231px;height:2px;background:linear-gradient(90deg,#edff91 0px,#ddff22 1px,#fffb00 20px,#c8ff37 30px,#60ff9f 37px,#51ffae 41px,#a8ff57 58px,#bfff40 98px,#8aff75 118px,#86ff79 230px)"></i>
<i style="left:388px;top:575px;width:231px;height:2px;background:linear-gradient(90deg,#e9ff95 0px,#d4ff2b 1px,#f5ff0a 20px,#beff41 30px,#53ffac 37px,#45ffba 41px,#9cff63 58px,#a9ff56 97px,#7fff80 115px,#7dff82 230px)"></i>
<i style="left:388px;top:577px;width:231px;height:2px;background:linear-gradient(90deg,#e5ff99 0px,#ccff33 1px,#e7ff18 20px,#b4ff4b 30px,#45ffba 37px,#39ffc6 41px,#80ff7f 53px,#94ff6b 59px,#96ff69 90px,#70ff8f 120px,#71ff8e 160px,#76ff89 230px)"></i>
<i style="left:388px;top:579px;width:231px;height:2px;background:linear-gradient(90deg,#e1ff9d 0px,#c4ff3b 1px,#d6ff29 21px,#aaff55 30px,#3affc5 37px,#2fffd0 41px,#6fff90 51px,#8cff73 59px,#8bff74 82px,#64ff9b 120px,#67ff98 154px,#6fff90 230px)"></i>
<i style="left:388px;top:581px;width:231px;height:2px;background:linear-gradient(90deg,#ddffa1 0px,#bcff43 1px,#caff35 21px,#9fff60 30px,#33ffcc 37px,#2affd5 41px,#68ff97 51px,#83ff7c 59px,#81ff7e 79px,#57ffa8 116px,#5cffa3 148px,#5cffa3 191px,#69ff96 230px)"></i>
<i style="left:388px;top:583px;width:231px;height:2px;background:linear-gradient(90deg,#d9ffa5 0px,#b4ff4b 1px,#bfff40 21px,#93ff6c 30px,#2cffd3 37px,#29ffd6 42px,#5cffa3 50px,#7bff84 59px,#76ff89 78px,#4bffb4 111px,#51ffae 149px,#51ffae 187px,#62ff9d 230px)"></i>
<i style="left:388px;top:585px;width:231px;height:2px;background:linear-gradient(90deg,#d5ffa9 0px,#abff54 1px,#b5ff4a 21px,#86ff79 30px,#25ffda 37px,#24ffdb 42px,#55ffaa 50px,#72ff8d 59px,#6cff93 78px,#3cffc3 108px,#48ffb7 145px,#49ffb6 186px,#5bffa4 230px)"></i>
<i style="left:388px;top:587px;width:231px;height:2px;background:linear-gradient(90deg,#d1ffad 0px,#a3ff5c 1px,#afff50 20px,#79ff86 30px,#1fffe0 37px,#1fffe0 42px,#4fffb0 50px,#6bff94 59px,#64ff9b 77px,#2cffd3 106px,#3fffc0 143px,#41ffbe 185px,#56ffa9 230px)"></i>
<i style="left:388px;top:589px;width:231px;height:2px;background:linear-gradient(90deg,#cdffb2 0px,#9bff64 1px,#a5ff5a 20px,#6cff93 30px,#18ffe7 37px,#1affe5 42px,#4dffb2 50px,#68ff97 59px,#5dffa2 77px,#20ffdf 103px,#35ffca 143px,#39ffc6 183px,#54ffab 230px)"></i>
<i style="left:388px;top:591px;width:231px;height:2px;background:linear-gradient(90deg,#c9ffb5 0px,#93ff6c 1px,#9aff65 20px,#5fffa0 30px,#11ffee 37px,#16ffe9 42px,#47ffb8 49px,#66ff99 58px,#5affa5 76px,#15ffea 100px,#13ffec 110px,#2cffd3 140px,#31ffce 181px,#53ffac 230px)"></i>
<i style="left:388px;top:593px;width:231px;height:2px;background:linear-gradient(90deg,#c6ffb9 0px,#8cff73 1px,#8cff73 20px,#47ffb8 31px,#08fff7 37px,#11ffee 42px,#45ffba 49px,#64ff9b 58px,#54ffab 76px,#07fff8 100px,#07fff8 111px,#22ffdd 140px,#29ffd6 180px,#52ffad 230px)"></i>
<i style="left:388px;top:595px;width:231px;height:2px;background:linear-gradient(90deg,#c2ffbc 0px,#85ff7a 1px,#7eff81 20px,#2cffd3 32px,#01fefe 37px,#0cfff3 42px,#3effc1 48px,#62ff9d 58px,#4effb1 76px,#02fefd 97px,#00f1ff 107px,#0dfff2 124px,#19ffe6 145px,#22ffdd 180px,#52ffad 230px)"></i>
<i style="left:388px;top:597px;width:231px;height:2px;background:linear-gradient(90deg,#bfffc0 0px,#7eff81 1px,#70ff8f 20px,#00fbff 36px,#08fff7 42px,#3cffc3 48px,#60ff9f 58px,#4dffb2 75px,#05fffa 92px,#00e3ff 107px,#05fffa 127px,#12ffed 153px,#21ffde 183px,#51ffae 230px)"></i>
<i style="left:388px;top:599px;width:231px;height:2px;background:linear-gradient(90deg,#bcffc3 0px,#78ff87 1px,#62ff9d 20px,#01fcfe 34px,#00efff 38px,#03fffc 42px,#3affc5 48px,#5effa1 58px,#47ffb8 75px,#02fefd 90px,#00d3ff 106px,#05fffa 135px,#1dffe2 182px,#50ffaf 230px)"></i>
<i style="left:388px;top:601px;width:231px;height:2px;background:linear-gradient(90deg,#b8ffc6 0px,#71ff8e 1px,#59ffa6 19px,#02fdfd 31px,#00e5ff 37px,#01fdfe 42px,#38ffc7 48px,#5bffa4 58px,#42ffbd 75px,#00fdff 89px,#00ccff 104px,#00fdff 141px,#1bffe4 183px,#4fffb0 230px)"></i>
<i style="left:388px;top:603px;width:231px;height:2px;background:linear-gradient(90deg,#b5ffc9 0px,#6bff94 1px,#57ffa8 15px,#40ffbf 21px,#00f9ff 29px,#00dcff 37px,#05fffa 43px,#36ffc9 48px,#59ffa6 58px,#39ffc6 76px,#00fcff 88px,#00ccff 100px,#00c3ff 108px,#00f5ff 141px,#0efff1 175px,#4effb1 230px)"></i>
<i style="left:388px;top:605px;width:231px;height:2px;background:linear-gradient(90deg,#b2ffcd 0px,#64ff9b 1px,#54ffab 13px,#34ffcb 21px,#01fdfe 27px,#00e0ff 32px,#00d5ff 37px,#02fefd 43px,#34ffcb 48px,#57ffa8 58px,#34ffcb 76px,#00f9ff 88px,#00c6ff 100px,#00baff 108px,#00d5ff 126px,#00efff 145px,#09fff6 174px,#4effb1 230px)"></i>
<i style="left:388px;top:607px;width:231px;height:2px;background:linear-gradient(90deg,#afffd0 0px,#5effa1 1px,#4fffb0 12px,#29ffd6 21px,#01fcfe 26px,#00daff 31px,#00d5ff 38px,#01fdfe 43px,#33ffcc 48px,#55ffaa 58px,#30ffcf 76px,#00fbff 87px,#00baff 102px,#00b2ff 110px,#00c6ff 124px,#00e5ff 142px,#07fff8 175px,#4dffb2 230px)"></i>
<i style="left:388px;top:609px;width:231px;height:2px;background:linear-gradient(90deg,#acffd2 0px,#59ffa6 1px,#49ffb6 12px,#1dffe2 21px,#00faff 25px,#00d1ff 31px,#00cfff 37px,#03fefc 43px,#32ffcd 48px,#52ffad 58px,#2cffd3 76px,#00fdff 86px,#00adff 104px,#00b7ff 119px,#00e1ff 141px,#07fff8 177px,#4cffb3 230px)"></i>
<i style="left:388px;top:611px;width:231px;height:2px;background:linear-gradient(90deg,#a9ffd5 0px,#53ffac 1px,#47ffb8 11px,#0bfff4 22px,#00e9ff 26px,#00cbff 31px,#00cdff 37px,#01fdfe 42px,#32ffcd 48px,#4effb1 58px,#29ffd6 76px,#00faff 86px,#00a3ff 105px,#00e1ff 143px,#06fff9 178px,#4cffb3 230px)"></i>
<i style="left:388px;top:613px;width:231px;height:2px;background:linear-gradient(90deg,#a6ffd8 0px,#4dffb2 1px,#43ffbc 11px,#00fbff 24px,#00d2ff 31px,#00ceff 37px,#05fffa 42px,#31ffce 48px,#4bffb4 58px,#25ffda 76px,#00fbff 85px,#00b1ff 101px,#00a5ff 107px,#00dfff 143px,#06fff9 180px,#4bffb4 230px)"></i>
<i style="left:388px;top:615px;width:231px;height:2px;background:linear-gradient(90deg,#a4ffda 0px,#49ffb6 1px,#3affc5 12px,#00fcff 25px,#00dfff 32px,#00dbff 37px,#04fffb 41px,#34ffcb 49px,#48ffb7 58px,#22ffdd 76px,#00f8ff 85px,#00b6ff 99px,#00aaff 108px,#00e0ff 146px,#06fff9 182px,#4affb5 230px)"></i>
<i style="left:388px;top:617px;width:231px;height:2px;background:linear-gradient(90deg,#a2ffdc 0px,#45ffba 1px,#36ffc9 12px,#00f8ff 28px,#00eeff 37px,#0dfff2 41px,#35ffca 50px,#43ffbc 59px,#1fffe0 76px,#00faff 84px,#00b6ff 98px,#00b0ff 112px,#00deff 147px,#07fff8 184px,#49ffb6 230px)"></i>
<i style="left:388px;top:619px;width:231px;height:2px;background:linear-gradient(90deg,#b9ffe6 0px,#72ffcd 1px,#5cffe3 16px,#40fdff 33px,#4bfff4 40px,#6fffcf 55px,#52ffed 77px,#40f6ff 85px,#40c6ff 98px,#40cdff 122px,#40eeff 161px,#48fff7 188px,#76ffc8 230px)"></i>
<i style="left:129px;top:722px;width:11px;height:2px;background:linear-gradient(90deg,#d7ffa7 0px,#a1ff5e 1px,#87ff78 3px,#b7ff48 7px,#f7fe08 9px,#fff580 10px)"></i>
<i style="left:123px;top:724px;width:29px;height:2px;background:linear-gradient(90deg,#ffd940 0px,#fff940 2px,#d6ff69 5px,#a1ff5e 7px,#87ff78 9px,#b7ff48 13px,#f7fe08 15px,#ffd040 17px,#fe4140 26px,#fe4040 27px,#ff9f9f 28px)"></i>
<i style="left:116px;top:726px;width:48px;height:2px;background:linear-gradient(90deg,#ffdcbf 0px,#ffbd80 1px,#ffdc80 6px,#ffcc00 7px,#fff600 9px,#caff35 12px,#93ff6c 15px,#8bff74 16px,#bbff44 20px,#f9fc06 22px,#ffa100 25px,#ff0f00 32px,#fe0100 33px,#fd0000 34px,#ff8180 36px,#ff9380 46px,#ffcabf 47px)"></i>
<i style="left:109px;top:728px;width:67px;height:2px;background:linear-gradient(90deg,#ffe5df 0px,#ffccbf 1px,#ffd9bf 6px,#ff7c00 8px,#ffb800 13px,#fff400 16px,#e2ff1d 18px,#9dff62 22px,#96ff69 23px,#c8ff37 27px,#e8ff17 28px,#ffee00 29px,#ffa000 31px,#ff6100 34px,#fe0000 40px,#ff1f00 52px,#ff2600 53px,#ffcdbf 55px,#ffe2bf 66px)"></i>
<i style="left:103px;top:730px;width:85px;height:2px;background:linear-gradient(90deg,#fbbfbf 0px,#ffc8bf 5px,#ff3500 7px,#ffab00 18px,#f9ff06 23px,#a8ff57 28px,#a2ff5d 29px,#c2ff3d 32px,#d6ff29 33px,#f8fb07 34px,#ff7b00 37px,#ff5f00 38px,#fc0200 45px,#f90000 48px,#ff1f00 58px,#ff8b00 72px,#ffe4bf 73px,#ffffc0 84px)"></i>
<i style="left:103px;top:732px;width:85px;height:2px;background:linear-gradient(90deg,#f10000 0px,#ff0e00 3px,#ff8900 15px,#ffcc00 20px,#fbfe04 23px,#b3ff4c 28px,#aeff51 29px,#cfff30 32px,#e4ff1b 33px,#feef01 34px,#ff5500 37px,#ff3800 38px,#fc0300 43px,#e30000 46px,#ff0900 56px,#ffb800 77px,#fefe01 84px)"></i>
<i style="left:96px;top:734px;width:104px;height:2px;background:linear-gradient(90deg,#e08080 0px,#c70000 1px,#ff0500 9px,#ff8b00 22px,#ffde00 28px,#fdfd02 30px,#bdff42 35px,#c1ff3e 37px,#d9ff26 39px,#efff10 40px,#ffe100 41px,#ff3900 44px,#ff1b00 45px,#fb0100 48px,#d00000 53px,#fd0500 66px,#fffc00 91px,#b2ff4d 99px,#a3ff5c 103px)"></i>
<i style="left:90px;top:736px;width:123px;height:2px;background:linear-gradient(90deg,#b64040 0px,#c94040 5px,#c70000 7px,#ff0600 15px,#ffa600 30px,#fffb00 36px,#c3ff3c 41px,#c7ff38 43px,#ddff22 45px,#f2ff0d 46px,#ffdf00 47px,#ff3900 50px,#ff1a00 51px,#fe0100 53px,#bd0000 59px,#dd0000 71px,#fe0700 75px,#ffaa00 91px,#fefc01 98px,#b2ff4d 105px,#a3ff5c 109px,#b7ff88 110px,#98ffa7 121px,#caffd4 122px)"></i>
<i style="left:83px;top:738px;width:142px;height:2px;background:linear-gradient(90deg,#db9f9f 0px,#b64040 1px,#b64040 6px,#9e0000 7px,#af0000 11px,#fc0000 21px,#ff9c00 36px,#fff900 43px,#c5ff3a 49px,#e0ff1f 52px,#f4ff0b 53px,#ffdf00 54px,#ff3d00 57px,#ff1d00 58px,#fd0100 60px,#b00000 66px,#ca0000 78px,#fe0400 84px,#ff7b00 96px,#fbff04 106px,#aeff51 112px,#75ff8a 128px,#91ffae 130px,#6dffd2 140px,#b5ffea 141px)"></i>
<i style="left:77px;top:740px;width:160px;height:2px;background:linear-gradient(90deg,#cf8080 0px,#cf8080 5px,#9e0000 7px,#a10000 15px,#fd0000 27px,#ffb700 44px,#fbff04 50px,#cbff34 55px,#e3ff1c 58px,#f6ff09 59px,#ffde00 60px,#ff4100 63px,#ff2200 64px,#ff0400 66px,#b30000 72px,#d10000 84px,#fe0300 90px,#ff5f00 101px,#faff05 112px,#a7ff58 118px,#62ff9d 138px,#3cffc3 146px,#99ffe6 148px,#97ffe7 158px,#ccfff2 159px)"></i>
<i style="left:70px;top:742px;width:179px;height:2px;background:linear-gradient(90deg,#f9dfdf 0px,#f0bfbf 1px,#e7bfbf 6px,#9e0000 7px,#a20000 22px,#fd0100 34px,#ffd000 53px,#fdfe02 57px,#d1ff2e 62px,#e6ff19 65px,#f8ff07 66px,#ffde00 67px,#ff4500 70px,#ff2700 71px,#fa0000 74px,#ba0000 79px,#de0000 91px,#fd0400 95px,#ff7700 108px,#fafe05 118px,#9fff60 125px,#37ffc8 154px,#2effd1 163px,#30ffcf 165px,#cdfff1 167px,#dcffe2 175px,#ebffd3 178px)"></i>
<i style="left:70px;top:744px;width:179px;height:2px;background:linear-gradient(90deg,#e88080 0px,#c30000 1px,#a90000 4px,#9e0000 11px,#a30000 22px,#f40000 33px,#ff0c00 35px,#fdfe02 57px,#d6ff29 62px,#e9ff16 65px,#f9fe06 66px,#ffdd00 67px,#ff4900 70px,#ff2c00 71px,#fe0400 74px,#c60000 79px,#f10000 91px,#ff1800 95px,#ffb000 110px,#fefa01 116px,#97ff68 125px,#2dffd2 157px,#37ffc8 167px,#4fffb0 173px,#afff50 178px)"></i>
<i style="left:64px;top:746px;width:197px;height:2px;background:linear-gradient(90deg,#ff1100 0px,#f80000 4px,#b50000 8px,#9f0000 14px,#a40000 28px,#f40000 39px,#ff0d00 41px,#fbff04 63px,#dcff23 68px,#ecff13 71px,#fafe05 72px,#ffdd00 73px,#ff5000 76px,#ff3600 77px,#fc0500 82px,#e70000 85px,#fe0f00 95px,#ff8800 109px,#f9fe06 121px,#8fff70 131px,#3dffc2 154px,#28ffd7 164px,#3affc5 174px,#4fffb0 179px,#fcff03 188px,#ffba00 195px,#ffd980 196px)"></i>
<i style="left:57px;top:748px;width:204px;height:2px;background:linear-gradient(90deg,#ff1a00 0px,#ff0e00 8px,#f80000 11px,#b60000 15px,#a00000 21px,#a50000 35px,#f50000 46px,#ff0f00 48px,#fffb00 69px,#e1ff1e 75px,#fbfd04 79px,#ffe000 80px,#ff6200 83px,#ff4b00 84px,#ff0f00 92px,#ff5000 105px,#f8fe07 126px,#87ff78 138px,#3cffc3 157px,#21ffde 171px,#3cffc3 183px,#4affb5 186px,#f9ff06 195px,#ffba00 202px,#ffd980 203px)"></i>
<i style="left:50px;top:750px;width:211px;height:2px;background:linear-gradient(90deg,#ffa99f 0px,#ff5340 1px,#ff5440 6px,#ff1c00 7px,#ff2600 12px,#f90000 18px,#b80000 22px,#a10000 28px,#a60000 42px,#e90000 52px,#ff0400 54px,#ffc800 71px,#fefd01 76px,#e6ff19 81px,#f2ff0d 85px,#fcfd03 86px,#ffbf00 88px,#ff7600 90px,#ff5b00 92px,#ff3600 99px,#ff8200 113px,#fafd05 130px,#78ff87 146px,#32ffcd 163px,#18ffe7 177px,#3cffc3 193px,#deff21 202px,#fbf904 205px,#ffcf00 209px,#ffe380 210px)"></i>
<i style="left:44px;top:752px;width:217px;height:2px;background:linear-gradient(90deg,#ff8c80 0px,#ff8d80 5px,#ff1e00 7px,#ff4e00 17px,#fa0000 24px,#b90000 28px,#a20000 34px,#a40000 47px,#e90000 58px,#ff0500 60px,#ffa400 73px,#fdff02 82px,#e3ff1c 87px,#f2ff0d 91px,#fcfe03 92px,#ffc800 94px,#ff8b00 96px,#ff7400 98px,#ff5500 105px,#ffa100 119px,#fbfc04 132px,#64ff9b 152px,#22ffdd 170px,#12ffed 184px,#2dffd2 199px,#c0ff3f 209px,#faf805 215px,#fef980 216px)"></i>
<i style="left:37px;top:754px;width:224px;height:2px;background:linear-gradient(90deg,#ffe2df 0px,#ffc6bf 1px,#ffc6bf 6px,#ff1b00 7px,#ff3a00 13px,#ff7a00 20px,#ff7b00 24px,#ff0d00 30px,#fb0000 31px,#ba0000 35px,#a30000 42px,#a50000 54px,#ea0000 65px,#ff0600 67px,#ffa100 79px,#faff05 89px,#ddff22 94px,#f1ff0e 98px,#fcfe03 99px,#ff9f00 103px,#ff8900 106px,#ff7300 112px,#ffbd00 126px,#fbfc04 135px,#4bffb4 159px,#0bfff4 176px,#07fff8 190px,#19ffe6 203px,#25ffda 207px,#b1ff4e 219px,#d0ff2f 222px,#ebff94 223px)"></i>
<i style="left:31px;top:756px;width:230px;height:2px;background:linear-gradient(90deg,#ffcabf 0px,#ffc7bf 5px,#ff1c00 7px,#ff2c00 11px,#ff5200 15px,#ffa000 20px,#ffc200 26px,#ffa600 30px,#ff2400 35px,#fb0100 37px,#bb0000 41px,#a40000 48px,#a40000 59px,#d50000 68px,#f90000 72px,#ffa900 85px,#fefd01 94px,#d8ff27 100px,#ebff14 104px,#fff600 106px,#ffb500 109px,#ff9e00 113px,#ff9300 119px,#ffd800 132px,#f8fe07 138px,#31ffce 165px,#01f8fe 177px,#00e4ff 188px,#03fafc 209px,#08fdf7 213px,#8dff72 228px,#c9ffb6 229px)"></i>
<i style="left:31px;top:758px;width:230px;height:2px;background:linear-gradient(90deg,#ff2a00 0px,#ff2100 3px,#ff6400 10px,#ffc200 16px,#f6f009 19px,#eafc15 25px,#ffea00 28px,#ffc800 30px,#ff4400 34px,#fc0200 37px,#bd0000 41px,#a40000 48px,#a30000 58px,#c20000 65px,#ee0000 71px,#ff0d00 73px,#ffb000 85px,#fcff03 94px,#d2ff2d 100px,#e3ff1c 104px,#fbfe04 106px,#ffc000 110px,#ffad00 118px,#fff700 133px,#d2ff2d 141px,#16ffe9 166px,#00f8ff 172px,#00ceff 183px,#00ccff 190px,#00e2ff 213px,#10fdef 220px,#43ffbc 228px,#a3ffdb 229px)"></i>
<i style="left:29px;top:760px;width:232px;height:2px;background:linear-gradient(90deg,#ff9c80 0px,#ff3900 1px,#ff3b00 4px,#fedd01 14px,#edf912 17px,#acff53 21px,#9cff63 27px,#c5ff3a 29px,#f8fb07 31px,#ffe500 32px,#ff5000 36px,#fc0300 39px,#be0000 43px,#a50000 50px,#a40000 60px,#c40000 67px,#fd0200 74px,#ffae00 86px,#fefd01 95px,#ccff33 102px,#dbff24 106px,#fff900 109px,#ffce00 112px,#ffc600 121px,#f8ff07 135px,#8cff73 152px,#15ffea 168px,#00f6ff 174px,#00beff 188px,#00c5ff 216px,#06f6f9 230px,#83fbfb 231px)"></i>
<i style="left:29px;top:762px;width:232px;height:2px;background:linear-gradient(90deg,#ffad80 0px,#ff6100 1px,#ff9000 5px,#fbf004 10px,#dcff23 13px,#8fff70 18px,#59ffa6 21px,#4cffb3 27px,#61ff9e 28px,#f8fb07 32px,#ff5c00 36px,#fd0400 39px,#bf0000 43px,#a60000 50px,#a20000 59px,#ba0000 65px,#ff0400 74px,#ffb500 86px,#faff05 95px,#caff35 101px,#c8ff37 104px,#dbff24 107px,#fbfe04 109px,#ffd900 112px,#ffdd00 122px,#f7ff08 133px,#7bff84 154px,#15ffea 170px,#00f6ff 176px,#00d8ff 185px,#00c1ff 201px,#00ccff 223px,#00deff 230px,#80efff 231px)"></i>
<i style="left:29px;top:764px;width:232px;height:2px;background:linear-gradient(90deg,#ffc880 0px,#ff9a00 1px,#faf405 7px,#c0ff3f 11px,#2fffd0 19px,#0ffaf0 21px,#0bf9f4 27px,#20ffdf 28px,#e0ff1f 32px,#feee01 33px,#ff6800 36px,#fd0500 39px,#c10000 43px,#a60000 51px,#a30000 59px,#bc0000 65px,#f70000 73px,#ff1800 75px,#ffbb00 86px,#fefe01 94px,#c8ff37 100px,#c1ff3e 104px,#d3ff2c 107px,#fffa00 110px,#ffe400 112px,#fff600 124px,#eaff15 133px,#5dffa2 159px,#00fbff 177px,#00eaff 184px,#00d5ff 202px,#00d4ff 230px,#80eaff 231px)"></i>
<i style="left:29px;top:766px;width:232px;height:2px;background:linear-gradient(90deg,#ffdd80 0px,#ffc500 1px,#f9fd06 5px,#4effb1 14px,#12fced 17px,#00ceff 20px,#00b7ff 22px,#00c2ff 27px,#01e0fe 28px,#18fde7 29px,#f1fd0e 33px,#ffd700 34px,#ff7400 36px,#fe0600 39px,#c20000 43px,#a60000 51px,#a30000 59px,#be0000 65px,#f90000 73px,#ffc100 86px,#fbff04 94px,#c5ff3a 99px,#b6ff49 103px,#caff35 107px,#fafe05 110px,#fff000 113px,#f2ff0d 126px,#bdff42 140px,#11ffee 177px,#02fbfd 188px,#00e9ff 202px,#00e2ff 217px,#00cbff 230px,#80e4ff 231px)"></i>
<i style="left:29px;top:768px;width:232px;height:2px;background:linear-gradient(90deg,#ffee80 0px,#ffe400 1px,#f4ff0b 4px,#43ffbc 12px,#11fdee 14px,#00dbff 16px,#0072ff 21px,#0078ff 26px,#0080ff 27px,#00a4ff 28px,#00ddff 29px,#1dfee2 30px,#d3ff2c 33px,#fdee02 34px,#ff8100 36px,#ff0700 39px,#c30000 43px,#a70000 51px,#a40000 59px,#c00000 65px,#fc0000 73px,#ffbc00 85px,#fffc00 93px,#b4ff4b 100px,#a6ff59 103px,#c1ff3e 107px,#fefd01 111px,#d8ff27 131px,#84ff7b 155px,#21ffde 181px,#01fbfe 200px,#00f4ff 216px,#00c1ff 230px,#80dfff 231px)"></i>
<i style="left:29px;top:770px;width:232px;height:2px;background:linear-gradient(90deg,#fff880 0px,#fff800 1px,#ddff22 4px,#38ffc7 11px,#18ffe7 12px,#02f3fd 13px,#0092ff 16px,#0039ff 21px,#0044ff 26px,#004eff 27px,#0073ff 28px,#03edfc 30px,#31ffce 31px,#f2fb0d 34px,#ffc700 35px,#ff5e00 37px,#ff0a00 39px,#e00000 41px,#be0000 44px,#a10000 55px,#ad0000 62px,#fd0200 73px,#ffb300 84px,#ffdc00 88px,#fdfe02 93px,#92ff6d 102px,#96ff69 104px,#c6ff39 108px,#f6ff09 111px,#f4ff0b 115px,#abff54 151px,#37ffc8 184px,#0bfff4 200px,#00fdff 215px,#00b9ff 230px,#80daff 231px)"></i>
<i style="left:29px;top:772px;width:232px;height:2px;background:linear-gradient(90deg,#fffd80 0px,#faff05 1px,#b9ff46 5px,#1dffe2 11px,#02f2fd 12px,#004dff 16px,#0029ff 18px,#000dfe 21px,#001bff 26px,#0026ff 27px,#004cff 28px,#00caff 30px,#0ffcf0 31px,#96ff69 33px,#e0ff1f 34px,#ffd500 35px,#ff9600 36px,#ff0d00 39px,#f30000 40px,#c60000 43px,#a60000 52px,#a40000 59px,#bc0000 64px,#fb0000 72px,#ff1700 74px,#ff8c00 81px,#ffd300 86px,#faff05 93px,#7cff83 102px,#78ff87 103px,#b9ff46 108px,#ecff13 111px,#eeff11 115px,#c6ff39 149px,#35ffca 192px,#0cfff3 203px,#00f9ff 215px,#00b1ff 230px,#80d6ff 231px)"></i>
<i style="left:29px;top:774px;width:232px;height:2px;background:linear-gradient(90deg,#fcff82 0px,#f1ff0e 1px,#aeff51 5px,#08fcf7 11px,#00a7ff 13px,#001aff 16px,#0006fb 17px,#0000e1 22px,#0004fa 27px,#0029ff 28px,#07f4f8 31px,#44ffbb 32px,#d9ff26 34px,#ffdb00 35px,#ff9b00 36px,#ff1000 39px,#f50000 40px,#c80000 43px,#a70000 52px,#a50000 59px,#be0000 64px,#ff0500 72px,#ffce00 85px,#fefe01 92px,#d3ff2c 95px,#71ff8e 101px,#60ff9f 103px,#a9ff56 108px,#e1ff1e 111px,#e8ff17 115px,#e3ff1c 141px,#cbff34 155px,#60ff9f 188px,#14ffeb 202px,#00ffff 210px,#00efff 216px,#00adff 229px,#00a9ff 230px,#80d2ff 231px)"></i>
<i style="left:29px;top:776px;width:232px;height:2px;background:linear-gradient(90deg,#fdff81 0px,#f1ff0e 1px,#a5ff5a 5px,#04f8fb 11px,#0060ff 14px,#002aff 15px,#0003f6 16px,#0000e1 17px,#0000cb 21px,#0000e3 26px,#0000f0 27px,#001fff 28px,#00b5ff 30px,#0cf7f3 31px,#deff21 34px,#ffdb00 35px,#ff6c00 37px,#ff1200 39px,#f70000 40px,#c90000 43px,#a70000 52px,#a60000 59px,#bf0000 64px,#ff0400 71px,#ff2a00 74px,#ffa900 82px,#ffdf00 86px,#fcff03 92px,#deff21 94px,#68ff97 100px,#49ffb6 102px,#45ffba 103px,#9bff64 108px,#dbff24 111px,#e6ff19 114px,#f3ff0c 139px,#e5ff1a 153px,#94ff6b 181px,#5bffa4 192px,#05fffa 206px,#00f0ff 215px,#00adff 227px,#00a1ff 230px,#80cfff 231px)"></i>
<i style="left:29px;top:778px;width:232px;height:2px;background:linear-gradient(90deg,#fffa80 0px,#fbfe04 1px,#8fff70 6px,#2affd5 10px,#09fcf6 11px,#00d1ff 12px,#0024ff 15px,#0000f0 16px,#0000d8 17px,#0000ca 21px,#0000e9 26px,#0000f7 27px,#0028ff 28px,#00c2ff 30px,#14feeb 31px,#a6ff59 33px,#e5ff1a 34px,#ffdb00 35px,#ff3f00 38px,#ff1500 39px,#fa0000 40px,#ca0000 43px,#a90000 51px,#a30000 58px,#c10000 64px,#fe0200 70px,#ff3400 74px,#ffbf00 83px,#ffec00 87px,#f8ff07 92px,#d8ff27 94px,#50ffaf 100px,#2cffd3 102px,#27ffd8 103px,#8eff71 108px,#d9ff26 111px,#e8ff17 113px,#fefa01 135px,#f6ff09 154px,#b0ff4f 181px,#54ffab 195px,#05fffa 206px,#00ebff 215px,#00a9ff 226px,#0099ff 230px,#80caff 231px)"></i>
<i style="left:29px;top:780px;width:232px;height:2px;background:linear-gradient(90deg,#ffee80 0px,#ffeb00 1px,#fafb05 2px,#54ffab 10px,#34ffcb 11px,#0cf2f3 12px,#00c4ff 13px,#004eff 15px,#001efc 16px,#0013f2 17px,#0025f4 23px,#003eff 27px,#006bff 28px,#01b1fe 29px,#11edee 30px,#49ffb6 31px,#91ff6e 32px,#ccff33 33px,#f8f807 34px,#ff1700 39px,#fb0100 40px,#cc0000 43px,#a90000 51px,#a80000 59px,#c30000 64px,#ff0700 70px,#ff4e00 75px,#ffec00 86px,#f5ff0a 92px,#d4ff2b 94px,#47ffb8 100px,#20ffdf 102px,#1bffe4 103px,#8aff75 108px,#d9ff26 111px,#f2ff0d 114px,#fff000 121px,#ffe700 148px,#f5ff0a 163px,#ccff33 181px,#64ff9b 194px,#01fefe 206px,#00e2ff 215px,#00a0ff 225px,#008dff 230px,#80c5ff 231px)"></i>
<i style="left:29px;top:782px;width:232px;height:2px;background:linear-gradient(90deg,#ffd780 0px,#ffb200 1px,#f3cd0c 7px,#d5db2a 11px,#8aed75 14px,#68df97 16px,#73df8c 19px,#87e778 25px,#95ef6a 28px,#f0e50f 32px,#ffc600 34px,#ff9000 36px,#ff1800 39px,#fc0200 40px,#cd0000 43px,#ac0000 50px,#a60000 58px,#ba0000 63px,#fd0200 69px,#ff5700 75px,#fff200 86px,#f6ff09 91px,#e6ff19 93px,#53ffac 100px,#32ffcd 102px,#2effd1 103px,#91ff6e 108px,#dbff24 111px,#fffc00 115px,#ffd700 121px,#ffd900 151px,#f9ff06 170px,#ddff22 181px,#95ff6a 190px,#31ffce 199px,#01fdfe 205px,#00cbff 216px,#0091ff 224px,#007dff 230px,#80bdff 231px)"></i>
<i style="left:29px;top:784px;width:232px;height:2px;background:linear-gradient(90deg,#ffc680 0px,#ff8600 1px,#ff6300 5px,#ff5100 23px,#ff6500 29px,#ff8d00 35px,#ff8300 36px,#ff2000 39px,#ff0800 40px,#c70000 44px,#a90000 51px,#aa0000 59px,#c60000 64px,#ff0600 69px,#ffad00 80px,#fff800 86px,#edff12 92px,#d1ff2e 94px,#6eff91 99px,#48ffb7 102px,#45ffba 103px,#99ff66 108px,#ebff14 112px,#fff700 115px,#ffcd00 120px,#ffd000 151px,#faff05 173px,#daff25 182px,#a6ff59 189px,#32ffcd 198px,#01fefe 204px,#00bbff 216px,#007eff 224px,#006dff 230px,#80b5ff 231px)"></i>
<i style="left:29px;top:786px;width:232px;height:2px;background:linear-gradient(90deg,#ffc880 0px,#ff8900 1px,#ff5700 5px,#ff2800 15px,#ff0800 21px,#ff2b00 28px,#ff7d00 35px,#ff7b00 36px,#fb0200 41px,#d10000 43px,#ae0000 49px,#a80000 58px,#bd0000 63px,#fa0000 68px,#ffa300 78px,#fefe01 86px,#e1ff1e 93px,#77ff88 99px,#5affa5 103px,#a1ff5e 108px,#eaff15 112px,#fffa00 115px,#ffd000 121px,#ffd300 150px,#faff05 173px,#e1ff1e 181px,#9fff60 189px,#2bffd4 198px,#00f7ff 204px,#00abff 216px,#006eff 223px,#005dff 230px,#80adff 231px)"></i>
<i style="left:29px;top:788px;width:232px;height:2px;background:linear-gradient(90deg,#ffd080 0px,#ff9900 1px,#ff6e00 5px,#ff4200 13px,#ff0700 21px,#ff3500 29px,#ff7a00 35px,#ff7b00 36px,#ff4300 39px,#ff0a00 41px,#d40000 43px,#ae0000 49px,#a90000 58px,#c00000 63px,#f90300 67px,#ff4500 71px,#ffb300 78px,#fcff03 86px,#e3ff1c 93px,#81ff7e 99px,#6dff92 103px,#a7ff58 108px,#e9ff16 112px,#fff500 116px,#ffd600 121px,#ffd400 142px,#fff500 165px,#f0ff0f 178px,#d9ff26 182px,#8aff75 190px,#23ffdc 198px,#00f6ff 203px,#0092ff 217px,#005cff 223px,#004dff 230px,#80a6ff 231px)"></i>
<i style="left:29px;top:790px;width:232px;height:2px;background:linear-gradient(90deg,#ffda80 0px,#ffae00 1px,#ff8200 6px,#ff5200 13px,#ff0e00 21px,#ff3800 28px,#ff8700 35px,#ff8800 36px,#ff5800 39px,#fa0600 42px,#c30000 46px,#ad0000 50px,#af0000 59px,#c50000 63px,#fe0900 66px,#ff5200 70px,#ffc100 78px,#fffe00 86px,#eaff15 93px,#8cff73 99px,#7fff80 103px,#acff53 108px,#e5ff1a 112px,#fffb00 116px,#ffde00 121px,#ffd800 138px,#fffa00 167px,#ebff14 180px,#74ff8b 191px,#07fff8 200px,#00b5ff 210px,#0078ff 218px,#004dff 223px,#0040ff 230px,#809fff 231px)"></i>
<i style="left:29px;top:792px;width:232px;height:2px;background:linear-gradient(90deg,#ffe480 0px,#ffc300 1px,#ff6400 13px,#ff1d00 21px,#ff4800 28px,#ff9500 35px,#ff8b00 37px,#ff4800 41px,#fd1700 44px,#e50c00 49px,#ec1500 62px,#ff2c00 65px,#ff6b00 69px,#ffcb00 78px,#fffb00 87px,#f2ff0d 93px,#97ff68 99px,#95ff6a 104px,#b0ff4f 108px,#e2ff1d 112px,#fffb00 117px,#ffe600 122px,#ffe300 139px,#f8ff07 172px,#e8ff17 180px,#60ff9f 192px,#01fcfe 200px,#00b6ff 207px,#0072ff 217px,#003fff 223px,#0032ff 230px,#8098ff 231px)"></i>
<i style="left:29px;top:794px;width:232px;height:2px;background:linear-gradient(90deg,#ffee80 0px,#ffd800 1px,#ff7c00 13px,#ff3900 21px,#ff6100 28px,#ffa300 35px,#ff9c00 37px,#ff8e00 39px,#f7b508 42px,#f0b30f 45px,#f1b00e 48px,#e4c71b 52px,#efcc10 67px,#ffc300 70px,#ffa800 73px,#fff000 85px,#faff05 93px,#aaff55 98px,#a2ff5d 101px,#acff53 107px,#e4ff1b 113px,#fff800 119px,#ffea00 135px,#f9ff06 168px,#ddff22 180px,#58ffa7 192px,#01fdfe 199px,#00a6ff 207px,#0062ff 217px,#0030ff 223px,#0024ff 230px,#8091ff 231px)"></i>
<i style="left:29px;top:796px;width:232px;height:2px;background:linear-gradient(90deg,#fff880 0px,#ffed00 1px,#ffa200 12px,#ff6200 19px,#ff5800 22px,#ff8400 29px,#ffb200 35px,#ffa800 38px,#ffb200 39px,#fee501 40px,#cdff32 41px,#81ff7e 42px,#4affb5 43px,#35ffca 44px,#24f1db 47px,#0bacf4 51px,#09a0f6 54px,#0aaaf5 59px,#0ec7f1 63px,#28fcd7 66px,#62ff9d 68px,#edfd12 71px,#ffe000 72px,#ffc000 73px,#ffc300 76px,#fff300 91px,#fffc00 93px,#b4ff4b 98px,#adff52 101px,#b9ff46 108px,#e9ff16 115px,#fffb00 121px,#fff600 138px,#f5ff0a 167px,#d1ff2e 180px,#5dffa2 191px,#04fffb 198px,#009cff 206px,#0052ff 217px,#0021ff 223px,#0017ff 230px,#808aff 231px)"></i>
<i style="left:29px;top:798px;width:232px;height:2px;background:linear-gradient(90deg,#fcff83 0px,#fbfe04 1px,#ffc000 12px,#ff8600 18px,#ff7800 22px,#ff9f00 29px,#ffc100 34px,#ffbf00 38px,#ffcc00 39px,#f1f90e 40px,#52ffad 42px,#11ffee 43px,#00ecff 44px,#00a0ff 47px,#002cff 50px,#000ff7 51px,#0007e8 53px,#0008ec 58px,#002aff 62px,#0042ff 63px,#03f2fc 67px,#28ffd7 68px,#cfff30 71px,#fcf503 72px,#ffd300 73px,#ffc900 76px,#ffd800 87px,#fff900 93px,#b5ff4a 99px,#b2ff4d 105px,#faff05 121px,#f8ff07 149px,#ecff13 168px,#c4ff3b 180px,#54ffab 191px,#00fbff 198px,#008cff 206px,#0039ff 218px,#0012ff 223px,#0009ff 230px,#8084ff 231px)"></i>
<i style="left:29px;top:800px;width:232px;height:2px;background:linear-gradient(90deg,#f2ff8d 0px,#e8ff17 1px,#fff600 8px,#ffde00 12px,#ffa900 18px,#ff9e00 22px,#ffc400 30px,#ffd600 34px,#ffd500 38px,#ffe400 39px,#e3ff1c 40px,#48ffb7 42px,#0afbf5 43px,#00b1ff 45px,#0021ff 49px,#0004fb 50px,#0000d2 52px,#0000ca 57px,#0000f6 62px,#000eff 63px,#00d6ff 67px,#0efef1 68px,#f2fe0d 72px,#ffe300 73px,#ffd900 75px,#ffe600 87px,#f8ff07 93px,#b9ff46 99px,#aaff55 103px,#f3ff0c 122px,#faff05 136px,#e8ff17 167px,#b0ff4f 181px,#34ffcb 193px,#04fffb 197px,#007eff 206px,#002cff 218px,#0006ff 223px,#0000fd 230px,#8080fe 231px)"></i>
<i style="left:29px;top:802px;width:232px;height:2px;background:linear-gradient(90deg,#e8ff97 0px,#d4ff2b 1px,#fef901 12px,#ffcc00 18px,#ffc600 23px,#ffec00 33px,#ffec00 38px,#fcf903 39px,#cfff30 40px,#42ffbd 42px,#08faf7 43px,#0085ff 46px,#001bff 49px,#0002fa 50px,#0000d2 52px,#0000c9 57px,#0000f4 62px,#000cff 63px,#00d3ff 67px,#0bfdf4 68px,#e6ff19 72px,#fff300 73px,#ffec00 76px,#f4ff0b 90px,#d7ff28 95px,#abff54 101px,#a8ff57 104px,#ebff14 122px,#f4ff0b 135px,#d9ff26 168px,#a6ff59 181px,#02fdfd 197px,#0078ff 206px,#0015ff 220px,#0000fd 224px,#0000f8 230px,#8080fb 231px)"></i>
<i style="left:29px;top:804px;width:232px;height:2px;background:linear-gradient(90deg,#deffa0 0px,#c1ff3e 1px,#fff800 15px,#ffe500 22px,#fefc01 34px,#fcfe03 38px,#eeff11 39px,#beff41 40px,#3cffc3 42px,#08faf7 43px,#005dff 47px,#0003fa 50px,#0000d4 52px,#0000cb 57px,#0000f7 62px,#0010ff 63px,#00d4ff 67px,#0bfdf4 68px,#d9ff26 72px,#fafe05 73px,#edff12 83px,#d3ff2c 94px,#a2ff5d 102px,#e5ff1a 123px,#eeff11 135px,#cdff32 168px,#9dff62 181px,#00fbff 197px,#0073ff 206px,#0000fa 223px,#0000f5 230px,#8080fa 231px)"></i>
<i style="left:29px;top:806px;width:232px;height:2px;background:linear-gradient(90deg,#d4ffaa 0px,#aeff51 1px,#fbfe04 17px,#f2ff0d 31px,#efff10 38px,#e1ff1e 39px,#b4ff4b 40px,#39ffc6 42px,#07fbf8 43px,#004fff 48px,#000efa 51px,#000af5 58px,#002bff 62px,#003fff 63px,#00deff 67px,#0bfef4 68px,#ccff33 72px,#ebff14 73px,#eaff15 76px,#c5ff3a 94px,#9bff64 103px,#deff21 123px,#e8ff17 134px,#beff41 169px,#94ff6b 181px,#1affe5 194px,#00f8ff 197px,#006eff 206px,#0000fa 222px,#0000f1 230px,#8080f8 231px)"></i>
<i style="left:29px;top:808px;width:232px;height:2px;background:linear-gradient(90deg,#cbffb4 0px,#9bff64 1px,#e8ff17 16px,#eaff15 27px,#e3ff1c 38px,#d6ff29 39px,#acff53 40px,#37ffc8 42px,#09fef6 43px,#00c1ff 46px,#0064ff 51px,#005bff 56px,#007bff 61px,#0093ff 63px,#08f6f7 67px,#1effe1 68px,#c2ff3d 72px,#ddff22 73px,#b5ff4a 95px,#96ff69 103px,#d7ff28 124px,#e0ff1f 134px,#b2ff4d 169px,#8bff74 181px,#38ffc7 191px,#02fffd 196px,#0069ff 206px,#0000fc 221px,#0000ef 225px,#0000ed 230px,#8080f6 231px)"></i>
<i style="left:29px;top:810px;width:232px;height:2px;background:linear-gradient(90deg,#c2ffbd 0px,#89ff76 1px,#d7ff28 16px,#e2ff1d 23px,#dcff23 33px,#d8ff27 38px,#ccff33 39px,#a8ff57 40px,#47ffb8 42px,#23ffdc 43px,#17fae8 45px,#12e1ed 53px,#1aefe5 62px,#29fbd6 64px,#c7ff38 72px,#d3ff2c 73px,#c2ff3d 81px,#abff54 96px,#91ff6e 103px,#c8ff37 123px,#d1ff2e 135px,#a2ff5d 170px,#82ff7d 181px,#40ffbf 190px,#01fdfe 196px,#0064ff 206px,#0001fe 220px,#0000ea 224px,#0000e9 230px,#8080f4 231px)"></i>
<i style="left:29px;top:812px;width:232px;height:2px;background:linear-gradient(90deg,#b9ffc5 0px,#78ff87 1px,#c4ff3b 15px,#d9ff26 22px,#ccff33 29px,#d3ff2c 37px,#bbff44 43px,#d3ea2c 49px,#d5dd2a 58px,#dcef23 65px,#d4ff2b 71px,#b6ff49 79px,#a5ff5a 96px,#8cff73 103px,#a5ff5a 112px,#c3ff3c 133px,#9aff65 168px,#7bff84 181px,#3fffc0 190px,#00fcff 196px,#0063ff 206px,#0001fd 220px,#0000eb 224px,#0000eb 230px,#8080f5 231px)"></i>
<i style="left:29px;top:814px;width:232px;height:2px;background:linear-gradient(90deg,#b1ffce 0px,#67ff98 1px,#b9ff46 14px,#d0ff2f 22px,#c7ff38 31px,#d0ff2f 36px,#c4ff3b 39px,#e5ff1a 42px,#f8fe07 43px,#ffc300 45px,#ff6100 48px,#fe2f00 50px,#ef1b00 52px,#e61400 58px,#fd2900 63px,#feef01 70px,#f2ff0d 71px,#c3ff3c 73px,#a9ff56 78px,#9fff60 96px,#87ff78 103px,#9bff64 110px,#b1ff4e 135px,#93ff6c 163px,#79ff86 181px,#3fffc0 190px,#00f8ff 197px,#0077ff 206px,#0007fe 223px,#0006fd 230px,#8083fe 231px)"></i>
<i style="left:29px;top:816px;width:232px;height:2px;background:linear-gradient(90deg,#a8ffd6 0px,#56ffa9 1px,#b9ff46 15px,#ccff33 22px,#c2ff3d 33px,#c9ff36 36px,#baff45 39px,#e9ff16 42px,#fdf902 43px,#ff3900 48px,#f80100 50px,#cc0000 52px,#b50000 57px,#dd0000 62px,#ef0000 63px,#ff0f00 64px,#ffe700 70px,#f4ff0b 71px,#b8ff47 73px,#9dff62 78px,#9dff62 94px,#83ff7c 103px,#95ff6a 109px,#a0ff5f 139px,#86ff79 163px,#79ff86 181px,#38ffc7 191px,#04fefb 197px,#0090ff 206px,#0024ff 223px,#0024ff 230px,#8091ff 231px)"></i>
<i style="left:29px;top:818px;width:232px;height:2px;background:linear-gradient(90deg,#a2ffdd 0px,#49ffb6 1px,#bbff44 16px,#c6ff39 23px,#c1ff3e 34px,#bcff43 37px,#b2ff4d 39px,#e7ff18 42px,#fcf903 43px,#ff3600 48px,#f50000 50px,#d80000 51px,#c20000 53px,#b30000 57px,#da0000 62px,#ec0000 63px,#ff0d00 64px,#ffea00 70px,#efff10 71px,#b0ff4f 73px,#91ff6e 77px,#97ff68 94px,#88ff77 101px,#85ff7a 104px,#93ff6c 110px,#87ff78 156px,#7fff80 176px,#76ff89 182px,#4affb5 190px,#04fefb 198px,#00a5ff 207px,#0048ff 223px,#0047ff 230px,#80a3ff 231px)"></i>
<i style="left:29px;top:820px;width:232px;height:2px;background:linear-gradient(90deg,#9cffe3 0px,#3dffc2 1px,#b7ff48 16px,#c3ff3c 23px,#bcff43 36px,#aaff55 39px,#e2ff1d 42px,#fbfb04 43px,#ff3400 48px,#ff1300 49px,#f20000 50px,#d40000 51px,#be0000 53px,#b10000 57px,#d70000 62px,#ff0b00 64px,#ffec00 70px,#ebff14 71px,#aaff55 73px,#85ff7a 77px,#90ff6f 92px,#8dff72 100px,#85ff7a 104px,#92ff6d 110px,#83ff7c 126px,#7eff81 177px,#6fff90 185px,#57ffa8 190px,#11ffee 199px,#00c0ff 218px,#00adff 225px,#00aeff 230px,#80d6ff 231px)"></i>
<i style="left:29px;top:822px;width:232px;height:2px;background:linear-gradient(90deg,#95ffe9 0px,#31ffce 1px,#b8ff47 17px,#bdff42 25px,#b6ff49 36px,#a2ff5d 39px,#c6ff39 41px,#f9fc06 43px,#ffae00 45px,#ff3200 48px,#ff1000 49px,#ee0000 50px,#d10000 51px,#bb0000 53px,#b00000 57px,#d50000 62px,#ff0900 64px,#ffef00 70px,#e8ff17 71px,#a4ff5b 73px,#7cff83 77px,#91ff6e 99px,#84ff7b 104px,#90ff6f 111px,#7cff83 124px,#7cff83 175px,#75ff8a 186px,#59ffa6 192px,#3effc1 197px,#adfe52 207px,#c7d638 215px,#d8a027 225px,#d79025 230px,#ebc792 231px)"></i>
<i style="left:29px;top:824px;width:232px;height:2px;background:linear-gradient(90deg,#90ffef 0px,#26ffd9 1px,#b5ff4a 17px,#baff45 25px,#b0ff4f 36px,#9bff64 39px,#c0ff3f 41px,#f7fe08 43px,#ffaf00 45px,#ff3000 48px,#ff0e00 49px,#eb0000 50px,#cd0000 51px,#b70000 53px,#b30000 58px,#d20000 62px,#fe0800 64px,#fff200 70px,#e4ff1b 71px,#9eff61 73px,#74ff8b 77px,#8cff73 96px,#8dff72 100px,#84ff7b 104px,#8fff70 111px,#78ff87 124px,#79ff86 172px,#7dff82 188px,#64ff9b 197px,#f7ff08 205px,#ffc700 209px,#fe0500 222px,#c70000 230px,#e18080 231px)"></i>
<i style="left:29px;top:826px;width:232px;height:2px;background:linear-gradient(90deg,#8dfff2 0px,#1fffe0 1px,#b4ff4b 17px,#baff45 24px,#b2ff4d 36px,#94ff6b 39px,#bbff44 41px,#f5ff0a 43px,#ffde00 44px,#ff2e00 48px,#ff0b00 49px,#c90000 51px,#b40000 53px,#b10000 58px,#d00000 62px,#fc0700 64px,#fff400 70px,#b7ff48 72px,#97ff68 73px,#6cff93 77px,#8bff74 96px,#8dff72 100px,#84ff7b 104px,#8dff72 111px,#74ff8b 123px,#71ff8e 162px,#89ff76 189px,#88ff77 197px,#f6ff09 204px,#ffd900 207px,#fc0100 222px,#c40000 230px,#df8080 231px)"></i>
<i style="left:29px;top:828px;width:232px;height:2px;background:linear-gradient(90deg,#8bfff4 0px,#1bffe4 1px,#46ffb9 6px,#a6ff59 15px,#beff41 21px,#b7ff48 33px,#b6ff49 36px,#8eff71 39px,#b6ff49 41px,#f3ff0c 43px,#ffe000 44px,#ff2c00 48px,#ff0900 49px,#c50000 51px,#b50000 52px,#ab0000 57px,#cd0000 62px,#fb0600 64px,#fef601 70px,#b2ff4d 72px,#91ff6e 73px,#64ff9b 77px,#91ff6e 99px,#83ff7c 104px,#8aff75 112px,#70ff8f 123px,#70ff8f 160px,#76ff89 169px,#95ff6a 185px,#aaff55 197px,#f8ff07 203px,#ffbe00 208px,#ff0700 221px,#c30000 230px,#df8080 231px)"></i>
<i style="left:29px;top:830px;width:232px;height:2px;background:linear-gradient(90deg,#89fff5 0px,#17ffe8 1px,#43ffbc 6px,#a6ff59 15px,#c0ff3f 21px,#b8ff47 33px,#bcff43 36px,#94ff6b 39px,#b9ff46 41px,#f4ff0b 43px,#ffde00 44px,#ff2a00 48px,#ff0800 49px,#c60000 51px,#b60000 52px,#b20000 58px,#cf0000 62px,#fd0700 64px,#fbf804 70px,#8bff74 73px,#5cffa3 77px,#91ff6e 99px,#83ff7c 104px,#89ff76 112px,#6cff93 123px,#71ff8e 145px,#7aff85 168px,#a1ff5e 185px,#c1ff3e 197px,#fbfe04 202px,#ffa500 209px,#fe0200 221px,#d30000 227px,#c20000 230px,#de8080 231px)"></i>
<i style="left:29px;top:832px;width:232px;height:2px;background:linear-gradient(90deg,#88fff7 0px,#15ffea 1px,#50ffaf 7px,#a6ff59 15px,#c2ff3d 21px,#b9ff46 33px,#c2ff3d 36px,#a0ff5f 39px,#c1ff3e 41px,#f7fe08 43px,#ffdb00 44px,#ff2a00 48px,#ff0800 49px,#c90000 51px,#b70000 53px,#b70000 58px,#d30000 62px,#ff0a00 64px,#ffd800 69px,#f8fc07 70px,#85ff7a 73px,#54ffab 77px,#7eff81 92px,#91ff6e 99px,#83ff7c 104px,#87ff78 112px,#68ff97 122px,#69ff96 139px,#88ff77 169px,#c6ff39 194px,#dcff23 198px,#fdfd02 201px,#ff9900 209px,#ff0800 220px,#e60000 223px,#c10000 230px,#de8080 231px)"></i>
<i style="left:29px;top:834px;width:232px;height:2px;background:linear-gradient(90deg,#86fff8 0px,#12ffed 1px,#5cffa3 8px,#afff50 16px,#c7ff38 24px,#c9ff36 34px,#caff35 36px,#acff53 39px,#caff35 41px,#f9fc06 43px,#ffaa00 45px,#ff2900 48px,#ff0800 49px,#cc0000 51px,#bb0000 53px,#bc0000 58px,#d80000 62px,#ea0000 63px,#ff0e00 64px,#ffde00 69px,#f4fe0b 70px,#a0ff5f 72px,#7fff80 73px,#50ffaf 77px,#91ff6e 99px,#82ff7d 104px,#86ff79 112px,#65ff9a 122px,#63ff9c 137px,#93ff6c 169px,#cdff32 192px,#edff12 198px,#fff000 201px,#ff8e00 209px,#ff0e00 219px,#f60000 221px,#d30000 226px,#c00000 230px,#de8080 231px)"></i>
<i style="left:29px;top:836px;width:232px;height:2px;background:linear-gradient(90deg,#85fffa 0px,#10ffef 1px,#69ff96 9px,#b6ff49 17px,#d2ff2d 28px,#d1ff2e 36px,#b8ff47 39px,#e4ff1b 42px,#fbfb04 43px,#ffa700 45px,#ff2800 48px,#ff0900 49px,#cf0000 51px,#bf0000 53px,#c10000 58px,#dc0000 62px,#ee0000 63px,#ff1300 64px,#ffe500 69px,#efff10 70px,#9aff65 72px,#7bff84 73px,#4fffb0 77px,#91ff6e 99px,#82ff7d 104px,#85ff7a 112px,#61ff9e 122px,#5effa1 136px,#7fff80 156px,#d7ff28 191px,#fcfd03 198px,#ff9e00 207px,#ff1d00 217px,#fc0000 220px,#d50000 225px,#be0000 230px,#dd8080 231px)"></i>
<i style="left:29px;top:838px;width:232px;height:2px;background:linear-gradient(90deg,#85fffa 0px,#10ffef 1px,#47ffb8 6px,#a5ff5a 13px,#ceff31 18px,#daff25 24px,#e8ff17 33px,#c4ff3b 39px,#eaff15 42px,#fdf902 43px,#ff4800 47px,#ff0700 49px,#d20000 51px,#c30000 53px,#c60000 58px,#e00000 62px,#f20000 63px,#ff1800 64px,#ffeb00 69px,#e9ff16 70px,#95ff6a 72px,#76ff89 73px,#4dffb2 77px,#8fff70 99px,#82ff7d 104px,#83ff7c 112px,#5dffa2 122px,#5bffa4 135px,#7bff84 153px,#ceff31 185px,#f2ff0d 194px,#fff200 198px,#ff8500 208px,#ff1f00 216px,#f60000 220px,#d20000 225px,#bc0000 230px,#dc8080 231px)"></i>
<i style="left:29px;top:840px;width:232px;height:2px;background:linear-gradient(90deg,#86fff8 0px,#13ffec 1px,#3cffc3 5px,#b5ff4a 12px,#e9ff16 17px,#f6fe09 22px,#e7ff18 28px,#fcfd03 32px,#d1ff2e 39px,#f0ff0f 42px,#fff600 43px,#ff4100 47px,#fe0500 49px,#d40000 51px,#c70000 53px,#ca0000 58px,#e40000 62px,#f60000 63px,#ff1c00 64px,#fff200 69px,#e2ff1d 70px,#90ff6f 72px,#71ff8e 73px,#4bffb4 77px,#8cff73 99px,#82ff7d 105px,#82ff7d 112px,#5affa5 122px,#5affa5 135px,#7dff82 152px,#bbff44 172px,#e5ff1a 190px,#fffb00 195px,#ff9f00 205px,#ff1700 216px,#fa0000 219px,#ce0000 225px,#b90000 230px,#da8080 231px)"></i>
<i style="left:29px;top:842px;width:232px;height:2px;background:linear-gradient(90deg,#88fff6 0px,#17ffe8 1px,#46ffb9 5px,#c0ff3f 11px,#fcfa03 16px,#ffe700 22px,#fcf703 28px,#ffee00 33px,#eeff11 38px,#f8fd07 41px,#fdf702 42px,#ffe400 43px,#ff3900 47px,#fd0300 49px,#d70000 51px,#cb0000 54px,#d50000 59px,#e80000 62px,#f90100 63px,#ff4c00 65px,#fdf602 69px,#8bff74 72px,#6cff93 73px,#4affb5 77px,#8aff75 98px,#83ff7c 106px,#7bff84 113px,#58ffa7 121px,#58ffa7 134px,#82ff7d 152px,#c3ff3c 170px,#e7ff18 189px,#fff600 194px,#ff9200 205px,#ff0e00 216px,#f40000 219px,#ca0000 225px,#b50000 230px,#d98080 231px)"></i>
<i style="left:29px;top:844px;width:232px;height:2px;background:linear-gradient(90deg,#8afff4 0px,#1dffe2 1px,#55ffaa 5px,#daff25 11px,#fef701 14px,#ffd500 17px,#ffc400 22px,#ffdc00 35px,#ffe600 40px,#ffd700 42px,#ffc600 43px,#ff2f00 47px,#fc0200 49px,#d00000 52px,#d40000 58px,#ec0000 62px,#fb0400 63px,#ff5100 65px,#fafa05 69px,#85ff7a 72px,#68ff97 73px,#48ffb7 77px,#77ff88 91px,#85ff7a 100px,#7fff80 112px,#55ffaa 121px,#57ffa8 134px,#83ff7c 151px,#cbff34 168px,#e8ff17 186px,#f5ff0a 190px,#ffeb00 194px,#ff6f00 207px,#ff0e00 215px,#f50000 218px,#c30000 226px,#b20000 230px,#d78080 231px)"></i>
<i style="left:29px;top:846px;width:232px;height:2px;background:linear-gradient(90deg,#8dfff2 0px,#23ffdc 1px,#67ff98 5px,#ebfe14 10px,#ffec00 12px,#ffb300 17px,#ff9e00 25px,#ffa900 31px,#ffbe00 40px,#ffb500 42px,#ffa700 43px,#ff2900 47px,#fc0200 49px,#d70000 52px,#db0000 58px,#fd0600 63px,#ff8300 66px,#ffdc00 68px,#f7fd08 69px,#80ff7f 72px,#63ff9c 73px,#47ffb8 77px,#6dff92 89px,#82ff7d 96px,#7dff82 112px,#52ffad 121px,#56ffa9 134px,#87ff78 151px,#d7ff28 168px,#f0ff0f 183px,#f5ff0a 189px,#ffe900 193px,#ff6300 207px,#ff0500 215px,#bb0000 227px,#ae0000 230px,#d58080 231px)"></i>
<i style="left:29px;top:848px;width:232px;height:2px;background:linear-gradient(90deg,#8ffff0 0px,#29ffd6 1px,#60ff9f 4px,#f9f906 9px,#ffc500 11px,#ff9100 17px,#ff7400 27px,#ff8a00 34px,#ff9800 39px,#ff9300 42px,#ff8900 43px,#ff1200 48px,#f30000 50px,#e10000 52px,#e80000 59px,#f50000 62px,#ff0800 63px,#ffe200 68px,#f2ff0d 69px,#7bff84 72px,#5effa1 73px,#45ffba 77px,#65ff9a 88px,#80ff7f 94px,#7cff83 112px,#4effb1 121px,#55ffaa 134px,#8cff73 151px,#e1ff1e 167px,#fbff04 182px,#fcff03 189px,#ff5700 207px,#ff0400 214px,#b70000 227px,#ab0000 230px,#d48080 231px)"></i>
<i style="left:488px;top:722px;width:10px;height:2px;background:linear-gradient(90deg,#c2ff3d 0px,#b6ff49 4px,#e4ff1b 8px,#f9fe06 9px)"></i>
<i style="left:481px;top:724px;width:30px;height:2px;background:linear-gradient(90deg,#ffbb9f 0px,#ff8540 1px,#ffb340 3px,#fff640 5px,#e7ff58 6px,#c2ff3d 7px,#b6ff49 11px,#e4ff1b 15px,#f9fe06 16px,#ffed40 17px,#ffb540 20px,#ff7a40 28px,#ffba9f 29px)"></i>
<i style="left:475px;top:726px;width:48px;height:2px;background:linear-gradient(90deg,#e68080 0px,#fc8080 3px,#ff9580 5px,#ff5c00 7px,#ff9a00 9px,#fff300 11px,#e0ff1f 12px,#c3ff3c 13px,#b7ff48 17px,#e6ff19 21px,#fafd05 22px,#ff9b00 26px,#ff4e00 34px,#ff9d80 36px,#ff9580 40px,#ffa180 46px,#ffd1bf 47px)"></i>
<i style="left:468px;top:728px;width:67px;height:2px;background:linear-gradient(90deg,#f6dfdf 0px,#edbfbf 1px,#f1bfbf 6px,#cd0000 7px,#e30000 9px,#fa0100 10px,#ff7600 15px,#fff000 18px,#e3ff1c 19px,#c6ff39 20px,#bbff44 24px,#ebff14 28px,#fdf902 29px,#ff9e00 32px,#ff7f00 34px,#ff2800 45px,#ff4200 53px,#ffd2bf 55px,#ffdcbf 65px,#ffeedf 66px)"></i>
<i style="left:462px;top:730px;width:85px;height:2px;background:linear-gradient(90deg,#ecbfbf 0px,#ecbfbf 5px,#b70000 7px,#d30000 14px,#f90000 16px,#ff7500 21px,#ffee00 24px,#e6ff19 25px,#c9ff36 26px,#beff41 30px,#f1ff0e 34px,#ffef00 35px,#ff7a00 38px,#ff6200 39px,#ff2400 52px,#ff7200 71px,#ffdebf 73px,#fff2bf 84px)"></i>
<i style="left:462px;top:732px;width:85px;height:2px;background:linear-gradient(90deg,#b30000 0px,#bf0000 9px,#d30000 14px,#f90000 16px,#ff7300 21px,#ffeb00 24px,#e9ff16 25px,#ccff33 26px,#c1ff3e 30px,#f7ff08 34px,#ffe400 35px,#ff5400 38px,#ff3900 39px,#ff1b00 52px,#ff8d00 76px,#ffcb00 84px)"></i>
<i style="left:455px;top:734px;width:104px;height:2px;background:linear-gradient(90deg,#e18080 0px,#c10000 1px,#b50000 9px,#cd0000 20px,#e20000 22px,#f90000 23px,#ff7200 28px,#ffe900 31px,#ecff13 32px,#d0ff2f 33px,#c5ff3a 37px,#fafe05 41px,#ffdb00 42px,#ff3800 45px,#ff1900 46px,#ff1100 59px,#ff8a00 83px,#feff01 98px,#f4ff0b 103px)"></i>
<i style="left:449px;top:736px;width:122px;height:2px;background:linear-gradient(90deg,#df4040 0px,#d54040 5px,#c20000 7px,#bb0000 16px,#d30000 27px,#f90000 29px,#ff7100 34px,#ffe600 37px,#efff10 38px,#d3ff2c 39px,#c8ff37 43px,#f9fe06 47px,#ffdc00 48px,#ff3400 51px,#ff1500 52px,#ff0700 65px,#ff8000 89px,#fdff02 104px,#f4ff0b 109px,#f6ff49 110px,#ecff53 121px)"></i>
<i style="left:442px;top:738px;width:142px;height:2px;background:linear-gradient(90deg,#f79f9f 0px,#ee4040 1px,#e24040 6px,#d40000 7px,#c00000 22px,#d30000 34px,#f80000 36px,#ff7000 41px,#ffe500 44px,#f1ff0e 45px,#d5ff2a 46px,#c9ff36 50px,#f8ff07 54px,#ffde00 55px,#ff3500 58px,#ff1500 59px,#fe0000 72px,#ff6d00 95px,#fbfe04 110px,#edff12 114px,#e5ff1a 128px,#eaff55 129px,#c5ff7a 140px,#e0ffbe 141px)"></i>
<i style="left:435px;top:740px;width:161px;height:2px;background:linear-gradient(90deg,#febfbf 0px,#fc8080 1px,#f78080 6px,#e90000 8px,#c60000 28px,#d30000 41px,#f80000 43px,#ff6e00 48px,#ffe500 51px,#efff10 52px,#d3ff2c 53px,#c8ff37 57px,#f5ff0a 61px,#ffe000 62px,#ff3500 65px,#ff1500 66px,#ff0100 79px,#ff6200 102px,#fefc01 115px,#d9ff26 119px,#d6ff29 137px,#b2ff4d 147px,#d3ffac 149px,#bfffbf 159px,#dfffdf 160px)"></i>
<i style="left:429px;top:742px;width:179px;height:2px;background:linear-gradient(90deg,#febfbf 0px,#febfbf 5px,#fa0000 7px,#de0000 25px,#cc0000 34px,#d40000 47px,#f80000 49px,#ff6f00 54px,#ffe700 57px,#edff12 58px,#d1ff2e 59px,#c5ff3a 63px,#f3ff0c 67px,#ffe200 68px,#ff3600 71px,#ff1500 72px,#ff0400 85px,#ff5200 107px,#fcfd03 120px,#c3ff3c 125px,#b3ff4c 150px,#9eff61 156px,#7fff80 163px,#7fff80 165px,#dfffdf 167px,#e9ffd5 177px,#f5ffe9 178px)"></i>
<i style="left:429px;top:744px;width:179px;height:2px;background:linear-gradient(90deg,#fa0000 0px,#fe0400 15px,#ec0000 24px,#d50000 31px,#d10000 46px,#e30000 48px,#fa0100 49px,#ff7900 54px,#ffed00 57px,#e9ff16 58px,#ceff31 59px,#c3ff3c 63px,#f1ff0e 67px,#ffe400 68px,#ff3600 71px,#ff1500 72px,#ff0800 85px,#ff6100 107px,#fef801 118px,#acff53 125px,#9cff63 154px,#7cff83 163px,#85ff7a 171px,#a9ff56 177px,#d6ffa8 178px)"></i>
<i style="left:422px;top:746px;width:197px;height:2px;background:linear-gradient(90deg,#ff8380 0px,#ff0400 1px,#ff0200 12px,#ff1e00 16px,#fc0000 30px,#dd0000 37px,#d30000 53px,#d60000 54px,#fc0300 56px,#ff8400 61px,#fff300 64px,#e5ff1a 65px,#cbff34 66px,#c0ff3f 70px,#eeff11 74px,#ffe700 75px,#ff3900 78px,#ff1800 79px,#ff0b00 92px,#ff7400 114px,#fdfc02 124px,#98ff67 132px,#88ff77 152px,#8bff74 161px,#6fff90 170px,#7dff82 178px,#b7ff48 186px,#fff800 191px,#ffbb00 196px)"></i>
<i style="left:416px;top:748px;width:203px;height:2px;background:linear-gradient(90deg,#ff1500 0px,#fd0000 12px,#ff0900 18px,#ff3400 22px,#ff1000 35px,#f40000 39px,#e30000 44px,#d90000 57px,#de0000 60px,#ff0900 62px,#ffb000 68px,#fdf802 70px,#c9ff36 72px,#beff41 76px,#ebff14 80px,#ffec00 81px,#ff4900 84px,#ff2a00 85px,#ff0f00 98px,#ff9200 121px,#fefc01 129px,#8fff70 138px,#7dff82 160px,#77ff88 168px,#5fffa0 176px,#67ff98 184px,#a1ff5e 192px,#f4fe0b 197px,#ffcf00 201px,#ffc400 202px)"></i>
<i style="left:409px;top:750px;width:210px;height:2px;background:linear-gradient(90deg,#ffa99f 0px,#ff5340 1px,#ff5240 6px,#ff1600 7px,#ff0f00 15px,#fe0000 19px,#ff1100 25px,#ff4a00 29px,#ff1d00 42px,#fc0000 46px,#eb0000 50px,#df0000 62px,#e80000 67px,#f80000 68px,#ff4a00 71px,#ffbb00 75px,#fafb05 77px,#c6ff39 79px,#bbff44 83px,#e8ff17 87px,#fff200 88px,#ff5d00 91px,#ff4000 92px,#ff1700 105px,#ffa600 128px,#fdfc02 135px,#8aff75 145px,#66ff99 175px,#4effb1 184px,#4fffb0 191px,#7dff82 199px,#f1fa0e 208px,#f6f509 209px)"></i>
<i style="left:403px;top:752px;width:216px;height:2px;background:linear-gradient(90deg,#ff8c80 0px,#ff9080 5px,#ff2200 7px,#ff2a00 20px,#ff0100 24px,#ff1700 29px,#ff1800 31px,#ff6000 35px,#ff3a00 47px,#fc0000 53px,#e20000 66px,#f10000 73px,#fe0500 74px,#ffc600 81px,#f7fe08 83px,#c3ff3c 85px,#b9ff46 89px,#e2ff1d 93px,#fcf803 94px,#ff7200 97px,#ff5700 98px,#ff3100 111px,#ffbd00 134px,#fbfe04 140px,#85ff7a 151px,#5dffa2 179px,#39ffc6 192px,#3bffc4 198px,#62ff9d 206px,#b5ff4a 215px)"></i>
<i style="left:396px;top:754px;width:223px;height:2px;background:linear-gradient(90deg,#ffe2df 0px,#ffc6bf 1px,#ffc8bf 6px,#ff1e00 7px,#ff2a00 11px,#ff6900 17px,#ff5a00 20px,#ff4500 23px,#ff4000 27px,#ff0300 31px,#ff1900 34px,#ff2200 36px,#ff2200 38px,#ff8000 42px,#ff9100 49px,#ff8700 53px,#ff6700 55px,#ff2000 58px,#fd0100 61px,#e80000 73px,#fb0000 80px,#ff0e00 81px,#ffef00 89px,#f1ff0e 90px,#c0ff3f 92px,#b5ff4a 96px,#dcff23 100px,#f8fd07 101px,#ff8600 104px,#ff6e00 105px,#ff5200 118px,#ffd500 141px,#f6ff09 146px,#81ff7e 158px,#66ff99 178px,#21ffde 202px,#42ffbd 214px,#6fff90 222px)"></i>
<i style="left:389px;top:756px;width:230px;height:2px;background:linear-gradient(90deg,#ffe2df 0px,#ffc6bf 1px,#ffc7bf 6px,#ff2200 8px,#ff4b00 14px,#ffa200 22px,#ffb900 24px,#ffb500 25px,#ff6b00 29px,#ff5f00 31px,#ff5f00 33px,#ff4200 35px,#ff0600 38px,#ff0c00 39px,#ff4200 42px,#ff3c00 45px,#ff5900 46px,#ffaf00 48px,#ffcd00 49px,#fde402 55px,#fee001 60px,#ffd200 61px,#ff4400 65px,#ff1300 68px,#f50000 77px,#ff0600 87px,#ff3300 89px,#fef801 96px,#b7ff48 99px,#acff53 103px,#d5ff2a 107px,#f1ff0e 108px,#ffe700 109px,#ff9b00 111px,#ff8500 112px,#ff7200 125px,#fff500 149px,#deff21 154px,#83ff7c 165px,#62ff9d 184px,#1affe5 207px,#1affe5 213px,#4cffb3 229px)"></i>
<i style="left:389px;top:758px;width:230px;height:2px;background:linear-gradient(90deg,#ff8d80 0px,#ff1d00 1px,#ff3c00 6px,#ffa300 14px,#f7f108 22px,#effa10 24px,#f5f60a 25px,#ffc900 27px,#ff8f00 29px,#ff7e00 30px,#ff7800 33px,#ff6c00 34px,#ff1d00 37px,#ff0a00 38px,#ff1600 39px,#ff6b00 42px,#ff6a00 43px,#ff5b00 44px,#ff5b00 45px,#ff8500 46px,#f3f50c 48px,#d4ff2b 49px,#c4ff3b 52px,#c0ff3f 60px,#d2ff2d 61px,#f4f50b 62px,#ff9d00 64px,#ff7100 65px,#ff2c00 68px,#ff0c00 74px,#fe0300 81px,#ff1000 87px,#ff3e00 89px,#ffe800 95px,#f8fe07 96px,#adff52 99px,#a1ff5e 103px,#cdff32 107px,#fff300 109px,#ffaf00 111px,#ff9b00 112px,#ff9000 125px,#fbfe04 148px,#88ff77 165px,#54ffab 185px,#1dffe2 201px,#0ffff0 212px,#36ffc9 229px)"></i>
<i style="left:388px;top:760px;width:231px;height:2px;background:linear-gradient(90deg,#ff9280 0px,#ff3000 1px,#ff8000 7px,#fde002 12px,#dbfd24 17px,#a0ff5f 25px,#b0ff4f 26px,#f3f90c 28px,#ffdf00 29px,#ffbb00 30px,#ffa300 31px,#ff9100 34px,#ff8100 35px,#ff2300 38px,#ff0e00 39px,#ff2000 40px,#ff7400 42px,#ff9500 43px,#ff9200 44px,#ff7c00 45px,#ff7a00 46px,#ffad00 47px,#f7f208 48px,#b8ff47 49px,#83ff7c 50px,#6fff90 52px,#5cffa3 58px,#5fffa0 61px,#75ff8a 62px,#e7fc18 64px,#ffd600 65px,#ff9f00 66px,#ff5d00 68px,#ff3600 70px,#ff1900 75px,#ff1000 82px,#ff1f00 88px,#ff4b00 90px,#fff300 96px,#efff10 97px,#a3ff5c 100px,#96ff69 104px,#c6ff39 108px,#fbfa04 110px,#ffbe00 112px,#ffac00 113px,#ffb100 127px,#feff01 148px,#89ff76 167px,#0cfff3 206px,#09fff6 214px,#21ffde 230px)"></i>
<i style="left:388px;top:762px;width:231px;height:2px;background:linear-gradient(90deg,#ff9f80 0px,#ff5500 1px,#ff8f00 3px,#ffbf00 7px,#faf105 9px,#d0ff2f 11px,#5effa1 18px,#4dffb2 25px,#63ff9c 26px,#e7fe18 29px,#feea01 30px,#ffcc00 31px,#ffab00 34px,#ff9600 35px,#ff2900 38px,#ff1200 39px,#ff2a00 40px,#ff9400 42px,#ffbc00 43px,#ffb900 44px,#ff9e00 45px,#ff9900 46px,#ffd300 47px,#d2ff2d 48px,#79ff86 49px,#3bffc4 50px,#22ffdd 52px,#0dfcf2 57px,#0ffcf0 61px,#25ffda 62px,#eafc15 65px,#ffd200 66px,#ff7f00 68px,#ff5f00 69px,#ff3500 72px,#ff1a00 80px,#ff2f00 88px,#ff5a00 90px,#fdfa02 96px,#99ff66 100px,#8bff74 104px,#bfff40 108px,#f7fe08 110px,#ffca00 112px,#ffba00 113px,#ffdf00 135px,#fcff03 149px,#89ff76 168px,#4affb5 186px,#2fffd0 196px,#07fff8 204px,#05fffa 217px,#0cfff3 230px)"></i>
<i style="left:388px;top:764px;width:231px;height:2px;background:linear-gradient(90deg,#ffac80 0px,#ff7200 1px,#ffb700 3px,#ffcc00 5px,#ffd200 6px,#ffe600 7px,#f1fd0e 8px,#7bff84 11px,#55ffaa 13px,#12feed 18px,#0cfcf3 25px,#22ffdd 26px,#e5ff1a 30px,#fdf402 31px,#ffc500 34px,#ffaa00 35px,#ff3000 38px,#ff1600 39px,#ff3000 40px,#ffa500 42px,#ffd400 43px,#ffd600 44px,#ffc000 45px,#ffc200 46px,#f2f60d 47px,#3dffc2 49px,#06f5f9 50px,#00d5ff 55px,#00d3ff 61px,#02ebfd 62px,#2affd5 63px,#b5ff4a 65px,#f1fa0e 66px,#ffd200 67px,#ff7900 69px,#ff5100 71px,#ff3700 74px,#ff2a00 81px,#ff3f00 88px,#ff8300 91px,#ffeb00 95px,#f7ff08 96px,#a3ff5c 99px,#8fff70 100px,#80ff7f 104px,#b9ff46 108px,#eeff11 110px,#fff200 111px,#ffd600 112px,#ffc700 113px,#ffea00 132px,#fbff04 150px,#90ff6f 169px,#52ffad 186px,#3cffc3 195px,#0afff5 204px,#00fdff 219px,#00f6ff 230px)"></i>
<i style="left:388px;top:766px;width:231px;height:2px;background:linear-gradient(90deg,#ffb980 0px,#ff8c00 1px,#ffd200 3px,#ffe800 5px,#f5fd0a 7px,#3fffc0 11px,#19ffe6 13px,#02f3fd 16px,#00d5ff 20px,#00ceff 25px,#01e7fe 26px,#1afee5 27px,#b7ff48 30px,#deff21 31px,#f5fe0a 32px,#ffde00 34px,#ffbf00 35px,#ff3700 38px,#ff1900 39px,#ff3400 40px,#ffae00 42px,#ffe100 43px,#ffed00 44px,#ffe400 45px,#fdee02 46px,#c8ff37 47px,#0ef6f1 49px,#00c2ff 50px,#00b1ff 51px,#009fff 58px,#00a1ff 61px,#00baff 62px,#05f0fa 63px,#3bffc4 64px,#c1ff3e 66px,#f7f808 67px,#ff9300 69px,#ff7500 70px,#ff4800 73px,#ff3700 81px,#ff4f00 88px,#ff9100 91px,#fff600 95px,#d1ff2e 97px,#85ff7a 100px,#75ff8a 104px,#b2ff4d 108px,#fdfa02 111px,#ffd400 113px,#ffee00 132px,#fff900 149px,#7cff83 178px,#3effc1 196px,#0ffff0 205px,#00faff 215px,#00e0ff 230px)"></i>
<i style="left:388px;top:768px;width:231px;height:2px;background:linear-gradient(90deg,#ffc680 0px,#ffa600 1px,#ffec00 3px,#f8fe07 5px,#f1ff0e 6px,#d8ff27 7px,#14feeb 11px,#03f6fc 12px,#00acff 19px,#009eff 25px,#00b8ff 26px,#01e8fe 27px,#20ffdf 28px,#8aff75 30px,#b4ff4b 31px,#efff10 33px,#fff200 34px,#ff9e00 36px,#ff3c00 38px,#ff1d00 39px,#ff3800 40px,#ffef00 43px,#f9fe06 44px,#f5fe0a 45px,#e1ff1e 46px,#9aff65 47px,#3affc5 48px,#00dbff 49px,#009bff 50px,#008aff 51px,#007bff 59px,#007dff 61px,#0094ff 62px,#00ccff 63px,#11fcee 64px,#d2ff2d 67px,#fee901 68px,#ffb100 69px,#ff8d00 70px,#ff5600 73px,#ff4200 80px,#ff6000 88px,#ffb700 92px,#fbfc04 95px,#8cff73 99px,#78ff87 100px,#69ff96 104px,#abff54 108px,#f7ff08 111px,#ffe000 113px,#fff500 149px,#eaff15 156px,#67ff98 189px,#44ffbb 197px,#14ffeb 206px,#00faff 214px,#00d3ff 225px,#00c9ff 230px)"></i>
<i style="left:388px;top:770px;width:231px;height:2px;background:linear-gradient(90deg,#ffd280 0px,#ffbc00 1px,#fdfa02 3px,#c7ff38 6px,#a8ff57 7px,#18fee7 10px,#00eaff 11px,#00c5ff 13px,#0084ff 19px,#0075ff 25px,#008eff 26px,#03f0fc 28px,#29ffd6 29px,#8bff74 31px,#f9fc06 34px,#ffd700 35px,#ff4000 38px,#ff1f00 39px,#ff3c00 40px,#ffc100 42px,#fbf804 43px,#d4ff2b 45px,#b6ff49 46px,#70ff8f 47px,#18fde7 48px,#00bcff 49px,#007fff 50px,#006eff 51px,#005bff 58px,#005dff 61px,#0073ff 62px,#00e3ff 64px,#22ffdd 65px,#ecfd13 68px,#ffd000 69px,#ffa700 70px,#ff7300 72px,#ff5e00 74px,#ff5300 81px,#ff7000 88px,#ffdb00 93px,#f3ff0c 95px,#7eff81 99px,#6aff95 100px,#5dffa2 104px,#bcff43 109px,#fef901 112px,#ffe900 114px,#ffe400 133px,#fff300 150px,#f0ff0f 157px,#61ff9e 195px,#1fffe0 205px,#00fcff 213px,#00d5ff 222px,#00b4ff 228px,#00b3ff 230px)"></i>
<i style="left:388px;top:772px;width:231px;height:2px;background:linear-gradient(90deg,#ffde80 0px,#ffcf00 1px,#f7ff08 3px,#6dff92 7px,#18fee7 9px,#01eafe 10px,#00c4ff 11px,#009fff 13px,#005cff 19px,#004cff 25px,#0064ff 26px,#05f4fa 29px,#5fffa0 31px,#ebff14 34px,#ffe100 35px,#ff4300 38px,#ff2200 39px,#ff3e00 40px,#ffc500 42px,#f6fb09 43px,#8eff71 46px,#47ffb8 47px,#05edfa 48px,#009dff 49px,#0064ff 50px,#0051ff 52px,#0046ff 60px,#0047ff 61px,#005bff 62px,#04f3fb 65px,#34ffcb 66px,#c9ff36 68px,#fded02 69px,#ffc000 70px,#ff8400 72px,#ff7100 73px,#ff5d00 80px,#ff8000 88px,#fff900 94px,#d2ff2d 96px,#71ff8e 99px,#5bffa4 100px,#51ffae 104px,#b7ff48 109px,#fcfd03 112px,#ffeb00 116px,#ffdc00 129px,#ffec00 150px,#f4ff0b 159px,#72ff8d 195px,#1bffe4 207px,#00f9ff 213px,#00d1ff 221px,#00a0ff 227px,#009cff 230px)"></i>
<i style="left:388px;top:774px;width:231px;height:2px;background:linear-gradient(90deg,#ffe980 0px,#ffe200 1px,#fff700 2px,#eeff11 3px,#12feed 8px,#00e8ff 9px,#009eff 11px,#006eff 14px,#0035ff 19px,#0024ff 25px,#003cff 26px,#07f6f8 30px,#6aff95 32px,#dbff24 34px,#ffeb00 35px,#ff4700 38px,#ff2400 39px,#ff4000 40px,#ffc600 42px,#f4fb0b 43px,#66ff99 46px,#21ffde 47px,#00d2ff 48px,#0085ff 49px,#0051ff 50px,#0041ff 52px,#003aff 61px,#004bff 62px,#00d2ff 65px,#0ffbf0 66px,#effd10 69px,#ffda00 70px,#ff9400 72px,#ff7f00 73px,#ff6a00 80px,#ff9000 88px,#fefc01 94px,#d0ff2f 96px,#65ff9a 99px,#4dffb2 100px,#45ffba 104px,#caff35 110px,#f9ff06 112px,#ffe400 119px,#ffd500 128px,#ffe800 151px,#f7ff08 161px,#82ff7d 195px,#01fefe 211px,#00c6ff 221px,#008bff 227px,#0085ff 230px)"></i>
<i style="left:388px;top:776px;width:231px;height:2px;background:linear-gradient(90deg,#fff480 0px,#fff400 1px,#fafe05 2px,#e5ff1a 3px,#b7ff48 4px,#3effc1 6px,#0efcf1 7px,#00e2ff 8px,#0079ff 11px,#003cff 15px,#000fff 19px,#0004fa 25px,#0015ff 26px,#00d2ff 30px,#0ffcf0 31px,#d5ff2a 34px,#ffeb00 35px,#ff4e00 38px,#ff2d00 39px,#ff4700 40px,#ffc900 42px,#f2fc0d 43px,#0cf9f3 47px,#00bcff 48px,#0074ff 49px,#0043ff 50px,#0034ff 52px,#002eff 61px,#003cff 62px,#00b1ff 65px,#00e4ff 66px,#30ffcf 67px,#d3ff2c 69px,#fdf202 70px,#ffa500 72px,#ff8d00 73px,#ff7800 80px,#ffa000 88px,#fcfd03 94px,#ceff31 96px,#5dffa2 99px,#43ffbc 100px,#3dffc2 104px,#f6ff09 112px,#fff400 114px,#ffd200 127px,#ffe200 151px,#f9ff06 163px,#8eff71 195px,#00fbff 211px,#00c4ff 220px,#0075ff 227px,#006eff 230px)"></i>
<i style="left:388px;top:778px;width:231px;height:2px;background:linear-gradient(90deg,#fff780 0px,#fff700 1px,#fbfe04 2px,#e8ff17 3px,#b3ff4c 4px,#1effe1 6px,#00e2ff 7px,#0059ff 11px,#000dff 16px,#0000ea 19px,#0000dd 25px,#0001f2 26px,#001fff 27px,#00adff 30px,#01e9fe 31px,#39ffc6 32px,#d9ff26 34px,#ffe300 35px,#ff5700 38px,#ff3b00 39px,#ff5500 40px,#ffce00 42px,#f1fe0e 43px,#39ffc6 46px,#03f0fc 47px,#0066ff 49px,#0037ff 50px,#0028ff 52px,#0021ff 61px,#002eff 62px,#0091ff 65px,#00c0ff 66px,#11faee 67px,#b5ff4a 69px,#effe10 70px,#ffdf00 71px,#ffb500 72px,#ff9b00 73px,#ff8500 80px,#ffbb00 89px,#faff05 94px,#cdff32 96px,#57ffa8 99px,#3dffc2 100px,#3affc5 104px,#c2ff3d 110px,#f3ff0c 112px,#fffc00 113px,#ffd100 127px,#ffd900 150px,#f8ff07 166px,#b6ff49 188px,#8dff72 196px,#3cffc3 205px,#03fffc 210px,#00b5ff 220px,#005fff 227px,#0058ff 230px)"></i>
<i style="left:388px;top:780px;width:231px;height:2px;background:linear-gradient(90deg,#fff180 0px,#ffe800 1px,#f9fb06 3px,#caff35 4px,#3cffc3 6px,#17eee8 7px,#009aff 11px,#0020fa 17px,#0011eb 20px,#0012ea 25px,#001af6 26px,#0036ff 27px,#00b1ff 30px,#04e8fb 31px,#3dffc2 32px,#e3ff1c 34px,#ffd900 35px,#ff6000 38px,#ff4900 39px,#ff6200 40px,#ffd300 42px,#efff10 43px,#28ffd7 46px,#00e1ff 47px,#0058ff 49px,#002aff 50px,#001cff 52px,#0015ff 61px,#0020ff 62px,#0077ff 65px,#00a3ff 66px,#02eafd 67px,#46ffb9 68px,#98ff67 69px,#d7ff28 70px,#fdf202 71px,#ffc500 72px,#ffa800 73px,#ff9600 80px,#ffca00 89px,#fffa00 93px,#e8ff17 95px,#a4ff5b 97px,#52ffad 99px,#38ffc7 100px,#31ffce 103px,#37ffc8 104px,#f0ff0f 112px,#fefe01 113px,#ffd100 127px,#ffd900 151px,#faff05 169px,#d0ff2f 185px,#8eff71 197px,#50ffaf 204px,#02fefd 210px,#0098ff 221px,#0049ff 227px,#0042ff 230px)"></i>
<i style="left:388px;top:782px;width:231px;height:2px;background:linear-gradient(90deg,#ffd780 0px,#ffae00 1px,#ffb700 4px,#d6c829 9px,#9ed261 16px,#8ed371 25px,#a7e758 29px,#d9e426 32px,#fed701 34px,#ff6600 38px,#ff5600 39px,#ff7000 40px,#ffd900 42px,#edff12 43px,#17ffe8 46px,#00d0ff 47px,#004aff 49px,#001dff 50px,#000fff 52px,#0008ff 61px,#0012ff 62px,#0065ff 65px,#008fff 66px,#00d6ff 67px,#2bffd4 68px,#7cff83 69px,#f3fd0c 71px,#ffd600 72px,#ffb700 73px,#ffa900 80px,#ffd800 89px,#fdfe02 93px,#e7ff18 95px,#a8ff57 97px,#5bffa4 99px,#42ffbd 100px,#41ffbe 104px,#efff10 112px,#fffd00 114px,#ffd100 127px,#ffdb00 152px,#f9ff06 173px,#d8ff27 185px,#94ff6b 197px,#63ff9c 203px,#01fbfe 210px,#0088ff 221px,#0033ff 227px,#002cff 230px)"></i>
<i style="left:388px;top:784px;width:231px;height:2px;background:linear-gradient(90deg,#ffbd80 0px,#ff7b00 1px,#ff7600 4px,#fc0e00 18px,#ff2d00 25px,#ff6000 31px,#ff9500 34px,#ff9800 35px,#ff6a00 38px,#ff6300 39px,#ff7e00 40px,#ffde00 42px,#eaff15 43px,#0dfaf2 46px,#00c0ff 47px,#003dff 49px,#0011ff 50px,#0003ff 52px,#0006fe 62px,#0053ff 65px,#007bff 66px,#00c0ff 67px,#16fee9 68px,#a7ff58 70px,#e2ff1d 71px,#ffe500 72px,#ffc500 73px,#ffbc00 80px,#ffec00 90px,#fbff04 93px,#e8ff17 95px,#b5ff4a 97px,#76ff89 99px,#61ff9e 100px,#5affa5 104px,#edff12 112px,#fffc00 115px,#ffd100 127px,#ffde00 153px,#f9ff06 174px,#d6ff29 186px,#a1ff5e 196px,#63ff9c 203px,#06fff9 209px,#0077ff 221px,#0022ff 227px,#001bff 230px)"></i>
<i style="left:388px;top:786px;width:231px;height:2px;background:linear-gradient(90deg,#ffbc80 0px,#ff7a00 1px,#ff7200 4px,#fa0200 15px,#dd0000 18px,#ff0a00 25px,#ff6300 32px,#ff8200 34px,#ff8200 36px,#ff7300 39px,#ff8d00 40px,#ffe400 42px,#e7ff18 43px,#a0ff5f 44px,#4dffb2 45px,#08f4f7 46px,#0030ff 49px,#0006fe 50px,#0000ee 59px,#0000f7 62px,#0027ff 64px,#0041ff 65px,#0067ff 66px,#0bf5f4 68px,#95ff6a 70px,#d2ff2d 71px,#fef301 72px,#ffd300 73px,#ffcf00 80px,#fff100 90px,#f4ff0b 94px,#dbff24 96px,#80ff7f 100px,#74ff8b 104px,#f6ff09 113px,#ffed00 119px,#ffd200 127px,#ffe000 153px,#f9ff06 173px,#d4ff2b 187px,#afff50 195px,#62ff9d 203px,#02fdfd 209px,#0017ff 227px,#0012ff 230px)"></i>
<i style="left:388px;top:788px;width:231px;height:2px;background:linear-gradient(90deg,#ffbe80 0px,#ff7b00 1px,#ff6e00 4px,#fa0100 15px,#de0000 18px,#fe0500 25px,#ff6400 32px,#ff8c00 35px,#ff8400 39px,#ff9d00 40px,#ffea00 42px,#e5ff1a 43px,#9cff63 44px,#45ffba 45px,#02eefd 46px,#0024ff 49px,#0000f7 50px,#0000e8 53px,#0000e3 61px,#0003fc 63px,#0030ff 65px,#0056ff 66px,#009aff 67px,#02eafd 68px,#3dffc2 69px,#c1ff3e 71px,#f7fa08 72px,#ffe000 73px,#ffdf00 80px,#faff05 93px,#e3ff1c 96px,#9bff64 100px,#8cff73 104px,#f3ff0c 113px,#fff100 119px,#ffd600 127px,#ffe100 152px,#f9ff06 172px,#d5ff2a 187px,#b1ff4e 195px,#62ff9d 203px,#00f9ff 209px,#007aff 218px,#000dff 227px,#0009ff 230px)"></i>
<i style="left:388px;top:790px;width:231px;height:2px;background:linear-gradient(90deg,#ffc480 0px,#ff8600 1px,#ff6b00 5px,#fb0200 17px,#f90100 20px,#ff2400 26px,#ff6c00 32px,#ff9300 35px,#ff9600 39px,#ffcd00 41px,#fff000 42px,#e2ff1d 43px,#99ff66 44px,#3effc1 45px,#00e5ff 46px,#001aff 49px,#0000ed 50px,#0000de 53px,#0000d9 61px,#0000f4 63px,#000bff 64px,#0023ff 65px,#0047ff 66px,#0089ff 67px,#00daff 68px,#2affd5 69px,#edff12 72px,#ffed00 73px,#ffe900 80px,#faff05 93px,#e9ff16 96px,#afff50 100px,#a4ff5b 104px,#f4ff0b 114px,#fff100 121px,#ffe000 128px,#ffe600 152px,#f8ff07 171px,#d8ff27 186px,#afff50 195px,#61ff9e 203px,#06fff9 208px,#0042ff 221px,#0004ff 227px,#0001fe 230px)"></i>
<i style="left:388px;top:792px;width:231px;height:2px;background:linear-gradient(90deg,#ffd280 0px,#ffa100 1px,#ff7500 7px,#ff0e00 18px,#ff3600 25px,#ff9a00 35px,#ffa800 39px,#fff600 42px,#e0ff1f 43px,#97ff68 44px,#3affc5 45px,#00e0ff 46px,#0014ff 49px,#0000e8 50px,#0000d6 53px,#0000cf 61px,#0000e9 63px,#0002fc 64px,#0015ff 65px,#0038ff 66px,#007aff 67px,#00cbff 68px,#1cffe3 69px,#e0ff1f 72px,#fff900 73px,#fff400 81px,#f6ff09 95px,#c3ff3c 100px,#c0ff3f 105px,#f3ff0c 115px,#fff000 124px,#fff100 153px,#f4ff0b 172px,#dbff24 185px,#acff53 195px,#60ff9f 203px,#03fdfc 208px,#003aff 220px,#0002fd 226px,#0000f6 230px)"></i>
<i style="left:388px;top:794px;width:231px;height:2px;background:linear-gradient(90deg,#ffe080 0px,#ffbe00 1px,#ff8200 9px,#ff2b00 18px,#ff5400 25px,#ffa000 34px,#ffba00 39px,#fdfa02 42px,#deff21 43px,#98ff67 44px,#3cffc3 45px,#00e3ff 46px,#0011ff 49px,#0000e3 50px,#0000d3 52px,#0000c8 60px,#0000cf 62px,#0008ff 65px,#002bff 66px,#006fff 67px,#00c2ff 68px,#15ffea 69px,#d7ff28 72px,#fafe05 73px,#f8ff07 87px,#f1ff0e 96px,#d5ff2a 101px,#dfff20 109px,#fff900 125px,#f6ff09 166px,#dfff20 184px,#a8ff57 195px,#5dffa2 203px,#01fcfe 208px,#0029ff 220px,#0001fc 225px,#0000ed 229px,#0000ed 230px)"></i>
<i style="left:388px;top:796px;width:231px;height:2px;background:linear-gradient(90deg,#ffee80 0px,#ffda00 1px,#ff8b00 12px,#ff5400 18px,#ff8200 26px,#ffbd00 36px,#ffcd00 39px,#fcfd03 42px,#dfff20 43px,#9aff65 44px,#40ffbf 45px,#00e7ff 46px,#000ffe 49px,#0000df 50px,#0000d0 52px,#0000c7 61px,#0000dc 63px,#0003fd 65px,#0022ff 66px,#0067ff 67px,#00bcff 68px,#11fdee 69px,#ceff31 72px,#f1ff0e 73px,#f6ff09 80px,#e0ff1f 105px,#f0ff0f 120px,#fbff04 134px,#efff10 164px,#dcff23 184px,#a5ff5a 195px,#59ffa6 203px,#00faff 208px,#001bff 220px,#0000f9 224px,#0000e3 228px,#0000e3 230px)"></i>
<i style="left:388px;top:798px;width:231px;height:2px;background:linear-gradient(90deg,#fffb80 0px,#fff400 1px,#ffaa00 13px,#ff7f00 18px,#ffe900 40px,#fcff03 42px,#e3ff1c 43px,#a0ff5f 44px,#46ffb9 45px,#02edfd 46px,#002eff 49px,#000ef5 50px,#0000d4 55px,#0000c9 61px,#0000de 63px,#0004fe 65px,#0024ff 66px,#0067ff 67px,#00baff 68px,#0ffbf0 69px,#c5ff3a 72px,#e7ff18 73px,#e8ff17 81px,#d9ff26 98px,#deff21 116px,#efff10 131px,#e3ff1c 166px,#d3ff2c 184px,#a2ff5d 195px,#56ffa9 203px,#0bfff4 207px,#00e4ff 209px,#000dff 220px,#0000f4 223px,#0000d7 228px,#0000d8 230px)"></i>
<i style="left:388px;top:800px;width:231px;height:2px;background:linear-gradient(90deg,#f5ff89 0px,#efff10 1px,#ffec00 7px,#ffce00 13px,#ffa700 18px,#ffd600 31px,#fdff02 42px,#edff12 43px,#bdff42 44px,#41fdbe 46px,#23ecdc 47px,#03a2fc 50px,#0040fb 58px,#0023f3 62px,#002aff 65px,#0042ff 66px,#0082ff 67px,#02d3fd 68px,#25feda 69px,#94ff6b 71px,#c2ff3d 72px,#ddff22 73px,#cfff30 87px,#d1ff2e 115px,#e5ff1a 130px,#d6ff29 172px,#c7ff38 185px,#9eff61 195px,#53ffac 203px,#07fff8 207px,#00baff 211px,#000fff 219px,#0000f6 221px,#0000cc 227px,#0000cd 230px)"></i>
<i style="left:388px;top:802px;width:231px;height:2px;background:linear-gradient(90deg,#e9ff96 0px,#d6ff29 1px,#fdfb02 9px,#ffc700 19px,#fff200 34px,#fff400 40px,#fcdc03 44px,#f4c80b 46px,#97ee68 57px,#4bebb4 66px,#59f8a6 67px,#9eff61 69px,#c2ff3d 71px,#d6ff29 74px,#bfff40 94px,#c8ff37 116px,#ddff22 129px,#cbff34 173px,#bbff44 186px,#9aff65 195px,#4fffb0 203px,#04fffb 207px,#008aff 213px,#0004fd 219px,#0000bf 227px,#0000c2 230px)"></i>
<i style="left:388px;top:804px;width:231px;height:2px;background:linear-gradient(90deg,#deffa0 0px,#c2ff3d 1px,#f7ff08 12px,#ffe800 20px,#faff05 34px,#fffc00 39px,#ffad00 43px,#ff3e00 47px,#fd1800 49px,#e61700 55px,#fa4500 62px,#ff8700 66px,#f5fb0a 71px,#cdff32 73px,#b2ff4d 93px,#bbff44 115px,#d5ff2a 128px,#c0ff3f 176px,#a9ff56 190px,#97ff68 195px,#4cffb3 203px,#04fefb 207px,#008cff 213px,#000bfd 219px,#0000d5 225px,#0000cb 228px,#0000ce 230px)"></i>
<i style="left:388px;top:806px;width:231px;height:2px;background:linear-gradient(90deg,#d5ffaa 0px,#aeff51 1px,#d9ff26 10px,#fafe05 20px,#f3ff0c 36px,#faff05 39px,#ffdd00 41px,#ff8d00 44px,#ff1300 48px,#f80000 49px,#d80000 51px,#b40000 56px,#cf0000 62px,#ff0800 65px,#ff4500 67px,#fef401 71px,#c3ff3c 73px,#aaff55 93px,#b0ff4f 115px,#cdff32 128px,#b2ff4d 183px,#93ff6c 195px,#4bffb4 203px,#09fff6 207px,#00e7ff 209px,#0041ff 220px,#0022fe 228px,#0024ff 230px)"></i>
<i style="left:388px;top:808px;width:231px;height:2px;background:linear-gradient(90deg,#cbffb4 0px,#9aff65 1px,#c2ff3d 9px,#eaff15 20px,#ecff13 37px,#fefa01 40px,#ffb500 43px,#ff2b00 47px,#f50000 49px,#d50000 51px,#b20000 56px,#cb0000 62px,#ff0500 65px,#ff4400 67px,#fbf704 71px,#b8ff47 73px,#a2ff5d 89px,#a3ff5c 114px,#c6ff39 127px,#a4ff5b 187px,#8fff70 195px,#49ffb6 203px,#03fefc 208px,#00c6ff 213px,#0090ff 221px,#0085ff 230px)"></i>
<i style="left:388px;top:810px;width:231px;height:2px;background:linear-gradient(90deg,#c2ffbd 0px,#88ff77 1px,#ddff22 19px,#e4ff1b 37px,#ebff14 39px,#fafe05 40px,#ffbe00 43px,#ff2800 47px,#ff0d00 48px,#f20000 49px,#d30000 51px,#b00000 56px,#ca0000 62px,#ff0500 65px,#ff1f00 66px,#ff9c00 69px,#f8f907 71px,#ceff31 72px,#b1ff4e 73px,#9bff64 87px,#9aff65 114px,#beff41 127px,#9cff63 191px,#90ff6f 195px,#23fcdc 210px,#38efc7 230px)"></i>
<i style="left:388px;top:812px;width:231px;height:2px;background:linear-gradient(90deg,#bcffc3 0px,#7cff83 1px,#d1ff2e 20px,#dbff24 36px,#e4ff1b 39px,#fff600 41px,#ffc700 43px,#ff4600 46px,#ff0a00 48px,#da0000 50px,#ae0000 56px,#c80000 62px,#ff0500 65px,#ff1f00 66px,#ff9e00 69px,#f6fb09 71px,#c9ff36 72px,#abff54 73px,#94ff6b 86px,#8eff71 113px,#b7ff48 127px,#a3ff5c 184px,#c1ff3e 203px,#e1e61e 210px,#fe7e01 223px,#fa6600 228px,#fa6400 230px)"></i>
<i style="left:388px;top:814px;width:231px;height:2px;background:linear-gradient(90deg,#b7ffc8 0px,#71ff8e 1px,#c4ff3b 20px,#d3ff2c 36px,#dcff23 39px,#fcfc03 41px,#ffcf00 43px,#ff4400 46px,#ff0700 48px,#d80000 50px,#ad0000 56px,#c70000 62px,#fe0500 65px,#ff1f00 66px,#ffa000 69px,#f4fd0b 71px,#c3ff3c 72px,#a5ff5a 73px,#8dff72 85px,#86ff79 113px,#b0ff4f 127px,#9eff61 176px,#a8ff57 185px,#d6ff29 196px,#fefb01 202px,#ff7600 213px,#ff0f00 220px,#f20000 223px,#ce0000 228px,#cc0000 230px)"></i>
<i style="left:388px;top:816px;width:231px;height:2px;background:linear-gradient(90deg,#b2ffcd 0px,#67ff98 1px,#a1ff5e 15px,#bfff40 23px,#c9ff36 35px,#d5ff2a 39px,#f8ff07 41px,#fff200 42px,#ffd700 43px,#ff4300 46px,#fe0500 48px,#d50000 50px,#ab0000 56px,#c50000 62px,#fe0500 65px,#ff1f00 66px,#ffa200 69px,#ffd500 70px,#f1ff0e 71px,#beff41 72px,#9eff61 73px,#85ff7a 85px,#7dff82 113px,#a9ff56 127px,#9bff64 171px,#abff54 184px,#fff800 200px,#ffcb00 205px,#ff5700 214px,#fd0200 220px,#c90000 227px,#c70000 230px)"></i>
<i style="left:388px;top:818px;width:231px;height:2px;background:linear-gradient(90deg,#acffd2 0px,#5cffa3 1px,#88ff77 13px,#b0ff4f 20px,#ccff33 37px,#d4ff2b 39px,#f5ff0a 41px,#fff500 42px,#ffdb00 43px,#ff4400 46px,#fd0500 48px,#d20000 50px,#a90000 56px,#c30000 62px,#fe0500 65px,#ff1f00 66px,#ffa300 69px,#ffd800 70px,#eeff11 71px,#b9ff46 72px,#98ff67 73px,#7fff80 84px,#73ff8c 112px,#a3ff5c 127px,#96ff69 169px,#afff50 184px,#fffa00 198px,#ffbb00 205px,#ff3900 215px,#fd0200 219px,#c40000 227px,#c50000 230px)"></i>
<i style="left:388px;top:820px;width:231px;height:2px;background:linear-gradient(90deg,#a8ffd7 0px,#52ffad 1px,#75ff8a 12px,#a8ff57 19px,#ceff31 38px,#e1ff1e 40px,#fff600 42px,#ffdd00 43px,#ff4500 46px,#fd0500 48px,#cf0000 50px,#a80000 56px,#c20000 62px,#fe0400 65px,#ff1f00 66px,#ffa500 69px,#ffdb00 70px,#eaff15 71px,#b4ff4b 72px,#92ff6d 73px,#78ff87 83px,#6aff95 112px,#9dff62 127px,#91ff6e 168px,#b2ff4d 184px,#f8ff07 196px,#ffc500 203px,#ff2d00 215px,#fe0300 218px,#d50000 223px,#c10000 228px,#c40000 230px)"></i>
<i style="left:388px;top:822px;width:231px;height:2px;background:linear-gradient(90deg,#a4ffda 0px,#4cffb3 1px,#6eff91 12px,#a1ff5e 19px,#ceff31 38px,#e1ff1e 40px,#fff700 42px,#ffde00 43px,#ff7a00 45px,#ff4700 46px,#fc0500 48px,#cd0000 50px,#a60000 56px,#c00000 62px,#fd0400 65px,#ff1f00 66px,#ffa700 69px,#ffde00 70px,#e6ff19 71px,#aeff51 72px,#8cff73 73px,#70ff8f 83px,#61ff9e 111px,#96ff69 127px,#8bff74 167px,#baff45 185px,#efff10 195px,#fff300 198px,#ff8800 208px,#ff0300 218px,#d90000 223px,#c70000 228px,#ca0000 230px)"></i>
<i style="left:388px;top:824px;width:231px;height:2px;background:linear-gradient(90deg,#a2ffdd 0px,#47ffb8 1px,#72ff8d 13px,#9eff61 20px,#ceff31 38px,#e0ff1f 40px,#fff900 42px,#ffe000 43px,#ff7c00 45px,#ff4900 46px,#fc0500 48px,#ca0000 50px,#a40000 56px,#bf0000 62px,#fd0400 65px,#ff1f00 66px,#ffa900 69px,#ffe100 70px,#e2ff1d 71px,#a9ff56 72px,#86ff79 73px,#6aff95 82px,#59ffa6 110px,#6cff93 117px,#90ff6f 127px,#86ff79 167px,#c1ff3e 186px,#f8ff07 196px,#ffd100 202px,#ff2400 216px,#fb0000 219px,#d00000 227px,#d30000 230px)"></i>
<i style="left:388px;top:826px;width:231px;height:2px;background:linear-gradient(90deg,#9fffdf 0px,#42ffbd 1px,#6eff91 13px,#99ff66 20px,#d3ff2c 39px,#fffa00 42px,#ffe200 43px,#ff7e00 45px,#ff4b00 46px,#fc0500 48px,#cb0000 50px,#a30000 56px,#b30000 61px,#d20000 63px,#fd0400 65px,#ff1f00 66px,#ffaa00 69px,#ffe300 70px,#dfff20 71px,#a5ff5a 72px,#82ff7d 73px,#66ff99 82px,#54ffab 110px,#67ff98 117px,#8aff75 127px,#81ff7e 167px,#b8ff47 185px,#f7ff08 196px,#ffd400 202px,#fe0300 219px,#da0000 228px,#dc0000 230px)"></i>
<i style="left:388px;top:828px;width:231px;height:2px;background:linear-gradient(90deg,#9dffe1 0px,#3dffc2 1px,#6aff95 13px,#96ff69 21px,#d3ff2c 39px,#fefb01 42px,#ffe400 43px,#ff8000 45px,#ff4d00 46px,#fe0700 48px,#cd0000 50px,#a10000 56px,#b10000 61px,#d10000 63px,#fd0400 65px,#ff1f00 66px,#ffac00 69px,#ffe500 70px,#dcff23 71px,#a2ff5d 72px,#7fff80 73px,#63ff9c 82px,#51ffae 109px,#5effa1 116px,#83ff7c 127px,#7cff83 167px,#acff53 184px,#fefe01 197px,#ffc200 204px,#fe0100 220px,#e40000 228px,#e50000 230px)"></i>
<i style="left:388px;top:830px;width:231px;height:2px;background:linear-gradient(90deg,#9bffe4 0px,#38ffc7 1px,#6cff93 14px,#98ff67 23px,#d3ff2c 39px,#fefc01 42px,#ffe600 43px,#ff8200 45px,#ff4f00 46px,#ff0800 48px,#d00000 50px,#a30000 56px,#b40000 61px,#d40000 63px,#fe0500 65px,#ff2100 66px,#ffb100 69px,#ffea00 70px,#d7ff28 71px,#9fff60 72px,#7bff84 73px,#5fffa0 82px,#4dffb2 109px,#5affa5 116px,#7dff82 127px,#76ff89 167px,#a5ff5a 184px,#fff900 198px,#ffb900 205px,#ff0600 220px,#ee0000 230px)"></i>
<i style="left:388px;top:832px;width:231px;height:2px;background:linear-gradient(90deg,#98ffe6 0px,#33ffcc 1px,#67ff98 14px,#9eff61 26px,#d2ff2d 39px,#fdfc02 42px,#ffe700 43px,#ff8400 45px,#ff5100 46px,#ff0a00 48px,#d20000 50px,#a70000 56px,#c30000 62px,#ff0700 65px,#ff2500 66px,#ffb800 69px,#fef101 70px,#d2ff2d 71px,#9aff65 72px,#78ff87 73px,#5cffa3 82px,#4affb5 109px,#5affa5 117px,#77ff88 127px,#6eff91 166px,#97ff68 183px,#fffb00 198px,#ffc900 204px,#ff0d00 220px,#f60000 228px,#f70000 230px)"></i>
<i style="left:388px;top:834px;width:231px;height:2px;background:linear-gradient(90deg,#96ffe8 0px,#30ffcf 1px,#69ff96 15px,#d2ff2d 39px,#fcfd03 42px,#ffe900 43px,#ffbe00 44px,#ff5300 46px,#ff0c00 48px,#d50000 50px,#ab0000 56px,#c80000 62px,#f30000 64px,#ff0b00 65px,#ff2800 66px,#fbf404 70px,#96ff69 72px,#75ff8a 73px,#57ffa8 83px,#47ffb8 110px,#63ff9c 121px,#71ff8e 128px,#6aff95 166px,#8fff70 183px,#fff900 199px,#ffc300 205px,#ff1100 220px,#fc0000 229px,#fc0000 230px)"></i>
<i style="left:388px;top:836px;width:231px;height:2px;background:linear-gradient(90deg,#95ffe9 0px,#2dffd2 1px,#60ff9f 14px,#d4ff2b 39px,#fdfd02 42px,#ffea00 43px,#ffbf00 44px,#ff5400 46px,#ff0e00 48px,#ee0000 49px,#d70000 50px,#af0000 56px,#cd0000 62px,#f70000 64px,#ff0e00 65px,#ff2c00 66px,#f8f807 70px,#92ff6d 72px,#71ff8e 73px,#54ffab 83px,#44ffbb 110px,#62ff9d 122px,#6bff94 129px,#66ff99 166px,#87ff78 183px,#fdfe02 199px,#ffd600 204px,#ff1400 220px,#fe0000 229px,#fe0000 230px)"></i>
<i style="left:388px;top:838px;width:231px;height:2px;background:linear-gradient(90deg,#94ffeb 0px,#2bffd4 1px,#5cffa3 14px,#b7ff48 31px,#f7fb08 40px,#ffe700 42px,#ffd400 43px,#ff7d00 45px,#ff2c00 47px,#ff0d00 48px,#ef0000 49px,#d00000 51px,#b30000 56px,#d20000 62px,#fa0100 64px,#ff1200 65px,#ff2f00 66px,#ffce00 69px,#f5fb0a 70px,#8eff71 72px,#6eff91 73px,#51ffae 83px,#40ffbf 110px,#67ff98 128px,#61ff9e 165px,#81ff7e 183px,#fdfe02 200px,#ffd100 205px,#ff1600 220px,#ff0100 230px)"></i>
<i style="left:388px;top:840px;width:231px;height:2px;background:linear-gradient(90deg,#93ffec 0px,#28ffd7 1px,#58ffa7 14px,#a3ff5c 27px,#fbf904 36px,#ffbd00 42px,#ffae00 43px,#ff2600 47px,#ff0b00 48px,#dc0000 50px,#b70000 56px,#d60000 62px,#fc0200 64px,#ff3300 66px,#ffd500 69px,#f1fe0e 70px,#8aff75 72px,#6aff95 73px,#4effb1 83px,#3dffc2 110px,#62ff9d 128px,#5dffa2 163px,#7cff83 183px,#fdfe02 201px,#ffcd00 206px,#ff1900 220px,#ff0400 230px)"></i>
<i style="left:388px;top:842px;width:231px;height:2px;background:linear-gradient(90deg,#91ffed 0px,#26ffd9 1px,#55ffaa 14px,#9cff63 26px,#fbfb04 33px,#ff9c00 41px,#ff8700 43px,#ff0800 48px,#d50000 51px,#bb0000 56px,#db0000 62px,#fe0400 64px,#ff3600 66px,#ffa200 68px,#ffdc00 69px,#ebff14 70px,#85ff7a 72px,#67ff98 73px,#4affb5 83px,#3affc5 110px,#5dffa2 128px,#58ffa7 161px,#77ff88 183px,#fdfe02 202px,#ff7c00 213px,#ff1b00 220px,#ff0600 230px)"></i>
<i style="left:388px;top:844px;width:231px;height:2px;background:linear-gradient(90deg,#90ffee 0px,#23ffdc 1px,#51ffae 14px,#9eff61 26px,#f6fe09 31px,#ffd000 34px,#ff7600 40px,#ff5300 44px,#ff0600 48px,#d80000 51px,#bf0000 56px,#e00000 62px,#ff0700 64px,#ff3a00 66px,#ffa800 68px,#ffe300 69px,#e5ff1a 70px,#81ff7e 72px,#63ff9c 73px,#47ffb8 83px,#36ffc9 110px,#58ffa7 128px,#53ffac 159px,#72ff8d 183px,#fefe01 203px,#ff8200 213px,#ff1e00 220px,#ff0900 229px,#ff0900 230px)"></i>
<i style="left:388px;top:846px;width:231px;height:2px;background:linear-gradient(90deg,#8ffff0 0px,#21ffde 1px,#4effb1 14px,#92ff6d 25px,#cfff30 28px,#fafb05 30px,#ff7a00 37px,#ff5400 40px,#ff2500 46px,#fe0400 48px,#db0000 51px,#c30000 56px,#e50000 62px,#ff0b00 64px,#ff3d00 66px,#ffae00 68px,#ffea00 69px,#deff21 70px,#7dff82 72px,#60ff9f 73px,#44ffbb 83px,#33ffcc 110px,#53ffac 128px,#4fffb0 158px,#6dff92 183px,#fffb00 204px,#ff8800 213px,#ff2000 220px,#ff0b00 229px,#ff0b00 230px)"></i>
<i style="left:388px;top:848px;width:231px;height:2px;background:linear-gradient(90deg,#8efff1 0px,#1fffe0 1px,#4affb5 14px,#93ff6c 25px,#c3ff3c 27px,#fcfa03 29px,#ff9a00 33px,#ff6900 36px,#ff3000 42px,#ff0f00 47px,#f00000 49px,#c90000 55px,#df0000 61px,#fa0000 63px,#ff2300 65px,#ff4100 66px,#ffb400 68px,#fef101 69px,#d7ff28 70px,#79ff86 72px,#5dffa2 73px,#40ffbf 83px,#30ffcf 110px,#4effb1 128px,#4affb5 157px,#68ff97 183px,#fbff04 204px,#ff9f00 212px,#ff2300 220px,#ff0e00 229px,#ff0e00 230px)"></i>
<svg width="685" height="895" viewBox="0 0 685 895">
<defs><linearGradient id="jetv" x1="0" y1="0" x2="0" y2="1">
<stop offset="0" stop-color="#000080"/><stop offset="0.125" stop-color="#0000ff"/><stop offset="0.375" stop-color="#00ffff"/><stop offset="0.625" stop-color="#ffff00"/><stop offset="0.875" stop-color="#ff0000"/><stop offset="1" stop-color="#800000"/>
</linearGradient></defs>
<path fill="#fff" d="M29.5 8 L29.5 78.12 L32.4 78.12 L32.4 76.04 L37 76.04 L37 73.96 L41.59 73.96 L41.59 71.88 L46.18 71.88 L46.18 69.8 L50.78 69.8 L50.78 67.72 L55.37 67.72 L55.37 65.64 L59.96 65.64 L59.96 63.56 L64.56 63.56 L64.56 61.48 L69.15 61.48 L69.15 59.4 L73.74 59.4 L73.74 57.32 L78.34 57.32 L78.34 55.24 L82.93 55.24 L82.93 53.16 L87.53 53.16 L87.53 51.08 L92.12 51.08 L92.12 49 L97.36 49 L97.36 46.92 L102.59 46.92 L102.59 44.84 L107.83 44.84 L107.83 42.76 L113.07 42.76 L113.07 40.68 L118.31 40.68 L118.31 38.6 L123.54 38.6 L123.54 36.52 L128.78 36.52 L128.78 34.44 L144.55 34.44 L144.55 36.52 L155.41 36.52 L155.41 38.6 L166.23 38.6 L166.23 40.68 L177.09 40.68 L177.09 42.76 L187.94 42.76 L187.94 44.84 L198.8 44.84 L198.8 46.92 L209.65 46.92 L209.65 49 L220.51 49 L220.51 51.08 L231.36 51.08 L231.36 53.16 L242.22 53.16 L242.22 55.24 L253.04 55.24 L253.04 57.32 L263.9 57.32 L263.9 59.4 L265.57 59.4 L265.57 8 Z"/>
<rect x="29.5" y="24.87" width="2" height="2"/>
<rect x="29.5" y="31.19" width="2" height="2"/>
<rect x="29.5" y="37.52" width="2" height="2"/>
<rect x="29.5" y="43.84" width="2" height="2"/>
<rect x="29.5" y="50.16" width="2" height="2"/>
<rect x="29.5" y="56.49" width="2" height="2"/>
<rect x="29.5" y="62.81" width="2" height="2"/>
<rect x="29.5" y="69.13" width="2" height="2"/>
<rect x="29.5" y="75.46" width="2" height="2"/>
<rect x="29.5" y="81.78" width="2" height="2"/>
<rect x="29.5" y="88.1" width="2" height="2"/>
<rect x="29.5" y="94.43" width="2" height="2"/>
<rect x="29.5" y="100.75" width="2" height="2"/>
<rect x="29.5" y="107.07" width="2" height="2"/>
<rect x="29.5" y="113.4" width="2" height="2"/>
<rect x="29.5" y="119.72" width="2" height="2"/>
<rect x="29.5" y="126.04" width="2" height="2"/>
<rect x="29.5" y="132.36" width="2" height="2"/>
<rect x="29.5" y="138.69" width="2" height="2"/>
<rect x="29.5" y="145.01" width="2" height="2"/>
<rect x="29.5" y="151.33" width="2" height="2"/>
<rect x="29.5" y="157.66" width="2" height="2"/>
<rect x="29.5" y="163.98" width="2" height="2"/>
<rect x="51.27" y="43.84" width="2" height="2"/>
<rect x="51.27" y="50.16" width="2" height="2"/>
<rect x="51.27" y="56.49" width="2" height="2"/>
<rect x="51.27" y="62.81" width="2" height="2"/>
<rect x="51.27" y="69.13" width="2" height="2"/>
<rect x="51.27" y="75.46" width="2" height="2"/>
<rect x="51.27" y="81.78" width="2" height="2"/>
<rect x="51.27" y="88.1" width="2" height="2"/>
<rect x="51.27" y="94.43" width="2" height="2"/>
<rect x="51.27" y="100.75" width="2" height="2"/>
<rect x="51.27" y="107.07" width="2" height="2"/>
<rect x="51.27" y="113.4" width="2" height="2"/>
<rect x="51.27" y="119.72" width="2" height="2"/>
<rect x="51.27" y="126.04" width="2" height="2"/>
<rect x="51.27" y="132.36" width="2" height="2"/>
<rect x="51.27" y="138.69" width="2" height="2"/>
<rect x="51.27" y="145.01" width="2" height="2"/>
<rect x="51.27" y="151.33" width="2" height="2"/>
<rect x="68.46" y="50.16" width="2" height="2"/>
<rect x="68.46" y="56.49" width="2" height="2"/>
<rect x="68.46" y="62.81" width="2" height="2"/>
<rect x="68.46" y="69.13" width="2" height="2"/>
<rect x="68.46" y="75.46" width="2" height="2"/>
<rect x="68.46" y="81.78" width="2" height="2"/>
<rect x="68.46" y="88.1" width="2" height="2"/>
<rect x="68.46" y="94.43" width="2" height="2"/>
<rect x="68.46" y="100.75" width="2" height="2"/>
<rect x="68.46" y="107.07" width="2" height="2"/>
<rect x="68.46" y="113.4" width="2" height="2"/>
<rect x="68.46" y="119.72" width="2" height="2"/>
<rect x="68.46" y="126.04" width="2" height="2"/>
<rect x="68.46" y="132.36" width="2" height="2"/>
<rect x="68.46" y="138.69" width="2" height="2"/>
<rect x="68.46" y="145.01" width="2" height="2"/>
<rect x="68.46" y="151.33" width="2" height="2"/>
<rect x="85.65" y="43.84" width="2" height="2"/>
<rect x="85.65" y="50.16" width="2" height="2"/>
<rect x="85.65" y="56.49" width="2" height="2"/>
<rect x="85.65" y="62.81" width="2" height="2"/>
<rect x="85.65" y="69.13" width="2" height="2"/>
<rect x="85.65" y="75.46" width="2" height="2"/>
<rect x="85.65" y="81.78" width="2" height="2"/>
<rect x="85.65" y="88.1" width="2" height="2"/>
<rect x="85.65" y="94.43" width="2" height="2"/>
<rect x="85.65" y="100.75" width="2" height="2"/>
<rect x="85.65" y="107.07" width="2" height="2"/>
<rect x="85.65" y="113.4" width="2" height="2"/>
<rect x="85.65" y="119.72" width="2" height="2"/>
<rect x="85.65" y="126.04" width="2" height="2"/>
<rect x="85.65" y="132.36" width="2" height="2"/>
<rect x="85.65" y="138.69" width="2" height="2"/>
<rect x="85.65" y="145.01" width="2" height="2"/>
<rect x="85.65" y="151.33" width="2" height="2"/>
<rect x="85.65" y="157.66" width="2" height="2"/>
<rect x="85.65" y="163.98" width="2" height="2"/>
<rect x="107.43" y="50.16" width="2" height="2"/>
<rect x="107.43" y="56.49" width="2" height="2"/>
<rect x="107.43" y="62.81" width="2" height="2"/>
<rect x="107.43" y="69.13" width="2" height="2"/>
<rect x="107.43" y="75.46" width="2" height="2"/>
<rect x="107.43" y="81.78" width="2" height="2"/>
<rect x="107.43" y="88.1" width="2" height="2"/>
<rect x="107.43" y="94.43" width="2" height="2"/>
<rect x="107.43" y="100.75" width="2" height="2"/>
<rect x="107.43" y="107.07" width="2" height="2"/>
<rect x="107.43" y="113.4" width="2" height="2"/>
<rect x="107.43" y="119.72" width="2" height="2"/>
<rect x="107.43" y="126.04" width="2" height="2"/>
<rect x="107.43" y="132.36" width="2" height="2"/>
<rect x="107.43" y="138.69" width="2" height="2"/>
<rect x="107.43" y="145.01" width="2" height="2"/>
<rect x="107.43" y="151.33" width="2" height="2"/>
<rect x="107.43" y="157.66" width="2" height="2"/>
<rect x="107.43" y="163.98" width="2" height="2"/>
<rect x="132.93" y="31.19" width="2" height="2"/>
<rect x="132.93" y="37.52" width="2" height="2"/>
<rect x="132.93" y="43.84" width="2" height="2"/>
<rect x="132.93" y="50.16" width="2" height="2"/>
<rect x="132.93" y="56.49" width="2" height="2"/>
<rect x="132.93" y="62.81" width="2" height="2"/>
<rect x="132.93" y="69.13" width="2" height="2"/>
<rect x="132.93" y="75.46" width="2" height="2"/>
<rect x="132.93" y="81.78" width="2" height="2"/>
<rect x="132.93" y="88.1" width="2" height="2"/>
<rect x="132.93" y="94.43" width="2" height="2"/>
<rect x="132.93" y="100.75" width="2" height="2"/>
<rect x="132.93" y="107.07" width="2" height="2"/>
<rect x="132.93" y="113.4" width="2" height="2"/>
<rect x="132.93" y="119.72" width="2" height="2"/>
<rect x="132.93" y="126.04" width="2" height="2"/>
<rect x="132.93" y="132.36" width="2" height="2"/>
<rect x="132.93" y="138.69" width="2" height="2"/>
<rect x="132.93" y="145.01" width="2" height="2"/>
<rect x="132.93" y="151.33" width="2" height="2"/>
<rect x="132.93" y="157.66" width="2" height="2"/>
<rect x="132.93" y="163.98" width="2" height="2"/>
<rect x="150.4" y="31.19" width="2" height="2"/>
<rect x="150.4" y="37.52" width="2" height="2"/>
<rect x="150.4" y="43.84" width="2" height="2"/>
<rect x="150.4" y="50.16" width="2" height="2"/>
<rect x="150.4" y="56.49" width="2" height="2"/>
<rect x="150.4" y="62.81" width="2" height="2"/>
<rect x="150.4" y="69.13" width="2" height="2"/>
<rect x="150.4" y="75.46" width="2" height="2"/>
<rect x="150.4" y="81.78" width="2" height="2"/>
<rect x="150.4" y="88.1" width="2" height="2"/>
<rect x="150.4" y="94.43" width="2" height="2"/>
<rect x="150.4" y="100.75" width="2" height="2"/>
<rect x="150.4" y="107.07" width="2" height="2"/>
<rect x="150.4" y="113.4" width="2" height="2"/>
<rect x="150.4" y="119.72" width="2" height="2"/>
<rect x="150.4" y="126.04" width="2" height="2"/>
<rect x="150.4" y="132.36" width="2" height="2"/>
<rect x="150.4" y="138.69" width="2" height="2"/>
<rect x="150.4" y="145.01" width="2" height="2"/>
<rect x="150.4" y="151.33" width="2" height="2"/>
<rect x="150.4" y="157.66" width="2" height="2"/>
<rect x="150.4" y="163.98" width="2" height="2"/>
<rect x="218.88" y="18.55" width="2" height="2"/>
<rect x="218.88" y="24.87" width="2" height="2"/>
<rect x="218.88" y="31.19" width="2" height="2"/>
<rect x="218.88" y="37.52" width="2" height="2"/>
<rect x="218.88" y="43.84" width="2" height="2"/>
<rect x="218.88" y="50.16" width="2" height="2"/>
<rect x="218.88" y="56.49" width="2" height="2"/>
<rect x="218.88" y="62.81" width="2" height="2"/>
<rect x="218.88" y="69.13" width="2" height="2"/>
<rect x="218.88" y="75.46" width="2" height="2"/>
<rect x="218.88" y="81.78" width="2" height="2"/>
<rect x="218.88" y="88.1" width="2" height="2"/>
<rect x="218.88" y="94.43" width="2" height="2"/>
<rect x="218.88" y="100.75" width="2" height="2"/>
<rect x="218.88" y="107.07" width="2" height="2"/>
<rect x="218.88" y="113.4" width="2" height="2"/>
<rect x="218.88" y="119.72" width="2" height="2"/>
<rect x="218.88" y="126.04" width="2" height="2"/>
<rect x="218.88" y="132.36" width="2" height="2"/>
<rect x="218.88" y="138.69" width="2" height="2"/>
<rect x="262.42" y="50.16" width="2" height="2"/>
<rect x="262.42" y="56.49" width="2" height="2"/>
<rect x="262.42" y="62.81" width="2" height="2"/>
<rect x="262.42" y="69.13" width="2" height="2"/>
<rect x="262.42" y="75.46" width="2" height="2"/>
<rect x="262.42" y="81.78" width="2" height="2"/>
<rect x="262.42" y="88.1" width="2" height="2"/>
<rect x="262.42" y="94.43" width="2" height="2"/>
<rect x="262.42" y="100.75" width="2" height="2"/>
<rect x="262.42" y="107.07" width="2" height="2"/>
<rect x="262.42" y="113.4" width="2" height="2"/>
<rect x="262.42" y="119.72" width="2" height="2"/>
<rect x="262.42" y="126.04" width="2" height="2"/>
<rect x="262.42" y="132.36" width="2" height="2"/>
<rect x="262.42" y="138.69" width="2" height="2"/>
<rect x="262.42" y="145.01" width="2" height="2"/>
<rect x="262.42" y="151.33" width="2" height="2"/>
<rect x="262.42" y="157.66" width="2" height="2"/>
<rect x="262.42" y="163.98" width="2" height="2"/>
<path d="M28 7.4H268.8 M28 7.4V173.8 M28 173.8H268.8 M268.8 7.4V173.8" stroke="#777" stroke-width="1" fill="none"/>
<path d="M25.5 7.4H28 M268.8 7.4H271.3 M25.5 49H28 M268.8 49H271.3 M25.5 90.6H28 M268.8 90.6H271.3 M25.5 132.2H28 M268.8 132.2H271.3 M25.5 173.8H28 M268.8 173.8H271.3 M30.5 173.8V176.3 M30.5 7.4V4.9 M87.8 173.8V176.3 M87.8 7.4V4.9 M145.1 173.8V176.3 M145.1 7.4V4.9 M202.4 173.8V176.3 M202.4 7.4V4.9 M259.7 173.8V176.3 M259.7 7.4V4.9" stroke="#777" stroke-width="1" fill="none"/>
<text x="21" y="10.7" text-anchor="end" class="tl">0</text>
<text x="21" y="52.3" text-anchor="end" class="tl">1</text>
<text x="21" y="93.9" text-anchor="end" class="tl">2</text>
<text x="21" y="135.5" text-anchor="end" class="tl">3</text>
<text x="21" y="177.1" text-anchor="end" class="tl">4</text>
<text x="30.5" y="189.8" text-anchor="middle" class="tl">0</text>
<text x="87.8" y="189.8" text-anchor="middle" class="tl">20</text>
<text x="145.1" y="189.8" text-anchor="middle" class="tl">40</text>
<text x="202.4" y="189.8" text-anchor="middle" class="tl">60</text>
<text x="259.7" y="189.8" text-anchor="middle" class="tl">80</text>
<text x="148.3" y="208" text-anchor="middle" class="al">Distance (m)</text>
<text transform="translate(10 90.6) rotate(-90)" text-anchor="middle" class="al">log<tspan dy="2.6" font-size="7.6">10</tspan><tspan dy="-2.6"> period (s)</tspan></text>
<text transform="translate(33.9 18.8) rotate(-45)" class="st">s02</text>
<text transform="translate(55.67 18.8) rotate(-45)" class="st">s03</text>
<text transform="translate(72.86 18.8) rotate(-45)" class="st">s04</text>
<text transform="translate(90.05 18.8) rotate(-45)" class="st">s06</text>
<text transform="translate(111.83 18.8) rotate(-45)" class="st">s10</text>
<text transform="translate(137.33 18.8) rotate(-45)" class="st">s11</text>
<text transform="translate(154.8 18.8) rotate(-45)" class="st">s12</text>
<text transform="translate(223.28 18.8) rotate(-45)" class="st">s14</text>
<text transform="translate(266.82 18.8) rotate(-45)" class="st">s15</text>
<rect x="274" y="7.4" width="12.7" height="166.4" fill="url(#jetv)" stroke="#555" stroke-width="0.8"/>
<text x="290" y="10.7" class="tl">1</text>
<path d="M285.1 7.4H286.7" stroke="#333" stroke-width="0.8"/>
<text x="290" y="43.98" class="tl">0</text>
<path d="M285.1 40.68H286.7" stroke="#333" stroke-width="0.8"/>
<text x="290" y="77.26" class="tl">-1</text>
<path d="M285.1 73.96H286.7" stroke="#333" stroke-width="0.8"/>
<text x="290" y="110.54" class="tl">-2</text>
<path d="M285.1 107.24H286.7" stroke="#333" stroke-width="0.8"/>
<text x="290" y="143.82" class="tl">-3</text>
<path d="M285.1 140.52H286.7" stroke="#333" stroke-width="0.8"/>
<text x="290" y="177.1" class="tl">-4</text>
<path d="M285.1 173.8H286.7" stroke="#333" stroke-width="0.8"/>
<text transform="translate(310.7 91.35) rotate(-90)" text-anchor="middle" class="cl">log<tspan dy="2.6" font-size="7.8">10</tspan><tspan dy="-2.6">&#160;(</tspan><tspan font-style="italic" font-family="Liberation Serif">&#961;</tspan>)&#160;&#160;&#160;[Ohm-m]</text>
<text x="169.1" y="152.6" fill="#fff" font-family="Liberation Sans" font-style="italic" font-size="11.27">&#961;</text>
<text x="175.5" y="156.42" fill="#fff" font-family="Liberation Sans" font-weight="bold" font-size="7.84">XX</text>
<text x="189.3" y="152.3" fill="#fff" font-family="Liberation Sans" font-weight="bold" font-size="9.8">Observed</text>
<path fill="#fff" d="M391.7 8 L391.7 78.12 L394.62 78.12 L394.62 76.04 L399.2 76.04 L399.2 73.96 L403.81 73.96 L403.81 71.88 L408.41 71.88 L408.41 69.8 L413.02 69.8 L413.02 67.72 L417.62 67.72 L417.62 65.64 L422.23 65.64 L422.23 63.56 L426.8 63.56 L426.8 61.48 L431.41 61.48 L431.41 59.4 L436.01 59.4 L436.01 57.32 L440.62 57.32 L440.62 55.24 L445.23 55.24 L445.23 53.16 L449.83 53.16 L449.83 51.08 L454.41 51.08 L454.41 49 L459.65 49 L459.65 46.92 L464.93 46.92 L464.93 44.84 L470.18 44.84 L470.18 42.76 L475.42 42.76 L475.42 40.68 L480.67 40.68 L480.67 38.6 L485.92 38.6 L485.92 36.52 L491.16 36.52 L491.16 34.44 L506.93 34.44 L506.93 36.52 L517.81 36.52 L517.81 38.6 L528.68 38.6 L528.68 40.68 L539.55 40.68 L539.55 42.76 L550.42 42.76 L550.42 44.84 L561.29 44.84 L561.29 46.92 L572.17 46.92 L572.17 49 L583.04 49 L583.04 51.08 L593.91 51.08 L593.91 53.16 L604.78 53.16 L604.78 55.24 L615.66 55.24 L615.66 57.32 L626.89 57.32 L626.89 8 Z"/>
<path d="M390.2 7.4H630.5 M390.2 7.4V173.8 M390.2 173.8H630.5 M630.5 7.4V173.8" stroke="#777" stroke-width="1" fill="none"/>
<path d="M387.7 7.4H390.2 M630.5 7.4H633 M387.7 49H390.2 M630.5 49H633 M387.7 90.6H390.2 M630.5 90.6H633 M387.7 132.2H390.2 M630.5 132.2H633 M387.7 173.8H390.2 M630.5 173.8H633 M392.7 173.8V176.3 M392.7 7.4V4.9 M450.1 173.8V176.3 M450.1 7.4V4.9 M507.5 173.8V176.3 M507.5 7.4V4.9 M564.9 173.8V176.3 M564.9 7.4V4.9 M622.3 173.8V176.3 M622.3 7.4V4.9" stroke="#777" stroke-width="1" fill="none"/>
<text x="383.2" y="10.7" text-anchor="end" class="tl">0</text>
<text x="383.2" y="52.3" text-anchor="end" class="tl">1</text>
<text x="383.2" y="93.9" text-anchor="end" class="tl">2</text>
<text x="383.2" y="135.5" text-anchor="end" class="tl">3</text>
<text x="383.2" y="177.1" text-anchor="end" class="tl">4</text>
<text x="392.7" y="189.8" text-anchor="middle" class="tl">0</text>
<text x="450.1" y="189.8" text-anchor="middle" class="tl">20</text>
<text x="507.5" y="189.8" text-anchor="middle" class="tl">40</text>
<text x="564.9" y="189.8" text-anchor="middle" class="tl">60</text>
<text x="622.3" y="189.8" text-anchor="middle" class="tl">80</text>
<text x="510.2" y="208" text-anchor="middle" class="al">Distance (m)</text>
<text transform="translate(372.2 90.6) rotate(-90)" text-anchor="middle" class="al">log<tspan dy="2.6" font-size="7.6">10</tspan><tspan dy="-2.6"> period (s)</tspan></text>
<text transform="translate(396.1 18.8) rotate(-45)" class="st">s02</text>
<text transform="translate(417.91 18.8) rotate(-45)" class="st">s03</text>
<text transform="translate(435.13 18.8) rotate(-45)" class="st">s04</text>
<text transform="translate(452.35 18.8) rotate(-45)" class="st">s06</text>
<text transform="translate(474.16 18.8) rotate(-45)" class="st">s10</text>
<text transform="translate(499.71 18.8) rotate(-45)" class="st">s11</text>
<text transform="translate(517.21 18.8) rotate(-45)" class="st">s12</text>
<text transform="translate(585.81 18.8) rotate(-45)" class="st">s14</text>
<text transform="translate(629.43 18.8) rotate(-45)" class="st">s15</text>
<rect x="636.3" y="7.4" width="12.6" height="166.4" fill="url(#jetv)" stroke="#555" stroke-width="0.8"/>
<text x="652.5" y="10.7" class="tl">1</text>
<path d="M647.3 7.4H648.9" stroke="#333" stroke-width="0.8"/>
<text x="652.5" y="43.98" class="tl">0</text>
<path d="M647.3 40.68H648.9" stroke="#333" stroke-width="0.8"/>
<text x="652.5" y="77.26" class="tl">-1</text>
<path d="M647.3 73.96H648.9" stroke="#333" stroke-width="0.8"/>
<text x="652.5" y="110.54" class="tl">-2</text>
<path d="M647.3 107.24H648.9" stroke="#333" stroke-width="0.8"/>
<text x="652.5" y="143.82" class="tl">-3</text>
<path d="M647.3 140.52H648.9" stroke="#333" stroke-width="0.8"/>
<text x="652.5" y="177.1" class="tl">-4</text>
<path d="M647.3 173.8H648.9" stroke="#333" stroke-width="0.8"/>
<text transform="translate(672.7 91.75) rotate(-90)" text-anchor="middle" class="cl">log<tspan dy="2.6" font-size="7.8">10</tspan><tspan dy="-2.6">&#160;(</tspan><tspan font-style="italic" font-family="Liberation Serif">&#961;</tspan>)&#160;&#160;&#160;[Ohm-m]</text>
<text x="533.9" y="153.8" fill="#fff" font-family="Liberation Sans" font-style="italic" font-size="11.27">&#961;</text>
<text x="540.5" y="157.62" fill="#fff" font-family="Liberation Sans" font-weight="bold" font-size="7.84">XX</text>
<text x="553.7" y="153.5" fill="#fff" font-family="Liberation Sans" font-weight="bold" font-size="9.8">Calculated</text>
<path fill="#fff" d="M29.4 239.8 L29.4 309.75 L32.3 309.75 L32.3 307.67 L36.9 307.67 L36.9 305.6 L41.51 305.6 L41.51 303.52 L46.12 303.52 L46.12 301.45 L50.7 301.45 L50.7 299.38 L55.31 299.38 L55.31 297.3 L59.92 297.3 L59.92 295.23 L64.52 295.23 L64.52 293.15 L69.1 293.15 L69.1 291.07 L73.71 291.07 L73.71 289 L78.32 289 L78.32 286.92 L82.93 286.92 L82.93 284.85 L87.51 284.85 L87.51 282.77 L92.12 282.77 L92.12 280.7 L97.37 280.7 L97.37 278.62 L102.62 278.62 L102.62 276.55 L107.87 276.55 L107.87 274.48 L113.12 274.48 L113.12 272.4 L118.37 272.4 L118.37 270.32 L123.62 270.32 L123.62 268.25 L128.87 268.25 L128.87 266.18 L144.64 266.18 L144.64 268.25 L155.52 268.25 L155.52 270.32 L166.37 270.32 L166.37 272.4 L177.25 272.4 L177.25 274.48 L188.13 274.48 L188.13 276.55 L198.98 276.55 L198.98 278.62 L209.86 278.62 L209.86 280.7 L220.74 280.7 L220.74 282.77 L231.59 282.77 L231.59 284.85 L242.47 284.85 L242.47 286.92 L253.35 286.92 L253.35 289 L264.73 289 L264.73 239.8 Z"/>
<rect x="29.4" y="256.63" width="2" height="2"/>
<rect x="29.4" y="262.93" width="2" height="2"/>
<rect x="29.4" y="269.24" width="2" height="2"/>
<rect x="29.4" y="275.55" width="2" height="2"/>
<rect x="29.4" y="281.86" width="2" height="2"/>
<rect x="29.4" y="288.17" width="2" height="2"/>
<rect x="29.4" y="294.47" width="2" height="2"/>
<rect x="29.4" y="300.78" width="2" height="2"/>
<rect x="29.4" y="307.09" width="2" height="2"/>
<rect x="29.4" y="313.4" width="2" height="2"/>
<rect x="29.4" y="319.71" width="2" height="2"/>
<rect x="29.4" y="326.01" width="2" height="2"/>
<rect x="29.4" y="332.32" width="2" height="2"/>
<rect x="29.4" y="338.63" width="2" height="2"/>
<rect x="29.4" y="344.94" width="2" height="2"/>
<rect x="29.4" y="351.25" width="2" height="2"/>
<rect x="29.4" y="357.55" width="2" height="2"/>
<rect x="29.4" y="363.86" width="2" height="2"/>
<rect x="29.4" y="370.17" width="2" height="2"/>
<rect x="29.4" y="376.48" width="2" height="2"/>
<rect x="29.4" y="382.79" width="2" height="2"/>
<rect x="29.4" y="389.09" width="2" height="2"/>
<rect x="29.4" y="395.4" width="2" height="2"/>
<rect x="51.21" y="275.55" width="2" height="2"/>
<rect x="51.21" y="281.86" width="2" height="2"/>
<rect x="51.21" y="288.17" width="2" height="2"/>
<rect x="51.21" y="294.47" width="2" height="2"/>
<rect x="51.21" y="300.78" width="2" height="2"/>
<rect x="51.21" y="307.09" width="2" height="2"/>
<rect x="51.21" y="313.4" width="2" height="2"/>
<rect x="51.21" y="319.71" width="2" height="2"/>
<rect x="51.21" y="326.01" width="2" height="2"/>
<rect x="51.21" y="332.32" width="2" height="2"/>
<rect x="51.21" y="338.63" width="2" height="2"/>
<rect x="51.21" y="344.94" width="2" height="2"/>
<rect x="51.21" y="351.25" width="2" height="2"/>
<rect x="51.21" y="357.55" width="2" height="2"/>
<rect x="51.21" y="363.86" width="2" height="2"/>
<rect x="51.21" y="370.17" width="2" height="2"/>
<rect x="51.21" y="376.48" width="2" height="2"/>
<rect x="51.21" y="382.79" width="2" height="2"/>
<rect x="68.43" y="281.86" width="2" height="2"/>
<rect x="68.43" y="288.17" width="2" height="2"/>
<rect x="68.43" y="294.47" width="2" height="2"/>
<rect x="68.43" y="300.78" width="2" height="2"/>
<rect x="68.43" y="307.09" width="2" height="2"/>
<rect x="68.43" y="313.4" width="2" height="2"/>
<rect x="68.43" y="319.71" width="2" height="2"/>
<rect x="68.43" y="326.01" width="2" height="2"/>
<rect x="68.43" y="332.32" width="2" height="2"/>
<rect x="68.43" y="338.63" width="2" height="2"/>
<rect x="68.43" y="344.94" width="2" height="2"/>
<rect x="68.43" y="351.25" width="2" height="2"/>
<rect x="68.43" y="357.55" width="2" height="2"/>
<rect x="68.43" y="363.86" width="2" height="2"/>
<rect x="68.43" y="370.17" width="2" height="2"/>
<rect x="68.43" y="376.48" width="2" height="2"/>
<rect x="68.43" y="382.79" width="2" height="2"/>
<rect x="85.65" y="275.55" width="2" height="2"/>
<rect x="85.65" y="281.86" width="2" height="2"/>
<rect x="85.65" y="288.17" width="2" height="2"/>
<rect x="85.65" y="294.47" width="2" height="2"/>
<rect x="85.65" y="300.78" width="2" height="2"/>
<rect x="85.65" y="307.09" width="2" height="2"/>
<rect x="85.65" y="313.4" width="2" height="2"/>
<rect x="85.65" y="319.71" width="2" height="2"/>
<rect x="85.65" y="326.01" width="2" height="2"/>
<rect x="85.65" y="332.32" width="2" height="2"/>
<rect x="85.65" y="338.63" width="2" height="2"/>
<rect x="85.65" y="344.94" width="2" height="2"/>
<rect x="85.65" y="351.25" width="2" height="2"/>
<rect x="85.65" y="357.55" width="2" height="2"/>
<rect x="85.65" y="363.86" width="2" height="2"/>
<rect x="85.65" y="370.17" width="2" height="2"/>
<rect x="85.65" y="376.48" width="2" height="2"/>
<rect x="85.65" y="382.79" width="2" height="2"/>
<rect x="85.65" y="389.09" width="2" height="2"/>
<rect x="85.65" y="395.4" width="2" height="2"/>
<rect x="107.46" y="281.86" width="2" height="2"/>
<rect x="107.46" y="288.17" width="2" height="2"/>
<rect x="107.46" y="294.47" width="2" height="2"/>
<rect x="107.46" y="300.78" width="2" height="2"/>
<rect x="107.46" y="307.09" width="2" height="2"/>
<rect x="107.46" y="313.4" width="2" height="2"/>
<rect x="107.46" y="319.71" width="2" height="2"/>
<rect x="107.46" y="326.01" width="2" height="2"/>
<rect x="107.46" y="332.32" width="2" height="2"/>
<rect x="107.46" y="338.63" width="2" height="2"/>
<rect x="107.46" y="344.94" width="2" height="2"/>
<rect x="107.46" y="351.25" width="2" height="2"/>
<rect x="107.46" y="357.55" width="2" height="2"/>
<rect x="107.46" y="363.86" width="2" height="2"/>
<rect x="107.46" y="370.17" width="2" height="2"/>
<rect x="107.46" y="376.48" width="2" height="2"/>
<rect x="107.46" y="382.79" width="2" height="2"/>
<rect x="107.46" y="389.09" width="2" height="2"/>
<rect x="107.46" y="395.4" width="2" height="2"/>
<rect x="133.01" y="262.93" width="2" height="2"/>
<rect x="133.01" y="269.24" width="2" height="2"/>
<rect x="133.01" y="275.55" width="2" height="2"/>
<rect x="133.01" y="281.86" width="2" height="2"/>
<rect x="133.01" y="288.17" width="2" height="2"/>
<rect x="133.01" y="294.47" width="2" height="2"/>
<rect x="133.01" y="300.78" width="2" height="2"/>
<rect x="133.01" y="307.09" width="2" height="2"/>
<rect x="133.01" y="313.4" width="2" height="2"/>
<rect x="133.01" y="319.71" width="2" height="2"/>
<rect x="133.01" y="326.01" width="2" height="2"/>
<rect x="133.01" y="332.32" width="2" height="2"/>
<rect x="133.01" y="338.63" width="2" height="2"/>
<rect x="133.01" y="344.94" width="2" height="2"/>
<rect x="133.01" y="351.25" width="2" height="2"/>
<rect x="133.01" y="357.55" width="2" height="2"/>
<rect x="133.01" y="363.86" width="2" height="2"/>
<rect x="133.01" y="370.17" width="2" height="2"/>
<rect x="133.01" y="376.48" width="2" height="2"/>
<rect x="133.01" y="382.79" width="2" height="2"/>
<rect x="133.01" y="389.09" width="2" height="2"/>
<rect x="133.01" y="395.4" width="2" height="2"/>
<rect x="150.51" y="262.93" width="2" height="2"/>
<rect x="150.51" y="269.24" width="2" height="2"/>
<rect x="150.51" y="275.55" width="2" height="2"/>
<rect x="150.51" y="281.86" width="2" height="2"/>
<rect x="150.51" y="288.17" width="2" height="2"/>
<rect x="150.51" y="294.47" width="2" height="2"/>
<rect x="150.51" y="300.78" width="2" height="2"/>
<rect x="150.51" y="307.09" width="2" height="2"/>
<rect x="150.51" y="313.4" width="2" height="2"/>
<rect x="150.51" y="319.71" width="2" height="2"/>
<rect x="150.51" y="326.01" width="2" height="2"/>
<rect x="150.51" y="332.32" width="2" height="2"/>
<rect x="150.51" y="338.63" width="2" height="2"/>
<rect x="150.51" y="344.94" width="2" height="2"/>
<rect x="150.51" y="351.25" width="2" height="2"/>
<rect x="150.51" y="357.55" width="2" height="2"/>
<rect x="150.51" y="363.86" width="2" height="2"/>
<rect x="150.51" y="370.17" width="2" height="2"/>
<rect x="150.51" y="376.48" width="2" height="2"/>
<rect x="150.51" y="382.79" width="2" height="2"/>
<rect x="150.51" y="389.09" width="2" height="2"/>
<rect x="150.51" y="395.4" width="2" height="2"/>
<rect x="219.11" y="250.32" width="2" height="2"/>
<rect x="219.11" y="256.63" width="2" height="2"/>
<rect x="219.11" y="262.93" width="2" height="2"/>
<rect x="219.11" y="269.24" width="2" height="2"/>
<rect x="219.11" y="275.55" width="2" height="2"/>
<rect x="219.11" y="281.86" width="2" height="2"/>
<rect x="219.11" y="288.17" width="2" height="2"/>
<rect x="219.11" y="294.47" width="2" height="2"/>
<rect x="219.11" y="300.78" width="2" height="2"/>
<rect x="219.11" y="307.09" width="2" height="2"/>
<rect x="219.11" y="313.4" width="2" height="2"/>
<rect x="219.11" y="319.71" width="2" height="2"/>
<rect x="219.11" y="326.01" width="2" height="2"/>
<rect x="219.11" y="332.32" width="2" height="2"/>
<rect x="219.11" y="338.63" width="2" height="2"/>
<rect x="219.11" y="344.94" width="2" height="2"/>
<rect x="219.11" y="351.25" width="2" height="2"/>
<rect x="219.11" y="357.55" width="2" height="2"/>
<rect x="219.11" y="363.86" width="2" height="2"/>
<rect x="219.11" y="370.17" width="2" height="2"/>
<rect x="262.73" y="281.86" width="2" height="2"/>
<rect x="262.73" y="288.17" width="2" height="2"/>
<rect x="262.73" y="294.47" width="2" height="2"/>
<rect x="262.73" y="300.78" width="2" height="2"/>
<rect x="262.73" y="307.09" width="2" height="2"/>
<rect x="262.73" y="313.4" width="2" height="2"/>
<rect x="262.73" y="319.71" width="2" height="2"/>
<rect x="262.73" y="326.01" width="2" height="2"/>
<rect x="262.73" y="332.32" width="2" height="2"/>
<rect x="262.73" y="338.63" width="2" height="2"/>
<rect x="262.73" y="344.94" width="2" height="2"/>
<rect x="262.73" y="351.25" width="2" height="2"/>
<rect x="262.73" y="357.55" width="2" height="2"/>
<rect x="262.73" y="363.86" width="2" height="2"/>
<rect x="262.73" y="370.17" width="2" height="2"/>
<rect x="262.73" y="376.48" width="2" height="2"/>
<rect x="262.73" y="382.79" width="2" height="2"/>
<rect x="262.73" y="389.09" width="2" height="2"/>
<rect x="262.73" y="395.4" width="2" height="2"/>
<path d="M28.2 239.2H268.9 M28.2 239.2V405.2 M28.2 405.2H268.9 M268.9 239.2V405.2" stroke="#777" stroke-width="1" fill="none"/>
<path d="M25.7 239.2H28.2 M268.9 239.2H271.4 M25.7 280.7H28.2 M268.9 280.7H271.4 M25.7 322.2H28.2 M268.9 322.2H271.4 M25.7 363.7H28.2 M268.9 363.7H271.4 M25.7 405.2H28.2 M268.9 405.2H271.4 M30.4 405.2V407.7 M30.4 239.2V236.7 M87.8 405.2V407.7 M87.8 239.2V236.7 M145.2 405.2V407.7 M145.2 239.2V236.7 M202.6 405.2V407.7 M202.6 239.2V236.7 M260 405.2V407.7 M260 239.2V236.7" stroke="#777" stroke-width="1" fill="none"/>
<text x="21.2" y="242.5" text-anchor="end" class="tl">0</text>
<text x="21.2" y="284" text-anchor="end" class="tl">1</text>
<text x="21.2" y="325.5" text-anchor="end" class="tl">2</text>
<text x="21.2" y="367" text-anchor="end" class="tl">3</text>
<text x="21.2" y="408.5" text-anchor="end" class="tl">4</text>
<text x="30.4" y="421.2" text-anchor="middle" class="tl">0</text>
<text x="87.8" y="421.2" text-anchor="middle" class="tl">20</text>
<text x="145.2" y="421.2" text-anchor="middle" class="tl">40</text>
<text x="202.6" y="421.2" text-anchor="middle" class="tl">60</text>
<text x="260" y="421.2" text-anchor="middle" class="tl">80</text>
<text x="148.3" y="440.1" text-anchor="middle" class="al">Distance (m)</text>
<text transform="translate(10.2 322.2) rotate(-90)" text-anchor="middle" class="al">log<tspan dy="2.6" font-size="7.6">10</tspan><tspan dy="-2.6"> period (s)</tspan></text>
<text transform="translate(33.8 250.6) rotate(-45)" class="st">s02</text>
<text transform="translate(55.61 250.6) rotate(-45)" class="st">s03</text>
<text transform="translate(72.83 250.6) rotate(-45)" class="st">s04</text>
<text transform="translate(90.05 250.6) rotate(-45)" class="st">s06</text>
<text transform="translate(111.86 250.6) rotate(-45)" class="st">s10</text>
<text transform="translate(137.41 250.6) rotate(-45)" class="st">s11</text>
<text transform="translate(154.91 250.6) rotate(-45)" class="st">s12</text>
<text transform="translate(223.51 250.6) rotate(-45)" class="st">s14</text>
<text transform="translate(267.13 250.6) rotate(-45)" class="st">s15</text>
<rect x="274" y="239.2" width="12.5" height="166" fill="url(#jetv)" stroke="#555" stroke-width="0.8"/>
<text x="290.3" y="256.33" class="tl">150</text>
<path d="M284.9 253.03H286.5" stroke="#333" stroke-width="0.8"/>
<text x="290.3" y="279.39" class="tl">100</text>
<path d="M284.9 276.09H286.5" stroke="#333" stroke-width="0.8"/>
<text x="290.3" y="302.44" class="tl">50</text>
<path d="M284.9 299.14H286.5" stroke="#333" stroke-width="0.8"/>
<text x="290.3" y="325.5" class="tl">0</text>
<path d="M284.9 322.2H286.5" stroke="#333" stroke-width="0.8"/>
<text x="290.3" y="348.56" class="tl">-50</text>
<path d="M284.9 345.26H286.5" stroke="#333" stroke-width="0.8"/>
<text x="290.3" y="371.61" class="tl">-100</text>
<path d="M284.9 368.31H286.5" stroke="#333" stroke-width="0.8"/>
<text x="290.3" y="394.67" class="tl">-150</text>
<path d="M284.9 391.37H286.5" stroke="#333" stroke-width="0.8"/>
<text transform="translate(319.7 322.5) rotate(-90)" text-anchor="middle" class="cl" style="fill:#2a2a2a"><tspan font-style="italic" font-family="Liberation Serif">&#981;</tspan>&#160;&#160;[&#176;]</text>
<text x="160.4" y="380.2" fill="#fff" font-family="Liberation Sans" font-style="italic" font-size="12.99">&#981;</text>
<text x="168.7" y="384.65" fill="#fff" font-family="Liberation Sans" font-weight="bold" font-size="9.04">XX</text>
<text x="184.9" y="379.9" fill="#fff" font-family="Liberation Sans" font-weight="bold" font-size="11.3">Observed</text>
<path fill="#fff" d="M391.7 239.8 L391.7 309.75 L394.62 309.75 L394.62 307.67 L399.23 307.67 L399.23 305.6 L403.8 305.6 L403.8 303.52 L408.4 303.52 L408.4 301.45 L413 301.45 L413 299.38 L417.61 299.38 L417.61 297.3 L422.21 297.3 L422.21 295.23 L426.81 295.23 L426.81 293.15 L431.41 293.15 L431.41 291.07 L436.02 291.07 L436.02 289 L440.62 289 L440.62 286.92 L445.22 286.92 L445.22 284.85 L449.82 284.85 L449.82 282.77 L454.43 282.77 L454.43 280.7 L459.67 280.7 L459.67 278.62 L464.91 278.62 L464.91 276.55 L470.16 276.55 L470.16 274.48 L475.4 274.48 L475.4 272.4 L480.67 272.4 L480.67 270.32 L485.92 270.32 L485.92 268.25 L491.16 268.25 L491.16 266.18 L506.95 266.18 L506.95 268.25 L517.82 268.25 L517.82 270.32 L528.68 270.32 L528.68 272.4 L539.55 272.4 L539.55 274.48 L550.41 274.48 L550.41 276.55 L561.28 276.55 L561.28 278.62 L572.17 278.62 L572.17 280.7 L583.04 280.7 L583.04 282.77 L593.9 282.77 L593.9 284.85 L604.77 284.85 L604.77 286.92 L615.64 286.92 L615.64 289 L626.74 289 L626.74 239.8 Z"/>
<path d="M390.2 239.2H630.5 M390.2 239.2V405.2 M390.2 405.2H630.5 M630.5 239.2V405.2" stroke="#777" stroke-width="1" fill="none"/>
<path d="M387.7 239.2H390.2 M630.5 239.2H633 M387.7 280.7H390.2 M630.5 280.7H633 M387.7 322.2H390.2 M630.5 322.2H633 M387.7 363.7H390.2 M630.5 363.7H633 M387.7 405.2H390.2 M630.5 405.2H633 M392.7 405.2V407.7 M392.7 239.2V236.7 M450.1 405.2V407.7 M450.1 239.2V236.7 M507.5 405.2V407.7 M507.5 239.2V236.7 M564.9 405.2V407.7 M564.9 239.2V236.7 M622.3 405.2V407.7 M622.3 239.2V236.7" stroke="#777" stroke-width="1" fill="none"/>
<text x="383.2" y="242.5" text-anchor="end" class="tl">0</text>
<text x="383.2" y="284" text-anchor="end" class="tl">1</text>
<text x="383.2" y="325.5" text-anchor="end" class="tl">2</text>
<text x="383.2" y="367" text-anchor="end" class="tl">3</text>
<text x="383.2" y="408.5" text-anchor="end" class="tl">4</text>
<text x="392.7" y="421.2" text-anchor="middle" class="tl">0</text>
<text x="450.1" y="421.2" text-anchor="middle" class="tl">20</text>
<text x="507.5" y="421.2" text-anchor="middle" class="tl">40</text>
<text x="564.9" y="421.2" text-anchor="middle" class="tl">60</text>
<text x="622.3" y="421.2" text-anchor="middle" class="tl">80</text>
<text x="510" y="434.8" text-anchor="middle" class="al">Distance (m)</text>
<text transform="translate(372.2 322.2) rotate(-90)" text-anchor="middle" class="al">log<tspan dy="2.6" font-size="7.6">10</tspan><tspan dy="-2.6"> period (s)</tspan></text>
<text transform="translate(396.1 250.6) rotate(-45)" class="st">s02</text>
<text transform="translate(417.91 250.6) rotate(-45)" class="st">s03</text>
<text transform="translate(435.13 250.6) rotate(-45)" class="st">s04</text>
<text transform="translate(452.35 250.6) rotate(-45)" class="st">s06</text>
<text transform="translate(474.16 250.6) rotate(-45)" class="st">s10</text>
<text transform="translate(499.71 250.6) rotate(-45)" class="st">s11</text>
<text transform="translate(517.21 250.6) rotate(-45)" class="st">s12</text>
<text transform="translate(585.81 250.6) rotate(-45)" class="st">s14</text>
<text transform="translate(629.43 250.6) rotate(-45)" class="st">s15</text>
<rect x="636.3" y="239.2" width="12.6" height="166" fill="url(#jetv)" stroke="#555" stroke-width="0.8"/>
<text x="652.5" y="256.33" class="tl">150</text>
<path d="M647.3 253.03H648.9" stroke="#333" stroke-width="0.8"/>
<text x="652.5" y="279.39" class="tl">100</text>
<path d="M647.3 276.09H648.9" stroke="#333" stroke-width="0.8"/>
<text x="652.5" y="302.44" class="tl">50</text>
<path d="M647.3 299.14H648.9" stroke="#333" stroke-width="0.8"/>
<text x="652.5" y="325.5" class="tl">0</text>
<path d="M647.3 322.2H648.9" stroke="#333" stroke-width="0.8"/>
<text x="652.5" y="348.56" class="tl">-50</text>
<path d="M647.3 345.26H648.9" stroke="#333" stroke-width="0.8"/>
<text x="652.5" y="371.61" class="tl">-100</text>
<path d="M647.3 368.31H648.9" stroke="#333" stroke-width="0.8"/>
<text x="652.5" y="394.67" class="tl">-150</text>
<path d="M647.3 391.37H648.9" stroke="#333" stroke-width="0.8"/>
<text transform="translate(681.6 322.5) rotate(-90)" text-anchor="middle" class="cl" style="fill:#2a2a2a"><tspan font-style="italic" font-family="Liberation Serif">&#981;</tspan>&#160;&#160;[&#176;]</text>
<text x="524.5" y="378.3" fill="#fff" font-family="Liberation Sans" font-style="italic" font-size="13.11">&#981;</text>
<text x="533.2" y="382.79" fill="#fff" font-family="Liberation Sans" font-weight="bold" font-size="9.12">XX</text>
<text x="549.3" y="378" fill="#fff" font-family="Liberation Sans" font-weight="bold" font-size="11.4">Calculated</text>
<path fill="#fff" d="M29.5 465 L29.5 534.84 L32 534.84 L32 532.48 L38.76 532.48 L38.76 530.12 L45.52 530.12 L45.52 527.76 L52.28 527.76 L52.28 525.4 L59.04 525.4 L59.04 523.03 L65.8 523.03 L65.8 520.67 L72.56 520.67 L72.56 518.31 L79.32 518.31 L79.32 515.95 L86.08 515.95 L86.08 513.59 L92.84 513.59 L92.84 511.23 L99.6 511.23 L99.6 508.86 L106.36 508.86 L106.36 506.5 L113.12 506.5 L113.12 504.14 L119.88 504.14 L119.88 501.78 L126.65 501.78 L126.65 499.42 L133.41 499.42 L133.41 497.05 L143.7 497.05 L143.7 499.42 L156.23 499.42 L156.23 501.78 L168.73 501.78 L168.73 504.14 L181.27 504.14 L181.27 506.5 L193.77 506.5 L193.77 508.86 L206.31 508.86 L206.31 511.23 L218.81 511.23 L218.81 513.59 L231.35 513.59 L231.35 515.95 L243.85 515.95 L243.85 518.31 L256.38 518.31 L256.38 520.67 L268.89 520.67 L268.89 523.03 L270.82 523.03 L270.82 465 Z"/>
<rect x="29.5" y="481.64" width="2" height="2"/>
<rect x="29.5" y="487.88" width="2" height="2"/>
<rect x="29.5" y="494.12" width="2" height="2"/>
<rect x="29.5" y="500.37" width="2" height="2"/>
<rect x="29.5" y="506.61" width="2" height="2"/>
<rect x="29.5" y="512.85" width="2" height="2"/>
<rect x="29.5" y="519.1" width="2" height="2"/>
<rect x="29.5" y="525.34" width="2" height="2"/>
<rect x="29.5" y="531.58" width="2" height="2"/>
<rect x="29.5" y="537.83" width="2" height="2"/>
<rect x="29.5" y="544.07" width="2" height="2"/>
<rect x="29.5" y="550.31" width="2" height="2"/>
<rect x="29.5" y="556.56" width="2" height="2"/>
<rect x="29.5" y="562.8" width="2" height="2"/>
<rect x="29.5" y="569.04" width="2" height="2"/>
<rect x="29.5" y="575.29" width="2" height="2"/>
<rect x="29.5" y="581.53" width="2" height="2"/>
<rect x="29.5" y="587.78" width="2" height="2"/>
<rect x="29.5" y="594.02" width="2" height="2"/>
<rect x="29.5" y="600.26" width="2" height="2"/>
<rect x="29.5" y="606.51" width="2" height="2"/>
<rect x="29.5" y="612.75" width="2" height="2"/>
<rect x="29.5" y="618.99" width="2" height="2"/>
<rect x="51.84" y="500.37" width="2" height="2"/>
<rect x="51.84" y="506.61" width="2" height="2"/>
<rect x="51.84" y="512.85" width="2" height="2"/>
<rect x="51.84" y="519.1" width="2" height="2"/>
<rect x="51.84" y="525.34" width="2" height="2"/>
<rect x="51.84" y="531.58" width="2" height="2"/>
<rect x="51.84" y="537.83" width="2" height="2"/>
<rect x="51.84" y="544.07" width="2" height="2"/>
<rect x="51.84" y="550.31" width="2" height="2"/>
<rect x="51.84" y="556.56" width="2" height="2"/>
<rect x="51.84" y="562.8" width="2" height="2"/>
<rect x="51.84" y="569.04" width="2" height="2"/>
<rect x="51.84" y="575.29" width="2" height="2"/>
<rect x="51.84" y="581.53" width="2" height="2"/>
<rect x="51.84" y="587.78" width="2" height="2"/>
<rect x="51.84" y="594.02" width="2" height="2"/>
<rect x="51.84" y="600.26" width="2" height="2"/>
<rect x="51.84" y="606.51" width="2" height="2"/>
<rect x="69.48" y="506.61" width="2" height="2"/>
<rect x="69.48" y="512.85" width="2" height="2"/>
<rect x="69.48" y="519.1" width="2" height="2"/>
<rect x="69.48" y="525.34" width="2" height="2"/>
<rect x="69.48" y="531.58" width="2" height="2"/>
<rect x="69.48" y="537.83" width="2" height="2"/>
<rect x="69.48" y="544.07" width="2" height="2"/>
<rect x="69.48" y="550.31" width="2" height="2"/>
<rect x="69.48" y="556.56" width="2" height="2"/>
<rect x="69.48" y="562.8" width="2" height="2"/>
<rect x="69.48" y="569.04" width="2" height="2"/>
<rect x="69.48" y="575.29" width="2" height="2"/>
<rect x="69.48" y="581.53" width="2" height="2"/>
<rect x="69.48" y="587.78" width="2" height="2"/>
<rect x="69.48" y="594.02" width="2" height="2"/>
<rect x="69.48" y="600.26" width="2" height="2"/>
<rect x="69.48" y="606.51" width="2" height="2"/>
<rect x="87.12" y="500.37" width="2" height="2"/>
<rect x="87.12" y="506.61" width="2" height="2"/>
<rect x="87.12" y="512.85" width="2" height="2"/>
<rect x="87.12" y="519.1" width="2" height="2"/>
<rect x="87.12" y="525.34" width="2" height="2"/>
<rect x="87.12" y="531.58" width="2" height="2"/>
<rect x="87.12" y="537.83" width="2" height="2"/>
<rect x="87.12" y="544.07" width="2" height="2"/>
<rect x="87.12" y="550.31" width="2" height="2"/>
<rect x="87.12" y="556.56" width="2" height="2"/>
<rect x="87.12" y="562.8" width="2" height="2"/>
<rect x="87.12" y="569.04" width="2" height="2"/>
<rect x="87.12" y="575.29" width="2" height="2"/>
<rect x="87.12" y="581.53" width="2" height="2"/>
<rect x="87.12" y="587.78" width="2" height="2"/>
<rect x="87.12" y="594.02" width="2" height="2"/>
<rect x="87.12" y="600.26" width="2" height="2"/>
<rect x="87.12" y="606.51" width="2" height="2"/>
<rect x="87.12" y="612.75" width="2" height="2"/>
<rect x="87.12" y="618.99" width="2" height="2"/>
<rect x="109.47" y="506.61" width="2" height="2"/>
<rect x="109.47" y="512.85" width="2" height="2"/>
<rect x="109.47" y="519.1" width="2" height="2"/>
<rect x="109.47" y="525.34" width="2" height="2"/>
<rect x="109.47" y="531.58" width="2" height="2"/>
<rect x="109.47" y="537.83" width="2" height="2"/>
<rect x="109.47" y="544.07" width="2" height="2"/>
<rect x="109.47" y="550.31" width="2" height="2"/>
<rect x="109.47" y="556.56" width="2" height="2"/>
<rect x="109.47" y="562.8" width="2" height="2"/>
<rect x="109.47" y="569.04" width="2" height="2"/>
<rect x="109.47" y="575.29" width="2" height="2"/>
<rect x="109.47" y="581.53" width="2" height="2"/>
<rect x="109.47" y="587.78" width="2" height="2"/>
<rect x="109.47" y="594.02" width="2" height="2"/>
<rect x="109.47" y="600.26" width="2" height="2"/>
<rect x="109.47" y="606.51" width="2" height="2"/>
<rect x="109.47" y="612.75" width="2" height="2"/>
<rect x="109.47" y="618.99" width="2" height="2"/>
<rect x="135.63" y="487.88" width="2" height="2"/>
<rect x="135.63" y="494.12" width="2" height="2"/>
<rect x="135.63" y="500.37" width="2" height="2"/>
<rect x="135.63" y="506.61" width="2" height="2"/>
<rect x="135.63" y="512.85" width="2" height="2"/>
<rect x="135.63" y="519.1" width="2" height="2"/>
<rect x="135.63" y="525.34" width="2" height="2"/>
<rect x="135.63" y="531.58" width="2" height="2"/>
<rect x="135.63" y="537.83" width="2" height="2"/>
<rect x="135.63" y="544.07" width="2" height="2"/>
<rect x="135.63" y="550.31" width="2" height="2"/>
<rect x="135.63" y="556.56" width="2" height="2"/>
<rect x="135.63" y="562.8" width="2" height="2"/>
<rect x="135.63" y="569.04" width="2" height="2"/>
<rect x="135.63" y="575.29" width="2" height="2"/>
<rect x="135.63" y="581.53" width="2" height="2"/>
<rect x="135.63" y="587.78" width="2" height="2"/>
<rect x="135.63" y="594.02" width="2" height="2"/>
<rect x="135.63" y="600.26" width="2" height="2"/>
<rect x="135.63" y="606.51" width="2" height="2"/>
<rect x="135.63" y="612.75" width="2" height="2"/>
<rect x="135.63" y="618.99" width="2" height="2"/>
<rect x="153.57" y="487.88" width="2" height="2"/>
<rect x="153.57" y="494.12" width="2" height="2"/>
<rect x="153.57" y="500.37" width="2" height="2"/>
<rect x="153.57" y="506.61" width="2" height="2"/>
<rect x="153.57" y="512.85" width="2" height="2"/>
<rect x="153.57" y="519.1" width="2" height="2"/>
<rect x="153.57" y="525.34" width="2" height="2"/>
<rect x="153.57" y="531.58" width="2" height="2"/>
<rect x="153.57" y="537.83" width="2" height="2"/>
<rect x="153.57" y="544.07" width="2" height="2"/>
<rect x="153.57" y="550.31" width="2" height="2"/>
<rect x="153.57" y="556.56" width="2" height="2"/>
<rect x="153.57" y="562.8" width="2" height="2"/>
<rect x="153.57" y="569.04" width="2" height="2"/>
<rect x="153.57" y="575.29" width="2" height="2"/>
<rect x="153.57" y="581.53" width="2" height="2"/>
<rect x="153.57" y="587.78" width="2" height="2"/>
<rect x="153.57" y="594.02" width="2" height="2"/>
<rect x="153.57" y="600.26" width="2" height="2"/>
<rect x="153.57" y="606.51" width="2" height="2"/>
<rect x="153.57" y="612.75" width="2" height="2"/>
<rect x="153.57" y="618.99" width="2" height="2"/>
<rect x="223.83" y="475.39" width="2" height="2"/>
<rect x="223.83" y="481.64" width="2" height="2"/>
<rect x="223.83" y="487.88" width="2" height="2"/>
<rect x="223.83" y="494.12" width="2" height="2"/>
<rect x="223.83" y="500.37" width="2" height="2"/>
<rect x="223.83" y="506.61" width="2" height="2"/>
<rect x="223.83" y="512.85" width="2" height="2"/>
<rect x="223.83" y="519.1" width="2" height="2"/>
<rect x="223.83" y="525.34" width="2" height="2"/>
<rect x="223.83" y="531.58" width="2" height="2"/>
<rect x="223.83" y="537.83" width="2" height="2"/>
<rect x="223.83" y="544.07" width="2" height="2"/>
<rect x="223.83" y="550.31" width="2" height="2"/>
<rect x="223.83" y="556.56" width="2" height="2"/>
<rect x="223.83" y="562.8" width="2" height="2"/>
<rect x="223.83" y="569.04" width="2" height="2"/>
<rect x="223.83" y="575.29" width="2" height="2"/>
<rect x="223.83" y="581.53" width="2" height="2"/>
<rect x="223.83" y="587.78" width="2" height="2"/>
<rect x="223.83" y="594.02" width="2" height="2"/>
<rect x="268.52" y="506.61" width="2" height="2"/>
<rect x="268.52" y="512.85" width="2" height="2"/>
<rect x="268.52" y="519.1" width="2" height="2"/>
<rect x="268.52" y="525.34" width="2" height="2"/>
<rect x="268.52" y="531.58" width="2" height="2"/>
<rect x="268.52" y="537.83" width="2" height="2"/>
<rect x="268.52" y="544.07" width="2" height="2"/>
<rect x="268.52" y="550.31" width="2" height="2"/>
<rect x="268.52" y="556.56" width="2" height="2"/>
<rect x="268.52" y="562.8" width="2" height="2"/>
<rect x="268.52" y="569.04" width="2" height="2"/>
<rect x="268.52" y="575.29" width="2" height="2"/>
<rect x="268.52" y="581.53" width="2" height="2"/>
<rect x="268.52" y="587.78" width="2" height="2"/>
<rect x="268.52" y="594.02" width="2" height="2"/>
<rect x="268.52" y="600.26" width="2" height="2"/>
<rect x="268.52" y="606.51" width="2" height="2"/>
<rect x="268.52" y="612.75" width="2" height="2"/>
<rect x="268.52" y="618.99" width="2" height="2"/>
<path d="M28.2 464.4H274.8 M28.2 464.4V628.7 M28.2 628.7H274.8 M274.8 464.4V628.7" stroke="#777" stroke-width="1" fill="none"/>
<path d="M25.7 464.4H28.2 M274.8 464.4H277.3 M25.7 505.48H28.2 M274.8 505.48H277.3 M25.7 546.55H28.2 M274.8 546.55H277.3 M25.7 587.62H28.2 M274.8 587.62H277.3 M25.7 628.7H28.2 M274.8 628.7H277.3 M30.5 628.7V631.2 M30.5 464.4V461.9 M89.3 628.7V631.2 M89.3 464.4V461.9 M148.1 628.7V631.2 M148.1 464.4V461.9 M206.9 628.7V631.2 M206.9 464.4V461.9 M265.7 628.7V631.2 M265.7 464.4V461.9" stroke="#777" stroke-width="1" fill="none"/>
<text x="21.2" y="467.7" text-anchor="end" class="tl">0</text>
<text x="21.2" y="508.78" text-anchor="end" class="tl">1</text>
<text x="21.2" y="549.85" text-anchor="end" class="tl">2</text>
<text x="21.2" y="590.92" text-anchor="end" class="tl">3</text>
<text x="21.2" y="632" text-anchor="end" class="tl">4</text>
<text x="30.5" y="644.7" text-anchor="middle" class="tl">0</text>
<text x="89.3" y="644.7" text-anchor="middle" class="tl">20</text>
<text x="148.1" y="644.7" text-anchor="middle" class="tl">40</text>
<text x="206.9" y="644.7" text-anchor="middle" class="tl">60</text>
<text x="265.7" y="644.7" text-anchor="middle" class="tl">80</text>
<text x="153.5" y="661" text-anchor="middle" class="al">Distance (m)</text>
<text transform="translate(10.2 546.55) rotate(-90)" text-anchor="middle" class="al">log<tspan dy="2.6" font-size="7.6">10</tspan><tspan dy="-2.6"> period (s)</tspan></text>
<text transform="translate(33.9 475.8) rotate(-45)" class="st">s02</text>
<text transform="translate(56.24 475.8) rotate(-45)" class="st">s03</text>
<text transform="translate(73.88 475.8) rotate(-45)" class="st">s04</text>
<text transform="translate(91.52 475.8) rotate(-45)" class="st">s06</text>
<text transform="translate(113.87 475.8) rotate(-45)" class="st">s10</text>
<text transform="translate(140.03 475.8) rotate(-45)" class="st">s11</text>
<text transform="translate(157.97 475.8) rotate(-45)" class="st">s12</text>
<text transform="translate(228.23 475.8) rotate(-45)" class="st">s14</text>
<text transform="translate(272.92 475.8) rotate(-45)" class="st">s15</text>
<rect x="281.4" y="464.4" width="12.1" height="164.3" fill="url(#jetv)" stroke="#555" stroke-width="0.8"/>
<text x="297.6" y="467.7" class="tl">1</text>
<path d="M291.9 464.4H293.5" stroke="#333" stroke-width="0.8"/>
<text x="297.6" y="500.56" class="tl">0</text>
<path d="M291.9 497.26H293.5" stroke="#333" stroke-width="0.8"/>
<text x="297.6" y="533.42" class="tl">-1</text>
<path d="M291.9 530.12H293.5" stroke="#333" stroke-width="0.8"/>
<text x="297.6" y="566.28" class="tl">-2</text>
<path d="M291.9 562.98H293.5" stroke="#333" stroke-width="0.8"/>
<text x="297.6" y="599.14" class="tl">-3</text>
<path d="M291.9 595.84H293.5" stroke="#333" stroke-width="0.8"/>
<text x="297.6" y="632" class="tl">-4</text>
<path d="M291.9 628.7H293.5" stroke="#333" stroke-width="0.8"/>
<text transform="translate(320.1 547.75) rotate(-90)" text-anchor="middle" class="cl">log<tspan dy="2.6" font-size="7.8">10</tspan><tspan dy="-2.6">&#160;(</tspan><tspan font-style="italic" font-family="Liberation Serif">&#961;</tspan>)&#160;&#160;&#160;[Ohm-m]</text>
<text x="166.9" y="602" fill="#000" font-family="Liberation Sans" font-style="italic" font-size="11.15">&#961;</text>
<text x="173.4" y="605.77" fill="#000" font-family="Liberation Sans" font-weight="bold" font-size="7.76">YY</text>
<text x="186.5" y="601.7" fill="#000" font-family="Liberation Sans" font-weight="bold" font-size="9.7">Observed</text>
<path fill="#fff" d="M387.3 465.1 L387.3 534.9 L389.74 534.9 L389.74 532.54 L396.32 532.54 L396.32 530.18 L402.86 530.18 L402.86 527.82 L409.44 527.82 L409.44 525.46 L416.01 525.46 L416.01 523.1 L422.59 523.1 L422.59 520.74 L429.13 520.74 L429.13 518.38 L435.71 518.38 L435.71 516.02 L442.28 516.02 L442.28 513.66 L448.85 513.66 L448.85 511.3 L455.4 511.3 L455.4 508.94 L461.97 508.94 L461.97 506.58 L468.55 506.58 L468.55 504.22 L475.09 504.22 L475.09 501.86 L481.67 501.86 L481.67 499.5 L488.24 499.5 L488.24 497.13 L498.22 497.13 L498.22 499.5 L510.39 499.5 L510.39 501.86 L522.56 501.86 L522.56 504.22 L534.7 504.22 L534.7 506.58 L546.87 506.58 L546.87 508.94 L559.01 508.94 L559.01 511.3 L571.17 511.3 L571.17 513.66 L583.34 513.66 L583.34 516.02 L595.48 516.02 L595.48 518.38 L607.65 518.38 L607.65 520.74 L619.98 520.74 L619.98 465.1 Z"/>
<path d="M385.8 464.5H623.7 M385.8 464.5V628.7 M385.8 628.7H623.7 M623.7 464.5V628.7" stroke="#777" stroke-width="1" fill="none"/>
<path d="M383.3 464.5H385.8 M623.7 464.5H626.2 M383.3 505.55H385.8 M623.7 505.55H626.2 M383.3 546.6H385.8 M623.7 546.6H626.2 M383.3 587.65H385.8 M623.7 587.65H626.2 M383.3 628.7H385.8 M623.7 628.7H626.2 M388.3 628.7V631.2 M388.3 464.5V462 M445.4 628.7V631.2 M445.4 464.5V462 M502.5 628.7V631.2 M502.5 464.5V462 M559.6 628.7V631.2 M559.6 464.5V462 M616.7 628.7V631.2 M616.7 464.5V462" stroke="#777" stroke-width="1" fill="none"/>
<text x="378.8" y="467.8" text-anchor="end" class="tl">0</text>
<text x="378.8" y="508.85" text-anchor="end" class="tl">1</text>
<text x="378.8" y="549.9" text-anchor="end" class="tl">2</text>
<text x="378.8" y="590.95" text-anchor="end" class="tl">3</text>
<text x="378.8" y="632" text-anchor="end" class="tl">4</text>
<text x="388.3" y="644.7" text-anchor="middle" class="tl">0</text>
<text x="445.4" y="644.7" text-anchor="middle" class="tl">20</text>
<text x="502.5" y="644.7" text-anchor="middle" class="tl">40</text>
<text x="559.6" y="644.7" text-anchor="middle" class="tl">60</text>
<text x="616.7" y="644.7" text-anchor="middle" class="tl">80</text>
<text x="507.7" y="661" text-anchor="middle" class="al">Distance (m)</text>
<text transform="translate(367.8 546.6) rotate(-90)" text-anchor="middle" class="al">log<tspan dy="2.6" font-size="7.6">10</tspan><tspan dy="-2.6"> period (s)</tspan></text>
<text transform="translate(391.7 475.9) rotate(-45)" class="st">s02</text>
<text transform="translate(413.4 475.9) rotate(-45)" class="st">s03</text>
<text transform="translate(430.53 475.9) rotate(-45)" class="st">s04</text>
<text transform="translate(447.66 475.9) rotate(-45)" class="st">s06</text>
<text transform="translate(469.36 475.9) rotate(-45)" class="st">s10</text>
<text transform="translate(494.77 475.9) rotate(-45)" class="st">s11</text>
<text transform="translate(512.18 475.9) rotate(-45)" class="st">s12</text>
<text transform="translate(580.42 475.9) rotate(-45)" class="st">s14</text>
<text transform="translate(623.81 475.9) rotate(-45)" class="st">s15</text>
<rect x="629.8" y="464.5" width="12" height="164.2" fill="url(#jetv)" stroke="#555" stroke-width="0.8"/>
<text x="645.3" y="467.8" class="tl">1</text>
<path d="M640.2 464.5H641.8" stroke="#333" stroke-width="0.8"/>
<text x="645.3" y="500.64" class="tl">0</text>
<path d="M640.2 497.34H641.8" stroke="#333" stroke-width="0.8"/>
<text x="645.3" y="533.48" class="tl">-1</text>
<path d="M640.2 530.18H641.8" stroke="#333" stroke-width="0.8"/>
<text x="645.3" y="566.32" class="tl">-2</text>
<path d="M640.2 563.02H641.8" stroke="#333" stroke-width="0.8"/>
<text x="645.3" y="599.16" class="tl">-3</text>
<path d="M640.2 595.86H641.8" stroke="#333" stroke-width="0.8"/>
<text x="645.3" y="632" class="tl">-4</text>
<path d="M640.2 628.7H641.8" stroke="#333" stroke-width="0.8"/>
<text transform="translate(667.8 547.2) rotate(-90)" text-anchor="middle" class="cl">log<tspan dy="2.6" font-size="7.8">10</tspan><tspan dy="-2.6">&#160;(</tspan><tspan font-style="italic" font-family="Liberation Serif">&#961;</tspan>)&#160;&#160;&#160;[Ohm-m]</text>
<text x="514.8" y="602.7" fill="#000" font-family="Liberation Sans" font-style="italic" font-size="11.15">&#961;</text>
<text x="521.8" y="606.47" fill="#000" font-family="Liberation Sans" font-weight="bold" font-size="7.76">YY</text>
<text x="534.3" y="602.4" fill="#000" font-family="Liberation Sans" font-weight="bold" font-size="9.7">Calculated</text>
<path fill="#fff" d="M28.5 694.1 L28.5 764.2 L30.94 764.2 L30.94 761.83 L37.5 761.83 L37.5 759.46 L44.08 759.46 L44.08 757.09 L50.63 757.09 L50.63 754.72 L57.22 754.72 L57.22 752.35 L63.77 752.35 L63.77 749.98 L70.35 749.98 L70.35 747.61 L76.91 747.61 L76.91 745.24 L83.46 745.24 L83.46 742.87 L90.04 742.87 L90.04 740.5 L96.6 740.5 L96.6 738.13 L103.18 738.13 L103.18 735.76 L109.73 735.76 L109.73 733.39 L116.32 733.39 L116.32 731.01 L122.87 731.01 L122.87 728.64 L129.45 728.64 L129.45 726.27 L139.44 726.27 L139.44 728.64 L151.6 728.64 L151.6 731.01 L163.75 731.01 L163.75 733.39 L175.91 733.39 L175.91 735.76 L188.06 735.76 L188.06 738.13 L200.22 738.13 L200.22 740.5 L212.37 740.5 L212.37 742.87 L224.52 742.87 L224.52 745.24 L236.68 745.24 L236.68 747.61 L248.83 747.61 L248.83 749.98 L261.47 749.98 L261.47 694.1 Z"/>
<rect x="28.5" y="710.8" width="2" height="2"/>
<rect x="28.5" y="717.07" width="2" height="2"/>
<rect x="28.5" y="723.34" width="2" height="2"/>
<rect x="28.5" y="729.6" width="2" height="2"/>
<rect x="28.5" y="735.87" width="2" height="2"/>
<rect x="28.5" y="742.13" width="2" height="2"/>
<rect x="28.5" y="748.4" width="2" height="2"/>
<rect x="28.5" y="754.67" width="2" height="2"/>
<rect x="28.5" y="760.93" width="2" height="2"/>
<rect x="28.5" y="767.2" width="2" height="2"/>
<rect x="28.5" y="773.47" width="2" height="2"/>
<rect x="28.5" y="779.73" width="2" height="2"/>
<rect x="28.5" y="786" width="2" height="2"/>
<rect x="28.5" y="792.26" width="2" height="2"/>
<rect x="28.5" y="798.53" width="2" height="2"/>
<rect x="28.5" y="804.8" width="2" height="2"/>
<rect x="28.5" y="811.06" width="2" height="2"/>
<rect x="28.5" y="817.33" width="2" height="2"/>
<rect x="28.5" y="823.6" width="2" height="2"/>
<rect x="28.5" y="829.86" width="2" height="2"/>
<rect x="28.5" y="836.13" width="2" height="2"/>
<rect x="28.5" y="842.39" width="2" height="2"/>
<rect x="28.5" y="848.66" width="2" height="2"/>
<rect x="50.2" y="729.6" width="2" height="2"/>
<rect x="50.2" y="735.87" width="2" height="2"/>
<rect x="50.2" y="742.13" width="2" height="2"/>
<rect x="50.2" y="748.4" width="2" height="2"/>
<rect x="50.2" y="754.67" width="2" height="2"/>
<rect x="50.2" y="760.93" width="2" height="2"/>
<rect x="50.2" y="767.2" width="2" height="2"/>
<rect x="50.2" y="773.47" width="2" height="2"/>
<rect x="50.2" y="779.73" width="2" height="2"/>
<rect x="50.2" y="786" width="2" height="2"/>
<rect x="50.2" y="792.26" width="2" height="2"/>
<rect x="50.2" y="798.53" width="2" height="2"/>
<rect x="50.2" y="804.8" width="2" height="2"/>
<rect x="50.2" y="811.06" width="2" height="2"/>
<rect x="50.2" y="817.33" width="2" height="2"/>
<rect x="50.2" y="823.6" width="2" height="2"/>
<rect x="50.2" y="829.86" width="2" height="2"/>
<rect x="50.2" y="836.13" width="2" height="2"/>
<rect x="67.33" y="735.87" width="2" height="2"/>
<rect x="67.33" y="742.13" width="2" height="2"/>
<rect x="67.33" y="748.4" width="2" height="2"/>
<rect x="67.33" y="754.67" width="2" height="2"/>
<rect x="67.33" y="760.93" width="2" height="2"/>
<rect x="67.33" y="767.2" width="2" height="2"/>
<rect x="67.33" y="773.47" width="2" height="2"/>
<rect x="67.33" y="779.73" width="2" height="2"/>
<rect x="67.33" y="786" width="2" height="2"/>
<rect x="67.33" y="792.26" width="2" height="2"/>
<rect x="67.33" y="798.53" width="2" height="2"/>
<rect x="67.33" y="804.8" width="2" height="2"/>
<rect x="67.33" y="811.06" width="2" height="2"/>
<rect x="67.33" y="817.33" width="2" height="2"/>
<rect x="67.33" y="823.6" width="2" height="2"/>
<rect x="67.33" y="829.86" width="2" height="2"/>
<rect x="67.33" y="836.13" width="2" height="2"/>
<rect x="84.46" y="729.6" width="2" height="2"/>
<rect x="84.46" y="735.87" width="2" height="2"/>
<rect x="84.46" y="742.13" width="2" height="2"/>
<rect x="84.46" y="748.4" width="2" height="2"/>
<rect x="84.46" y="754.67" width="2" height="2"/>
<rect x="84.46" y="760.93" width="2" height="2"/>
<rect x="84.46" y="767.2" width="2" height="2"/>
<rect x="84.46" y="773.47" width="2" height="2"/>
<rect x="84.46" y="779.73" width="2" height="2"/>
<rect x="84.46" y="786" width="2" height="2"/>
<rect x="84.46" y="792.26" width="2" height="2"/>
<rect x="84.46" y="798.53" width="2" height="2"/>
<rect x="84.46" y="804.8" width="2" height="2"/>
<rect x="84.46" y="811.06" width="2" height="2"/>
<rect x="84.46" y="817.33" width="2" height="2"/>
<rect x="84.46" y="823.6" width="2" height="2"/>
<rect x="84.46" y="829.86" width="2" height="2"/>
<rect x="84.46" y="836.13" width="2" height="2"/>
<rect x="84.46" y="842.39" width="2" height="2"/>
<rect x="84.46" y="848.66" width="2" height="2"/>
<rect x="106.16" y="735.87" width="2" height="2"/>
<rect x="106.16" y="742.13" width="2" height="2"/>
<rect x="106.16" y="748.4" width="2" height="2"/>
<rect x="106.16" y="754.67" width="2" height="2"/>
<rect x="106.16" y="760.93" width="2" height="2"/>
<rect x="106.16" y="767.2" width="2" height="2"/>
<rect x="106.16" y="773.47" width="2" height="2"/>
<rect x="106.16" y="779.73" width="2" height="2"/>
<rect x="106.16" y="786" width="2" height="2"/>
<rect x="106.16" y="792.26" width="2" height="2"/>
<rect x="106.16" y="798.53" width="2" height="2"/>
<rect x="106.16" y="804.8" width="2" height="2"/>
<rect x="106.16" y="811.06" width="2" height="2"/>
<rect x="106.16" y="817.33" width="2" height="2"/>
<rect x="106.16" y="823.6" width="2" height="2"/>
<rect x="106.16" y="829.86" width="2" height="2"/>
<rect x="106.16" y="836.13" width="2" height="2"/>
<rect x="106.16" y="842.39" width="2" height="2"/>
<rect x="106.16" y="848.66" width="2" height="2"/>
<rect x="131.57" y="717.07" width="2" height="2"/>
<rect x="131.57" y="723.34" width="2" height="2"/>
<rect x="131.57" y="729.6" width="2" height="2"/>
<rect x="131.57" y="735.87" width="2" height="2"/>
<rect x="131.57" y="742.13" width="2" height="2"/>
<rect x="131.57" y="748.4" width="2" height="2"/>
<rect x="131.57" y="754.67" width="2" height="2"/>
<rect x="131.57" y="760.93" width="2" height="2"/>
<rect x="131.57" y="767.2" width="2" height="2"/>
<rect x="131.57" y="773.47" width="2" height="2"/>
<rect x="131.57" y="779.73" width="2" height="2"/>
<rect x="131.57" y="786" width="2" height="2"/>
<rect x="131.57" y="792.26" width="2" height="2"/>
<rect x="131.57" y="798.53" width="2" height="2"/>
<rect x="131.57" y="804.8" width="2" height="2"/>
<rect x="131.57" y="811.06" width="2" height="2"/>
<rect x="131.57" y="817.33" width="2" height="2"/>
<rect x="131.57" y="823.6" width="2" height="2"/>
<rect x="131.57" y="829.86" width="2" height="2"/>
<rect x="131.57" y="836.13" width="2" height="2"/>
<rect x="131.57" y="842.39" width="2" height="2"/>
<rect x="131.57" y="848.66" width="2" height="2"/>
<rect x="148.98" y="717.07" width="2" height="2"/>
<rect x="148.98" y="723.34" width="2" height="2"/>
<rect x="148.98" y="729.6" width="2" height="2"/>
<rect x="148.98" y="735.87" width="2" height="2"/>
<rect x="148.98" y="742.13" width="2" height="2"/>
<rect x="148.98" y="748.4" width="2" height="2"/>
<rect x="148.98" y="754.67" width="2" height="2"/>
<rect x="148.98" y="760.93" width="2" height="2"/>
<rect x="148.98" y="767.2" width="2" height="2"/>
<rect x="148.98" y="773.47" width="2" height="2"/>
<rect x="148.98" y="779.73" width="2" height="2"/>
<rect x="148.98" y="786" width="2" height="2"/>
<rect x="148.98" y="792.26" width="2" height="2"/>
<rect x="148.98" y="798.53" width="2" height="2"/>
<rect x="148.98" y="804.8" width="2" height="2"/>
<rect x="148.98" y="811.06" width="2" height="2"/>
<rect x="148.98" y="817.33" width="2" height="2"/>
<rect x="148.98" y="823.6" width="2" height="2"/>
<rect x="148.98" y="829.86" width="2" height="2"/>
<rect x="148.98" y="836.13" width="2" height="2"/>
<rect x="148.98" y="842.39" width="2" height="2"/>
<rect x="148.98" y="848.66" width="2" height="2"/>
<rect x="217.22" y="704.54" width="2" height="2"/>
<rect x="217.22" y="710.8" width="2" height="2"/>
<rect x="217.22" y="717.07" width="2" height="2"/>
<rect x="217.22" y="723.34" width="2" height="2"/>
<rect x="217.22" y="729.6" width="2" height="2"/>
<rect x="217.22" y="735.87" width="2" height="2"/>
<rect x="217.22" y="742.13" width="2" height="2"/>
<rect x="217.22" y="748.4" width="2" height="2"/>
<rect x="217.22" y="754.67" width="2" height="2"/>
<rect x="217.22" y="760.93" width="2" height="2"/>
<rect x="217.22" y="767.2" width="2" height="2"/>
<rect x="217.22" y="773.47" width="2" height="2"/>
<rect x="217.22" y="779.73" width="2" height="2"/>
<rect x="217.22" y="786" width="2" height="2"/>
<rect x="217.22" y="792.26" width="2" height="2"/>
<rect x="217.22" y="798.53" width="2" height="2"/>
<rect x="217.22" y="804.8" width="2" height="2"/>
<rect x="217.22" y="811.06" width="2" height="2"/>
<rect x="217.22" y="817.33" width="2" height="2"/>
<rect x="217.22" y="823.6" width="2" height="2"/>
<rect x="260.61" y="735.87" width="2" height="2"/>
<rect x="260.61" y="742.13" width="2" height="2"/>
<rect x="260.61" y="748.4" width="2" height="2"/>
<rect x="260.61" y="754.67" width="2" height="2"/>
<rect x="260.61" y="760.93" width="2" height="2"/>
<rect x="260.61" y="767.2" width="2" height="2"/>
<rect x="260.61" y="773.47" width="2" height="2"/>
<rect x="260.61" y="779.73" width="2" height="2"/>
<rect x="260.61" y="786" width="2" height="2"/>
<rect x="260.61" y="792.26" width="2" height="2"/>
<rect x="260.61" y="798.53" width="2" height="2"/>
<rect x="260.61" y="804.8" width="2" height="2"/>
<rect x="260.61" y="811.06" width="2" height="2"/>
<rect x="260.61" y="817.33" width="2" height="2"/>
<rect x="260.61" y="823.6" width="2" height="2"/>
<rect x="260.61" y="829.86" width="2" height="2"/>
<rect x="260.61" y="836.13" width="2" height="2"/>
<rect x="260.61" y="842.39" width="2" height="2"/>
<rect x="260.61" y="848.66" width="2" height="2"/>
<path d="M27.5 693.5H265.8 M27.5 693.5V858.4 M27.5 858.4H265.8 M265.8 693.5V858.4" stroke="#777" stroke-width="1" fill="none"/>
<path d="M25 693.5H27.5 M265.8 693.5H268.3 M25 734.73H27.5 M265.8 734.73H268.3 M25 775.95H27.5 M265.8 775.95H268.3 M25 817.17H27.5 M265.8 817.17H268.3 M25 858.4H27.5 M265.8 858.4H268.3 M29.5 858.4V860.9 M29.5 693.5V691 M86.6 858.4V860.9 M86.6 693.5V691 M143.7 858.4V860.9 M143.7 693.5V691 M200.8 858.4V860.9 M200.8 693.5V691 M257.9 858.4V860.9 M257.9 693.5V691" stroke="#777" stroke-width="1" fill="none"/>
<text x="20.5" y="696.8" text-anchor="end" class="tl">0</text>
<text x="20.5" y="738.02" text-anchor="end" class="tl">1</text>
<text x="20.5" y="779.25" text-anchor="end" class="tl">2</text>
<text x="20.5" y="820.47" text-anchor="end" class="tl">3</text>
<text x="20.5" y="861.7" text-anchor="end" class="tl">4</text>
<text x="29.5" y="874.4" text-anchor="middle" class="tl">0</text>
<text x="86.6" y="874.4" text-anchor="middle" class="tl">20</text>
<text x="143.7" y="874.4" text-anchor="middle" class="tl">40</text>
<text x="200.8" y="874.4" text-anchor="middle" class="tl">60</text>
<text x="257.9" y="874.4" text-anchor="middle" class="tl">80</text>
<text x="146.5" y="891.9" text-anchor="middle" class="al">Distance (m)</text>
<text transform="translate(9.5 775.95) rotate(-90)" text-anchor="middle" class="al">log<tspan dy="2.6" font-size="7.6">10</tspan><tspan dy="-2.6"> period (s)</tspan></text>
<text transform="translate(32.9 704.9) rotate(-45)" class="st">s02</text>
<text transform="translate(54.6 704.9) rotate(-45)" class="st">s03</text>
<text transform="translate(71.73 704.9) rotate(-45)" class="st">s04</text>
<text transform="translate(88.86 704.9) rotate(-45)" class="st">s06</text>
<text transform="translate(110.56 704.9) rotate(-45)" class="st">s10</text>
<text transform="translate(135.97 704.9) rotate(-45)" class="st">s11</text>
<text transform="translate(153.38 704.9) rotate(-45)" class="st">s12</text>
<text transform="translate(221.62 704.9) rotate(-45)" class="st">s14</text>
<text transform="translate(265.01 704.9) rotate(-45)" class="st">s15</text>
<rect x="270.7" y="693.5" width="12.3" height="164.9" fill="url(#jetv)" stroke="#555" stroke-width="0.8"/>
<text x="287" y="710.54" class="tl">150</text>
<path d="M281.4 707.24H283" stroke="#333" stroke-width="0.8"/>
<text x="287" y="733.44" class="tl">100</text>
<path d="M281.4 730.14H283" stroke="#333" stroke-width="0.8"/>
<text x="287" y="756.35" class="tl">50</text>
<path d="M281.4 753.05H283" stroke="#333" stroke-width="0.8"/>
<text x="287" y="779.25" class="tl">0</text>
<path d="M281.4 775.95H283" stroke="#333" stroke-width="0.8"/>
<text x="287" y="802.15" class="tl">-50</text>
<path d="M281.4 798.85H283" stroke="#333" stroke-width="0.8"/>
<text x="287" y="825.06" class="tl">-100</text>
<path d="M281.4 821.76H283" stroke="#333" stroke-width="0.8"/>
<text x="287" y="847.96" class="tl">-150</text>
<path d="M281.4 844.66H283" stroke="#333" stroke-width="0.8"/>
<text transform="translate(318.6 776) rotate(-90)" text-anchor="middle" class="cl" style="fill:#2a2a2a"><tspan font-style="italic" font-family="Liberation Serif">&#981;</tspan>&#160;&#160;[&#176;]</text>
<text x="163.9" y="829.7" fill="#000" font-family="Liberation Sans" font-style="italic" font-size="8.64">&#981;</text>
<text x="171.8" y="833.43" fill="#000" font-family="Liberation Sans" font-weight="bold" font-size="7.68">YY</text>
<text x="184.9" y="829.4" fill="#000" font-family="Liberation Sans" font-weight="bold" font-size="9.6">Observed</text>
<path fill="#fff" d="M387.3 694.1 L387.3 764.2 L389.74 764.2 L389.74 761.83 L396.32 761.83 L396.32 759.46 L402.86 759.46 L402.86 757.09 L409.44 757.09 L409.44 754.72 L416.01 754.72 L416.01 752.35 L422.59 752.35 L422.59 749.98 L429.13 749.98 L429.13 747.61 L435.71 747.61 L435.71 745.24 L442.28 745.24 L442.28 742.87 L448.85 742.87 L448.85 740.5 L455.4 740.5 L455.4 738.13 L461.97 738.13 L461.97 735.76 L468.55 735.76 L468.55 733.39 L475.09 733.39 L475.09 731.01 L481.67 731.01 L481.67 728.64 L488.24 728.64 L488.24 726.27 L498.22 726.27 L498.22 728.64 L510.39 728.64 L510.39 731.01 L522.56 731.01 L522.56 733.39 L534.7 733.39 L534.7 735.76 L546.87 735.76 L546.87 738.13 L559.01 738.13 L559.01 740.5 L571.17 740.5 L571.17 742.87 L583.34 742.87 L583.34 745.24 L595.48 745.24 L595.48 747.61 L607.65 747.61 L607.65 749.98 L619.98 749.98 L619.98 694.1 Z"/>
<path d="M385.8 693.5H623.5 M385.8 693.5V858.4 M385.8 858.4H623.5 M623.5 693.5V858.4" stroke="#777" stroke-width="1" fill="none"/>
<path d="M383.3 693.5H385.8 M623.5 693.5H626 M383.3 734.73H385.8 M623.5 734.73H626 M383.3 775.95H385.8 M623.5 775.95H626 M383.3 817.17H385.8 M623.5 817.17H626 M383.3 858.4H385.8 M623.5 858.4H626 M388.3 858.4V860.9 M388.3 693.5V691 M445.4 858.4V860.9 M445.4 693.5V691 M502.5 858.4V860.9 M502.5 693.5V691 M559.6 858.4V860.9 M559.6 693.5V691 M616.7 858.4V860.9 M616.7 693.5V691" stroke="#777" stroke-width="1" fill="none"/>
<text x="378.8" y="696.8" text-anchor="end" class="tl">0</text>
<text x="378.8" y="738.02" text-anchor="end" class="tl">1</text>
<text x="378.8" y="779.25" text-anchor="end" class="tl">2</text>
<text x="378.8" y="820.47" text-anchor="end" class="tl">3</text>
<text x="378.8" y="861.7" text-anchor="end" class="tl">4</text>
<text x="388.3" y="874.4" text-anchor="middle" class="tl">0</text>
<text x="445.4" y="874.4" text-anchor="middle" class="tl">20</text>
<text x="502.5" y="874.4" text-anchor="middle" class="tl">40</text>
<text x="559.6" y="874.4" text-anchor="middle" class="tl">60</text>
<text x="616.7" y="874.4" text-anchor="middle" class="tl">80</text>
<text x="504.6" y="886.9" text-anchor="middle" class="al">Distance (m)</text>
<text transform="translate(367.8 775.95) rotate(-90)" text-anchor="middle" class="al">log<tspan dy="2.6" font-size="7.6">10</tspan><tspan dy="-2.6"> period (s)</tspan></text>
<text transform="translate(391.7 704.9) rotate(-45)" class="st">s02</text>
<text transform="translate(413.4 704.9) rotate(-45)" class="st">s03</text>
<text transform="translate(430.53 704.9) rotate(-45)" class="st">s04</text>
<text transform="translate(447.66 704.9) rotate(-45)" class="st">s06</text>
<text transform="translate(469.36 704.9) rotate(-45)" class="st">s10</text>
<text transform="translate(494.77 704.9) rotate(-45)" class="st">s11</text>
<text transform="translate(512.18 704.9) rotate(-45)" class="st">s12</text>
<text transform="translate(580.42 704.9) rotate(-45)" class="st">s14</text>
<text transform="translate(623.81 704.9) rotate(-45)" class="st">s15</text>
<rect x="629.5" y="693.5" width="12.3" height="164.9" fill="url(#jetv)" stroke="#555" stroke-width="0.8"/>
<text x="645.3" y="710.54" class="tl">150</text>
<path d="M640.2 707.24H641.8" stroke="#333" stroke-width="0.8"/>
<text x="645.3" y="733.44" class="tl">100</text>
<path d="M640.2 730.14H641.8" stroke="#333" stroke-width="0.8"/>
<text x="645.3" y="756.35" class="tl">50</text>
<path d="M640.2 753.05H641.8" stroke="#333" stroke-width="0.8"/>
<text x="645.3" y="779.25" class="tl">0</text>
<path d="M640.2 775.95H641.8" stroke="#333" stroke-width="0.8"/>
<text x="645.3" y="802.15" class="tl">-50</text>
<path d="M640.2 798.85H641.8" stroke="#333" stroke-width="0.8"/>
<text x="645.3" y="825.06" class="tl">-100</text>
<path d="M640.2 821.76H641.8" stroke="#333" stroke-width="0.8"/>
<text x="645.3" y="847.96" class="tl">-150</text>
<path d="M640.2 844.66H641.8" stroke="#333" stroke-width="0.8"/>
<text transform="translate(674.5 776) rotate(-90)" text-anchor="middle" class="cl" style="fill:#2a2a2a"><tspan font-style="italic" font-family="Liberation Serif">&#981;</tspan>&#160;&#160;[&#176;]</text>
<text x="514.8" y="833.9" fill="#000" font-family="Liberation Sans" font-style="italic" font-size="8.73">&#981;</text>
<text x="523" y="837.67" fill="#000" font-family="Liberation Sans" font-weight="bold" font-size="7.76">YY</text>
<text x="536.2" y="833.6" fill="#000" font-family="Liberation Sans" font-weight="bold" font-size="9.7">Calculated</text>
</svg>
</body></html>
